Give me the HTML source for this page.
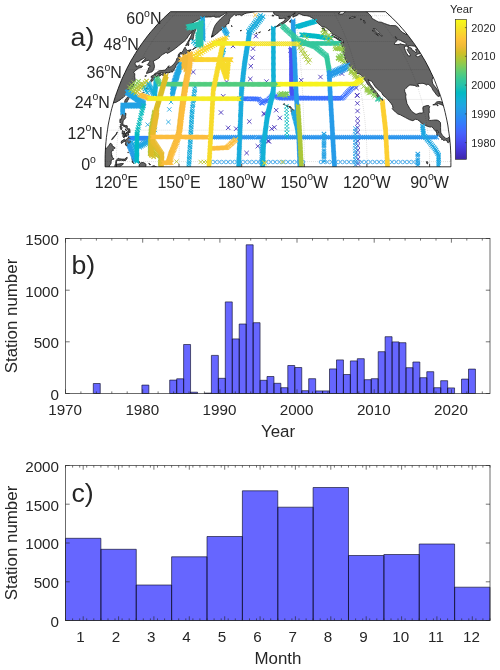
<!DOCTYPE html>
<html lang="en"><head><meta charset="utf-8"><title>Station distribution</title>
<style>html,body{margin:0;padding:0;background:#fff}body{width:500px;height:670px;overflow:hidden}svg{display:block}text{font-family:"Liberation Sans", Arial, Helvetica, sans-serif;fill:#262626}</style></head><body>
<svg width="500" height="670" viewBox="0 0 500 670">
<rect width="500" height="670" fill="#fff"/>
<defs><clipPath id="mapclip"><path d="M105.1 166.8 L105.1 162.6 L105.1 158.5 L105.2 154.3 L105.4 150.1 L105.6 145.9 L106 141.7 L106.4 137.5 L107 133.3 L107.6 129.2 L108.2 125 L109 120.9 L109.9 116.7 L110.8 112.6 L111.8 108.5 L113 104.4 L114.1 100.4 L115.4 96.3 L116.8 92.3 L118.3 88.3 L119.8 84.3 L121.4 80.3 L123.1 76.4 L125 72.5 L126.8 68.6 L128.8 64.8 L130.9 60.9 L133.1 57.2 L135.4 53.4 L137.7 49.7 L140.2 46 L142.7 42.4 L145.4 38.8 L148.1 35.2 L151 31.7 L154 28.3 L157 24.8 L160.2 21.5 L163.5 18.2 L167 14.9 L170.5 11.7 L385.5 11.7 L389 14.9 L392.5 18.2 L395.8 21.5 L399 24.8 L402 28.3 L405 31.7 L407.9 35.2 L410.6 38.8 L413.3 42.4 L415.8 46 L418.3 49.7 L420.6 53.4 L422.9 57.2 L425.1 60.9 L427.2 64.8 L429.2 68.6 L431 72.5 L432.9 76.4 L434.6 80.3 L436.2 84.3 L437.7 88.3 L439.2 92.3 L440.6 96.3 L441.9 100.4 L443 104.4 L444.2 108.5 L445.2 112.6 L446.1 116.7 L447 120.9 L447.8 125 L448.4 129.2 L449 133.3 L449.6 137.5 L450 141.7 L450.4 145.9 L450.6 150.1 L450.8 154.3 L450.9 158.5 L450.9 162.6 L450.9 166.8Z"/></clipPath>
<path id="mx" d="M-2 -2L2 2M-2 2L2 -2" fill="none"/>
<linearGradient id="cb" x1="0" y1="1" x2="0" y2="0">
<stop offset="0.0000" stop-color="#3e26a8"/>
<stop offset="0.0476" stop-color="#4332cb"/>
<stop offset="0.0952" stop-color="#4741e5"/>
<stop offset="0.1429" stop-color="#4852f4"/>
<stop offset="0.1905" stop-color="#4563fd"/>
<stop offset="0.2381" stop-color="#3875fe"/>
<stop offset="0.2857" stop-color="#2e87f7"/>
<stop offset="0.3333" stop-color="#2797eb"/>
<stop offset="0.3810" stop-color="#20a5e3"/>
<stop offset="0.4286" stop-color="#12b1d6"/>
<stop offset="0.4762" stop-color="#02bac3"/>
<stop offset="0.5238" stop-color="#24c1ae"/>
<stop offset="0.5714" stop-color="#37c897"/>
<stop offset="0.6190" stop-color="#57cc7a"/>
<stop offset="0.6667" stop-color="#81cc59"/>
<stop offset="0.7143" stop-color="#abc739"/>
<stop offset="0.7619" stop-color="#d1bf27"/>
<stop offset="0.8095" stop-color="#f0ba36"/>
<stop offset="0.8571" stop-color="#fec338"/>
<stop offset="0.9048" stop-color="#fad62d"/>
<stop offset="0.9524" stop-color="#f5e924"/>
<stop offset="1.0000" stop-color="#f9fb15"/>
</linearGradient></defs>
<g clip-path="url(#mapclip)">
<path d="M174.8 -3.3 L264.9 -3.3 L262.4 8.8 L254.1 11.9 L250 12.6 L246.8 13.1 L244.3 13.9 L241.4 15.7 L240 14.7 L237.3 14.8 L235.8 15.7 L235.2 14.9 L234.4 14.3 L232.6 15.9 L231.2 17.3 L229.9 18.8 L229 20 L229.8 20.6 L228.9 21.9 L228.9 23.4 L227.3 23.8 L225.8 25.7 L226 26.8 L223.4 27.6 L222 29.3 L219.6 30.8 L217.9 32.8 L216 34.1 L214.4 35.5 L213 36.6 L211.5 36.8 L212 34.8 L212.6 32.6 L213.5 29.3 L214.5 26.5 L215.7 24.4 L217.4 22.3 L219 20.6 L220.7 18.8 L223 16.7 L225.4 14.7 L227 13.3 L226.6 12.7 L224.7 13.7 L222.4 15.1 L220.2 16.3 L219.8 17.1 L217.9 17.1 L216.1 17.3 L214.7 17.1 L214.6 16.4 L212.9 16.3 L211.1 16.9 L208.4 16.9 L206.9 17.1 L203.8 17 L201.7 17.8 L198.2 19.8 L194.9 21.5 L192.8 22.9 L190.5 24.4 L187.3 26.3 L188.1 27 L187.1 28.5 L188.2 29.1 L189.6 28.5 L192 27.8 L192.4 28.9 L192.9 30 L191.8 31.7 L191.6 32.6 L190.1 33.7 L188.4 35.9 L187.1 38.1 L186.3 39.2 L183.9 41.5 L181.1 43.7 L178.3 46 L175.5 48.3 L172.9 50.2 L169.2 52.5 L167.1 53.4 L166.4 52.4 L165.5 52.7 L163.7 53.9 L162.5 54.6 L160.7 55.8 L159.2 57.9 L158.1 58.6 L155.7 60 L153.8 60.9 L153.2 61.9 L153.8 62.9 L154.2 64.5 L154.5 66.7 L153.7 69.6 L152.6 71.3 L151.8 71.9 L150.4 72.3 L149.1 72.7 L147.6 73.2 L146.5 73.6 L146.6 72.5 L147.6 70.8 L148.3 69.6 L148.5 67.9 L149.7 67.2 L150 65.7 L149 65.5 L147.7 65.2 L147.3 64.5 L148.7 63.1 L149.7 61.4 L149 60.7 L148.5 60.2 L146.5 60.7 L144.2 61.7 L141.9 62.9 L142.3 61.7 L144.2 60 L145.6 58.6 L144.8 57.9 L143.2 58.6 L140.5 60.2 L138.2 61.9 L136.4 62 L135 63.3 L135.1 64.5 L136.3 65.2 L136 66.7 L137.6 66.4 L139.6 65.2 L140.7 66 L142.6 66.2 L141.6 67.4 L138.8 68.1 L137.1 69.3 L135.1 70.8 L133.9 72 L133.6 73 L134.8 73.7 L134.7 76.9 L135.2 79.4 L135.3 80.1 L134.6 82.1 L132.5 83.1 L132.1 83.6 L133.1 84.1 L134 84.5 L133 86.3 L131.7 88.5 L130.2 89.5 L128.3 91.5 L126.6 93.3 L125.6 95.1 L124 96.6 L123 97.8 L121.7 98.3 L120.2 99.9 L118.1 101.1 L115.9 102.4 L113.2 102.9 L111 103.7 L103.4 105.7 L83.4 105.7Z M195.5 27.5 L196.1 28.7 L195.3 30.8 L194.5 32.6 L193.8 34.8 L193.6 36.6 L193.1 38.6 L193.4 39.2 L192 39.7 L191 38.6 L189.1 41 L188.7 42.6 L188.7 44 L188.8 44.9 L188.2 45.9 L187.8 44.5 L186.8 44.9 L185.7 46.1 L186.2 44.6 L187.5 42.4 L189 39.7 L190.5 37 L191.5 34.8 L192 32.8 L193.8 29.8Z M185.1 47.2 L185.7 48.5 L186.6 49.9 L187.8 50.7 L189.6 49.9 L188.8 51.1 L189.6 52.1 L187.9 52.9 L186.5 53.1 L185.3 53.9 L184 55.3 L182.9 54.6 L182 53.9 L180.5 54.1 L179.3 54.6 L179.7 55.8 L178 56.6 L178.3 54.8 L180 52.5 L181.6 52.5 L183 50.9 L184 48.8Z M179.4 56.5 L180.3 56.7 L179.4 58.6 L179.7 60.2 L179.4 61.4 L177.9 63.6 L176.6 64.3 L176 65.7 L175.5 67.4 L174.1 69.1 L174.2 70.2 L173 71.5 L171.8 72.3 L172 71 L171 71.3 L170.3 72.3 L169.6 73 L169.3 72 L168.4 72.9 L166.7 73 L166.3 72 L165.4 73 L165.8 73.7 L164.3 74.7 L163 75.8 L162.1 74.7 L162.6 73.6 L163.3 72.9 L161.9 72.6 L160.6 73 L159.1 73.6 L157.4 73.7 L156 74.4 L154.3 74.4 L154.8 73.5 L156.5 72.7 L158.8 70.9 L160.2 70.6 L162.1 70.6 L164 70.2 L165.3 70.3 L166 68.9 L167.6 67.4 L168.2 66.2 L169.4 66 L168.4 66.9 L168.3 67.7 L169.9 67.2 L171.5 66.2 L173.7 64.3 L175.5 61.9 L176.4 60.2 L176.8 58.6 L178.1 57.2Z M157.1 75.2 L158.4 74.4 L160.5 73.5 L161.5 74 L161.2 74.9 L160 76.2 L158.9 75.7 L157.2 77.5 L156.6 77.1 L156.6 75.9Z M154.3 74.6 L155.5 75.4 L155.6 76.4 L155.1 77.6 L153.6 79.8 L152.4 81.1 L151.4 81.8 L150.6 81.2 L151.4 79.1 L152.5 77.9 L152.1 76.9 L151 77.4 L151.3 76.2 L152.2 75.7 L153.1 75.3Z M129.2 96.1 L129.8 96.8 L129 98.3 L127.7 100.6 L126.6 102.7 L125.3 104.7 L125.1 103.7 L124.7 101.9 L125 100.4 L126.3 98.6 L127.8 96.8Z M122.8 113.3 L124 113.1 L126 113.4 L125.6 116.5 L125.8 117.5 L124.6 119.3 L123.2 120.6 L122.9 122.9 L122.9 124.8 L124 125.1 L125.4 125.5 L127.2 125.8 L127.3 127.6 L127.3 128.8 L126.6 128.1 L125.7 127.6 L124.9 126.2 L124.1 127.1 L123.5 125.7 L122.8 125.3 L121.6 125.9 L120.5 125.4 L120.7 124.2 L121.5 123.7 L120.9 123.1 L120.2 122.9 L119.9 122.4 L119.9 120.1 L120.2 118.9 L120.9 119.7 L121.4 117.8 L121.9 116 L122.1 114.7Z M119.9 126.3 L121 126.3 L122 127.4 L121.7 129.4 L120.9 129.7 L120.4 128.4Z M111.6 139.7 L112.6 138 L114.7 135.7 L115.9 134.4 L117.3 131.9 L116.6 133.9 L115.3 135.7 L113.7 137.8 L112.5 139.3Z M122.4 130.5 L123.7 131.4 L124.9 131.4 L124.4 132.8 L123.4 133.7 L122.1 134.2 L122.2 132.8Z M122.8 135.6 L124.1 133.1 L125.5 133.1 L124.7 135.4 L124.5 137.2 L123.8 137.9 L123 136.9Z M124.6 136.9 L125.4 134.9 L126.6 132.2 L126.3 134.1 L125.5 135.7Z M125.6 136.5 L126.4 135 L127.4 135.4 L127.1 136.3 L126 136.6Z M127.6 128.8 L129.6 128.8 L129.9 130 L130.1 132.6 L128.8 132.2 L128.6 130.9 L127.6 129.7Z M127.3 131.6 L128.4 131.8 L128.5 133.5 L128.7 135.2 L127.8 135 L127.9 133.9 L127.2 133.1Z M125.3 128.9 L126.3 129.7 L126.8 130.7 L125.7 130.3Z M129 135.9 L130.1 137.2 L130.6 139.6 L130.6 141.9 L130.9 142.6 L129.9 144.8 L129.7 143.5 L129 142.7 L128.2 144 L128.6 145.9 L128.1 146.9 L127.6 146.1 L125.7 145.3 L125.3 143.9 L125.9 142.5 L124.7 141.4 L123.6 141.9 L123 142.2 L121.5 143.5 L121.1 143 L121.6 140.9 L122.9 140.3 L124.3 139.1 L125.3 139.9 L125.2 140.6 L126.4 139.2 L127.5 138.3 L128.3 138Z M75 148.5 L106.3 148.6 L107.2 147.4 L108.6 145.9 L110.2 143.3 L111.2 143.5 L112.2 144.8 L112.1 146 L112.9 146.3 L114.7 147.4 L115.2 148.1 L113.8 148.6 L112.9 149.5 L113.7 150.1 L112.2 150.6 L111.3 152.2 L111.7 153.7 L111.4 155.8 L112.4 155.8 L112 156.9 L114.1 159 L112.6 159.5 L111.5 159.8 L111.1 161.6 L111.1 163.2 L110.5 164.5 L109.7 165 L109.1 167.4 L108.9 172.1 L74.9 172.1Z M115.9 161.6 L116.1 160.3 L117 159.4 L118.2 158.2 L119.5 158.8 L121.2 159 L122.6 159.1 L124.7 159.1 L126.2 157.8 L127.2 157.3 L127.2 158.2 L125.7 160.4 L123.6 160.7 L121.6 160.3 L119.1 160.4 L117.2 160.4 L116.4 161.6 L116.4 163.2 L117.6 164.2 L118.9 164 L119.9 163.8 L121.1 163.6 L123.4 163.6 L123.2 164.2 L121.4 165.5 L119.9 166.6 L119.7 172.1 L114.5 172.1 L114.9 165.5 L115.7 163.4Z M132 159 L132.1 156.9 L132.9 155.8 L133.1 157.7 L132.8 159 L134.5 157.5 L134.5 158.7 L133.4 159.6 L134.5 160.7 L133.5 160.7 L132.9 161.6 L133.9 163.7 L132.8 162.5 L132.3 162.4 L132.3 160.6Z M133.5 156.1 L134.4 154.8 L134.6 156.1Z M139.3 172.1 L139.1 165 L139.8 163.7 L141.4 162.6 L143.3 162.5 L145.4 163.6 L146 164.7 L145.8 166.8 L146.7 168.4 L148.2 170.3 L149.8 168.4 L152.3 166.3 L154 165.7 L156.1 166.8 L159.2 168.2 L161.3 168.7 L161.4 172.1Z M148.7 163.4 L150 164 L150.6 164.6 L149.6 164.7Z M137.8 161.9 L139.3 161.6 L139.9 162.4 L138.3 162.6Z M127.8 152.7 L128.2 151.9 L128.4 152.7Z M130.6 151.1 L131 149.8 L131 151.1Z M189.3 51.1 L191 49.5 L191.3 49.9 L189.6 51.3Z M192.5 49.5 L195.1 47.6 L196.6 47.2 L194.4 48.5 L192.8 49.7Z M197.9 46.9 L200.1 45.6 L199.5 46.2Z M211.1 37 L212.8 35.2 L213.2 35.7 L211.5 37.2Z M141.7 94.1 L142.7 92.8 L143.5 92.2 L142.6 93.4Z M146.3 88.8 L147.5 88 L146.7 88.9Z M144.8 76.2 L145.9 75.5 L146.5 75.8 L145.4 76.4Z M291.1 110.3 L291.3 108.7 L292.7 109 L294 110.8 L292.1 112.8 L291 111.3Z M289.4 107.2 L290.3 106.6 L291.4 107.6 L290.4 108.3Z M286.4 105.7 L287.3 104.9 L288.1 106.2 L287 106.6Z M283.4 104.3 L284.2 103.5 L284.9 104.4 L284.1 105.1Z M288.6 106.6 L289.7 106.5 L289.6 106.9Z M270.2 -3.3 L376.1 -3.3 L450.2 74.4 L435.1 74.4 L433.9 75.4 L433.8 76.9 L433.1 77.6 L432.2 79.2 L432.2 81.1 L432.7 83.3 L433.5 84.8 L435.1 86.8 L436.3 88.2 L437.5 90.3 L438.7 92.3 L439.5 94.8 L439.4 96.3 L438.2 96.4 L436.3 94.8 L435.2 93 L433.8 91.3 L432.7 89.8 L431.9 87.8 L430.7 86.5 L428.8 84.5 L427.6 84.2 L426.6 85.2 L425.3 84.2 L423 83.3 L421.7 83.4 L420.3 83.6 L418.9 83.4 L417.7 83.8 L418.9 86.5 L417.9 86 L416.5 86.5 L414.8 85.5 L412.2 85.2 L409.9 85 L408.1 86 L407.2 87.3 L405.9 88.3 L404.7 89.5 L404.7 91.3 L406 94.4 L405.7 96.8 L406.2 99.9 L407 103.7 L408.2 105.7 L409.6 108.3 L411.9 111.5 L413.9 112.9 L416 114.3 L417.7 113.7 L419.8 113 L422.3 113.1 L423.3 112.1 L423 109.9 L422.8 108 L423.3 106.7 L425.1 106.1 L427 105.6 L428.8 105.6 L429.7 106.5 L429.1 108.5 L429.2 110.6 L429.3 112.9 L428.6 113.7 L428.9 116 L429.3 118.6 L428.5 120.1 L429.4 120.5 L431.2 120.4 L433.2 120.2 L435.2 120 L437.2 120.1 L439.1 121.1 L440.4 122.4 L440.6 125 L440.6 127.6 L440.6 130.2 L440.9 132.9 L442.5 135.4 L443.9 136.7 L444.7 137.2 L445.7 138.4 L447.2 138.4 L448.3 137.6 L449.3 137 L450.3 136.5 L452.2 136.7 L455.5 138.8 L455.7 140.6 L452.7 139.9 L451.3 138.6 L450.3 138.2 L449.8 139.6 L449.5 141.9 L448.6 142.6 L447.6 142.5 L447.2 140.9 L445.3 140.1 L443.5 140.5 L442.5 139.3 L441.7 139.6 L441.6 138.3 L439.3 136.5 L438.9 135.6 L436.7 135.7 L436.8 133.1 L436.2 131.8 L434.3 129.7 L433 127.9 L431.8 126.8 L430.2 127.1 L427.4 126.3 L425.2 125.3 L422.1 123.7 L419.2 120.9 L417.4 119.6 L415.3 119.3 L412.9 120.7 L409.7 119.8 L405.5 117.6 L402.5 116 L400.3 114.8 L397.7 113.9 L395.6 112 L393.5 110.3 L392.2 108.5 L392.9 107.8 L392.5 105.7 L391.3 103.7 L389.4 101.4 L386.9 98.6 L384.9 96.8 L383 95.3 L381.7 92.8 L380.2 91.3 L378 89.5 L376.3 88 L374.7 86 L373.2 83.6 L371.7 81.3 L369.1 80.3 L368 79.6 L368.9 81.8 L370.3 84.3 L372.2 86.8 L374.1 89.3 L376.2 91.8 L378.1 94.3 L380 96.8 L381.1 98.6 L382.6 99.1 L383.2 100.9 L382.6 102.1 L381.3 100.6 L378.7 98.3 L377.4 97.3 L376.3 94.8 L374 92.5 L372.4 92.3 L370.2 89.8 L371.5 88.8 L369.8 86.3 L367.7 84.5 L366.3 81.8 L364.3 78.9 L363.2 77.6 L361.6 75.7 L360.2 74.4 L357.9 73.5 L356 73.2 L354.9 71 L352 68.1 L350.1 65.7 L348.8 64.8 L346.9 62.4 L345 59.1 L344.4 56 L343.1 53.4 L342.6 49.2 L341.8 45.6 L340.5 42.6 L339.3 40.6 L341.5 41.1 L343.7 43.1 L343.1 40.8 L341.6 39.2 L339.5 37.9 L337.5 36.8 L334.5 35 L332.4 34.3 L331.2 32.2 L329.4 30.4 L326.8 28.3 L324.3 27 L321.9 26.8 L320.4 25.3 L318.9 24 L317.4 22.9 L316.3 21.3 L315 19.8 L313.6 18.8 L311.9 17.8 L309.3 16.3 L306.5 15.7 L303.8 15.5 L302 14.9 L300 13.9 L298.1 13.9 L297.4 15.3 L295.7 15.9 L294.5 16.5 L292.9 17.2 L292.9 15.3 L294.2 13.7 L295.3 13.1 L293.4 13.7 L291.7 15.7 L290.4 16.9 L289.7 18.6 L288 20.2 L286 21.9 L283.9 23.4 L281.8 24.6 L279.6 25.5 L277.4 26.4 L276.8 26.1 L278.9 24.2 L281 22.9 L283.8 21.3 L285.1 19.4 L285.8 18.4 L283.7 18.2 L282.3 18.6 L279 18.5 L279.2 16.7 L278.1 15.7 L275.8 15.1 L274.1 14.1 L273.4 12.1 L274.3 10.7 L274.4 8.8 L268.7 8.8Z M331.6 35.2 L334.2 36.3 L337 37.7 L339.7 39.2 L341.4 40.6 L340.5 40.7 L338.3 39.9 L335.5 37.9 L332.7 36.6Z M322.1 28 L324.3 28.3 L324.8 30 L326.5 32.4 L324.8 31.3 L323 29.5Z M289.5 21.3 L291.2 19.8 L292.7 20.6 L291.4 21.9 L289.9 22.3Z M271.8 15.7 L272.8 15 L274.1 15.7 L273.1 16.1Z M266.4 9.2 L269.4 8.4 L270.5 9.3 L268.6 9.7Z M274.3 27 L276.8 26.3 L275.9 27.4Z M270.9 29.5 L272.5 28.4 L272.6 29.1Z M268.4 30.6 L270 29.3 L269.6 30.2Z M258.6 32.6 L260.5 31.9 L259.6 32.6Z M255.7 33.5 L256.7 32.7 L256.6 33.5Z M240.1 30.7 L241.5 30.4 L241.2 30.8Z M231.5 25.4 L232.1 26.1 L231.8 26.8Z M432.8 104.8 L434.5 104.4 L435.3 103.2 L436.6 102 L438.6 101.5 L440.9 101.8 L443.2 102.9 L445.4 103.7 L448.8 104.9 L449.7 108.3 L446 105.7 L442.9 105.3 L440.7 104.4 L438.5 103.7 L437.4 104.1 L435.4 104.8 L434 104.9Z M437 105.7 L437.3 104.7 L438.2 105.6Z M382 112.9 L382.4 112.5 L382.5 112.9Z M426.5 163.2 L426.9 161.3 L427.8 162.4 L427.5 164Z" fill="#666666" stroke="#161616" stroke-width="0.8" stroke-linejoin="round"/>
<path d="M350.1 -3.3 L366.4 11.7 L368.9 13.7 L371.6 16.7 L371.7 18.2 L376.5 20.9 L378.5 21.9 L381.3 22.3 L384.3 23.4 L387.5 24.6 L390.4 25.5 L395.8 25.7 L397.8 27.2 L400.3 30.4 L402.8 32.6 L405.6 34.1 L407.4 34.1 L407 32.6 L405.4 30.4 L402.1 27.2 L401.7 25.7 L402.2 24 L399.6 20.9 L395.7 18.2 L392.3 15.7 L390.8 13.7 L389.1 11.7 L368.7 -3.3Z M394.4 44.4 L394.6 43.1 L395.6 42 L396.6 41 L397 39.9 L398.2 39.8 L400.5 40.4 L402.7 41.7 L404.9 42.6 L406.8 44.2 L406.4 44.9 L404.7 44.8 L403 44.6 L401.3 44.1 L399.9 43.7 L399.5 44.3 L397.2 44.6Z M408.5 56 L406.4 52.9 L405.4 50.6 L404.6 48.3 L404.3 46.7 L406.1 46.1 L407.8 46.5 L408.3 48.3 L407.1 49.5 L408.3 51.8 L410.3 54.6 L410.2 56Z M407.8 46.2 L409 45.6 L411.7 45.8 L414.5 46.2 L417 48.3 L417.5 49.2 L415.6 49.2 L416.4 51.8 L415.9 52.9 L414.1 50.9 L412.6 50.6 L411.5 48.3 L409.2 47.2Z M415.8 56 L416.1 55 L418 53.9 L420.4 53.6 L422.1 53.2 L422.7 53.9 L420.6 55.3 L418.7 56.5 L417.4 56.7Z M419.9 52.2 L420.7 51.3 L423.3 50.2 L425.6 51.5 L423.1 52.4Z M373.4 28.5 L375.2 28.9 L377 30.4 L378.9 32.6 L380.8 34.3 L382.3 36 L381.4 36.1 L380 34.6 L377.5 32.8 L375.6 31.1 L374.6 29.8Z M372.3 30.2 L374.2 31.5 L375.9 33.2 L378.2 35.2 L378.2 35.9 L375.3 33.5 L373.4 31.9Z M349.1 18.4 L350.9 17.3 L353.2 16.7 L355.5 17.1 L353.2 17.8 L350.9 18.4Z M364.4 23.2 L363.8 21.5 L363.6 20 L364.9 21.9 L365.2 23.2Z M338.4 13.7 L339.8 12.7 L340.8 11.3 L343.2 10.1 L346.4 10.1 L346 11.3 L344.2 12.5 L343.2 13.9 L340.7 14.1Z M360.6 19.8 L360.6 18.8 L361.6 19.4Z M395.6 38.3 L395.2 36.6 L396.7 37.7 L396.7 38.6Z M287.7 16.7 L289.7 16.1 L290 16.5 L288.1 17.1Z M167.7 49 L169.1 47.6 L169.2 48.8 L168.2 49.5Z M436.3 130.5 L437 130 L438.8 132.3 L438 132.6Z" fill="#fff" stroke="#161616" stroke-width="0.8" stroke-linejoin="round"/>
<path d="M105.1 161.6L450.9 161.6 M107.4 130.2L448.6 130.2 M114.5 99.4L441.5 99.4 M126.4 69.6L429.6 69.6 M143.4 41.5L412.6 41.5 M166.1 15.7L389.9 15.7 M116.4 166.8 L116.3 159.9 L116.5 152.9 L116.9 145.9 L117.5 138.9 L118.3 131.9 L119.3 125 L120.6 118.1 L122 111.3 L123.7 104.4 L125.6 97.7 L127.8 91 L130.1 84.3 L132.7 77.7 L135.5 71.2 L138.6 64.8 L141.9 58.4 L145.4 52.2 L149.2 46 L153.2 40 L157.5 34.1 L162.1 28.3 L166.9 22.6 L172 17.1 L177.5 11.7 M179 166.8 L179 159.9 L179.1 152.9 L179.3 145.9 L179.7 138.9 L180.2 131.9 L180.8 125 L181.6 118.1 L182.5 111.3 L183.5 104.4 L184.7 97.7 L186 91 L187.4 84.3 L189 77.7 L190.7 71.2 L192.6 64.8 L194.6 58.4 L196.8 52.2 L199.1 46 L201.6 40 L204.2 34.1 L207 28.3 L210 22.6 L213.1 17.1 L216.5 11.7 M241.7 166.8 L241.7 159.9 L241.7 152.9 L241.8 145.9 L241.9 138.9 L242.1 131.9 L242.3 125 L242.6 118.1 L242.9 111.3 L243.3 104.4 L243.7 97.7 L244.2 91 L244.8 84.3 L245.3 77.7 L246 71.2 L246.7 64.8 L247.4 58.4 L248.2 52.2 L249 46 L249.9 40 L250.9 34.1 L251.9 28.3 L253 22.6 L254.2 17.1 L255.4 11.7 M304.3 166.8 L304.3 159.9 L304.3 152.9 L304.2 145.9 L304.1 138.9 L304 131.9 L303.8 125 L303.6 118.1 L303.4 111.3 L303.1 104.4 L302.8 97.7 L302.5 91 L302.1 84.3 L301.7 77.7 L301.2 71.2 L300.7 64.8 L300.2 58.4 L299.6 52.2 L299 46 L298.3 40 L297.6 34.1 L296.9 28.3 L296.1 22.6 L295.2 17.1 L294.4 11.7 M366.9 166.8 L367 159.9 L366.9 152.9 L366.7 145.9 L366.4 138.9 L365.9 131.9 L365.3 125 L364.7 118.1 L363.8 111.3 L362.9 104.4 L361.9 97.7 L360.7 91 L359.4 84.3 L358 77.7 L356.4 71.2 L354.7 64.8 L352.9 58.4 L351 52.2 L348.9 46 L346.7 40 L344.3 34.1 L341.8 28.3 L339.1 22.6 L336.3 17.1 L333.3 11.7 M429.6 166.8 L429.6 159.9 L429.5 152.9 L429.1 145.9 L428.6 138.9 L427.8 131.9 L426.8 125 L425.7 118.1 L424.3 111.3 L422.7 104.4 L420.9 97.7 L418.9 91 L416.7 84.3 L414.3 77.7 L411.6 71.2 L408.8 64.8 L405.7 58.4 L402.4 52.2 L398.9 46 L395.1 40 L391 34.1 L386.8 28.3 L382.2 22.6 L377.4 17.1 L372.3 11.7" fill="none" stroke="#000" stroke-opacity="0.22" stroke-width="0.6" stroke-dasharray="1 1"/>
<path d="M191.1 69.8l4.4 4.4m-4.4 0l4.4 -4.4M230.8 43.8l4.4 4.4m-4.4 0l4.4 -4.4M224.4 79.8l4.4 4.4m-4.4 0l4.4 -4.4" fill="none" stroke="#402bb8" stroke-width="0.85"/>
<path d="M221 94.1l4.4 4.4m-4.4 0l4.4 -4.4M218.8 110.3l4.4 4.4m-4.4 0l4.4 -4.4M226 125.6l4.4 4.4m-4.4 0l4.4 -4.4M234 126.5l4.4 4.4m-4.4 0l4.4 -4.4M247.1 119.3l4.4 4.4m-4.4 0l4.4 -4.4M262 112.1l4.4 4.4m-4.4 0l4.4 -4.4M255.6 144l4.4 4.4m-4.4 0l4.4 -4.4M244.4 150.8l4.4 4.4m-4.4 0l4.4 -4.4M266.8 139.1l4.4 4.4m-4.4 0l4.4 -4.4" fill="none" stroke="#402bb8" stroke-width="0.85"/>
<path d="M261.8 111.2l4.4 4.4m-4.4 0l4.4 -4.4M274 108l4.4 4.4m-4.4 0l4.4 -4.4M277.6 115.7l4.4 4.4m-4.4 0l4.4 -4.4M272.2 125.1l4.4 4.4m-4.4 0l4.4 -4.4M269.5 126.5l4.4 4.4m-4.4 0l4.4 -4.4M265.9 138.8l4.4 4.4m-4.4 0l4.4 -4.4" fill="none" stroke="#402bb8" stroke-width="0.85"/>
<path d="M253.6 33.9l4.4 4.4m-4.4 0l4.4 -4.4M250.8 46.5l4.4 4.4m-4.4 0l4.4 -4.4M250 55.5l4.4 4.4m-4.4 0l4.4 -4.4M248.6 64l4.4 4.4m-4.4 0l4.4 -4.4M248.1 76.8l4.4 4.4m-4.4 0l4.4 -4.4M264.3 79.4l4.4 4.4m-4.4 0l4.4 -4.4M299 78l4.4 4.4m-4.4 0l4.4 -4.4M318.3 74.8l4.4 4.4m-4.4 0l4.4 -4.4M288.2 48.3l4.4 4.4m-4.4 0l4.4 -4.4" fill="none" stroke="#402bb8" stroke-width="0.85"/>
<path d="M339.8 71.4l4.4 4.4m-4.4 0l4.4 -4.4M354.2 85.8l4.4 4.4m-4.4 0l4.4 -4.4M355 93l4.4 4.4m-4.4 0l4.4 -4.4" fill="none" stroke="#402bb8" stroke-width="0.85"/>
<path d="M355.1 93.4l4.4 4.4m-4.4 0l4.4 -4.4M355.2 101.1l4.4 4.4m-4.4 0l4.4 -4.4M355.3 108.8l4.4 4.4m-4.4 0l4.4 -4.4M355.4 116.5l4.4 4.4m-4.4 0l4.4 -4.4" fill="none" stroke="#402bb8" stroke-width="0.85"/>
<path d="M355.4 121l4.4 4.4m-4.4 0l4.4 -4.4M355.4 125.5l4.4 4.4m-4.4 0l4.4 -4.4M355.5 130l4.4 4.4m-4.4 0l4.4 -4.4M355.5 134.5l4.4 4.4m-4.4 0l4.4 -4.4M355.6 139l4.4 4.4m-4.4 0l4.4 -4.4M355.6 143.5l4.4 4.4m-4.4 0l4.4 -4.4M355.6 148l4.4 4.4m-4.4 0l4.4 -4.4M355.7 152.5l4.4 4.4m-4.4 0l4.4 -4.4M355.7 157l4.4 4.4m-4.4 0l4.4 -4.4M355.8 161.5l4.4 4.4m-4.4 0l4.4 -4.4" fill="none" stroke="#402bb8" stroke-width="0.85"/>
<path d="M289.1 46.5l4.4 4.4m-4.4 0l4.4 -4.4M289.1 47.7l4.4 4.4m-4.4 0l4.4 -4.4M289.1 48.9l4.4 4.4m-4.4 0l4.4 -4.4M289.1 50.1l4.4 4.4m-4.4 0l4.4 -4.4M289.1 51.3l4.4 4.4m-4.4 0l4.4 -4.4M289.1 52.5l4.4 4.4m-4.4 0l4.4 -4.4M289.1 53.7l4.4 4.4m-4.4 0l4.4 -4.4M289.1 54.9l4.4 4.4m-4.4 0l4.4 -4.4M289.1 56.1l4.4 4.4m-4.4 0l4.4 -4.4M289.2 57.3l4.4 4.4m-4.4 0l4.4 -4.4M289.2 58.5l4.4 4.4m-4.4 0l4.4 -4.4M289.2 59.7l4.4 4.4m-4.4 0l4.4 -4.4M289.2 60.9l4.4 4.4m-4.4 0l4.4 -4.4M289.2 62.1l4.4 4.4m-4.4 0l4.4 -4.4M289.2 63.3l4.4 4.4m-4.4 0l4.4 -4.4M289.2 64.5l4.4 4.4m-4.4 0l4.4 -4.4M289.2 65.7l4.4 4.4m-4.4 0l4.4 -4.4M289.2 66.9l4.4 4.4m-4.4 0l4.4 -4.4M289.2 68.1l4.4 4.4m-4.4 0l4.4 -4.4M289.2 69.3l4.4 4.4m-4.4 0l4.4 -4.4M289.2 70.5l4.4 4.4m-4.4 0l4.4 -4.4M289.2 71.7l4.4 4.4m-4.4 0l4.4 -4.4M289.2 72.9l4.4 4.4m-4.4 0l4.4 -4.4M289.2 74.1l4.4 4.4m-4.4 0l4.4 -4.4M289.2 75.3l4.4 4.4m-4.4 0l4.4 -4.4M289.2 76.5l4.4 4.4m-4.4 0l4.4 -4.4M289.3 77.7l4.4 4.4m-4.4 0l4.4 -4.4M289.3 78.9l4.4 4.4m-4.4 0l4.4 -4.4M289.3 80.1l4.4 4.4m-4.4 0l4.4 -4.4M289.3 81.3l4.4 4.4m-4.4 0l4.4 -4.4M289.3 82.5l4.4 4.4m-4.4 0l4.4 -4.4M289.3 83.7l4.4 4.4m-4.4 0l4.4 -4.4M289.3 84.9l4.4 4.4m-4.4 0l4.4 -4.4M289.3 86.1l4.4 4.4m-4.4 0l4.4 -4.4M289.3 87.3l4.4 4.4m-4.4 0l4.4 -4.4M289.4 88.5l4.4 4.4m-4.4 0l4.4 -4.4M289.7 89.7l4.4 4.4m-4.4 0l4.4 -4.4M289.9 90.8l4.4 4.4m-4.4 0l4.4 -4.4M290.2 92l4.4 4.4m-4.4 0l4.4 -4.4M290.5 93.2l4.4 4.4m-4.4 0l4.4 -4.4M290.7 94.4l4.4 4.4m-4.4 0l4.4 -4.4" fill="none" stroke="#4852f4" stroke-width="1.05"/>
<path d="M291.3 87.8l4.4 4.4m-4.4 0l4.4 -4.4M291.4 89l4.4 4.4m-4.4 0l4.4 -4.4M291.5 90.2l4.4 4.4m-4.4 0l4.4 -4.4M291.6 91.4l4.4 4.4m-4.4 0l4.4 -4.4M291.6 92.6l4.4 4.4m-4.4 0l4.4 -4.4M291.7 93.8l4.4 4.4m-4.4 0l4.4 -4.4" fill="none" stroke="#4852f4" stroke-width="1.05"/>
<path d="M237.2 96.4l4.4 4.4m-4.4 0l4.4 -4.4M238.8 96.4l4.4 4.4m-4.4 0l4.4 -4.4M240.4 96.5l4.4 4.4m-4.4 0l4.4 -4.4M242 96.5l4.4 4.4m-4.4 0l4.4 -4.4M243.6 96.5l4.4 4.4m-4.4 0l4.4 -4.4M245.2 96.6l4.4 4.4m-4.4 0l4.4 -4.4M246.8 96.6l4.4 4.4m-4.4 0l4.4 -4.4M248.4 96.6l4.4 4.4m-4.4 0l4.4 -4.4M250 96.7l4.4 4.4m-4.4 0l4.4 -4.4M251.6 96.7l4.4 4.4m-4.4 0l4.4 -4.4M253.2 96.7l4.4 4.4m-4.4 0l4.4 -4.4M254.8 96.8l4.4 4.4m-4.4 0l4.4 -4.4M256.4 96.8l4.4 4.4m-4.4 0l4.4 -4.4M257.5 97.8l4.4 4.4m-4.4 0l4.4 -4.4M258.4 99.1l4.4 4.4m-4.4 0l4.4 -4.4M259.2 100.5l4.4 4.4m-4.4 0l4.4 -4.4M260.2 100.9l4.4 4.4m-4.4 0l4.4 -4.4M261.4 99.8l4.4 4.4m-4.4 0l4.4 -4.4M262.6 98.8l4.4 4.4m-4.4 0l4.4 -4.4M264.2 98.7l4.4 4.4m-4.4 0l4.4 -4.4M265.5 98.1l4.4 4.4m-4.4 0l4.4 -4.4M266.7 96.9l4.4 4.4m-4.4 0l4.4 -4.4M267.8 95.8l4.4 4.4m-4.4 0l4.4 -4.4M268.9 94.7l4.4 4.4m-4.4 0l4.4 -4.4M270.1 93.5l4.4 4.4m-4.4 0l4.4 -4.4M271.5 93.6l4.4 4.4m-4.4 0l4.4 -4.4M273 94.2l4.4 4.4m-4.4 0l4.4 -4.4M274.5 94.7l4.4 4.4m-4.4 0l4.4 -4.4M276 95.3l4.4 4.4m-4.4 0l4.4 -4.4M277.5 95.8l4.4 4.4m-4.4 0l4.4 -4.4M279 95.9l4.4 4.4m-4.4 0l4.4 -4.4M280.6 95.9l4.4 4.4m-4.4 0l4.4 -4.4M282.2 95.9l4.4 4.4m-4.4 0l4.4 -4.4M283.8 95.9l4.4 4.4m-4.4 0l4.4 -4.4M285.4 95.9l4.4 4.4m-4.4 0l4.4 -4.4M287 95.9l4.4 4.4m-4.4 0l4.4 -4.4M288.6 95.9l4.4 4.4m-4.4 0l4.4 -4.4M290.2 95.9l4.4 4.4m-4.4 0l4.4 -4.4M291.8 95.9l4.4 4.4m-4.4 0l4.4 -4.4M293.4 95.9l4.4 4.4m-4.4 0l4.4 -4.4M295 95.9l4.4 4.4m-4.4 0l4.4 -4.4M296.6 95.9l4.4 4.4m-4.4 0l4.4 -4.4M298.2 95.9l4.4 4.4m-4.4 0l4.4 -4.4M299.8 95.9l4.4 4.4m-4.4 0l4.4 -4.4M301.4 95.9l4.4 4.4m-4.4 0l4.4 -4.4M303 95.9l4.4 4.4m-4.4 0l4.4 -4.4M304.6 95.9l4.4 4.4m-4.4 0l4.4 -4.4M306.2 96l4.4 4.4m-4.4 0l4.4 -4.4M307.8 96l4.4 4.4m-4.4 0l4.4 -4.4M309.4 96l4.4 4.4m-4.4 0l4.4 -4.4M311 96l4.4 4.4m-4.4 0l4.4 -4.4M312.6 96l4.4 4.4m-4.4 0l4.4 -4.4M314.2 96l4.4 4.4m-4.4 0l4.4 -4.4M315.8 96l4.4 4.4m-4.4 0l4.4 -4.4M317.4 96l4.4 4.4m-4.4 0l4.4 -4.4M319 96l4.4 4.4m-4.4 0l4.4 -4.4M320.6 96l4.4 4.4m-4.4 0l4.4 -4.4M322.2 96l4.4 4.4m-4.4 0l4.4 -4.4M323.8 96l4.4 4.4m-4.4 0l4.4 -4.4M325.4 96l4.4 4.4m-4.4 0l4.4 -4.4M327 96l4.4 4.4m-4.4 0l4.4 -4.4M328.6 96.1l4.4 4.4m-4.4 0l4.4 -4.4M330.2 96.1l4.4 4.4m-4.4 0l4.4 -4.4M331.8 96.1l4.4 4.4m-4.4 0l4.4 -4.4M333.4 96.1l4.4 4.4m-4.4 0l4.4 -4.4M335 96.1l4.4 4.4m-4.4 0l4.4 -4.4M336.6 96.1l4.4 4.4m-4.4 0l4.4 -4.4M338.2 96.1l4.4 4.4m-4.4 0l4.4 -4.4M339.8 96.1l4.4 4.4m-4.4 0l4.4 -4.4M341 95.2l4.4 4.4m-4.4 0l4.4 -4.4M342.1 94l4.4 4.4m-4.4 0l4.4 -4.4M343.1 92.7l4.4 4.4m-4.4 0l4.4 -4.4M344.2 91.5l4.4 4.4m-4.4 0l4.4 -4.4M345.2 90.3l4.4 4.4m-4.4 0l4.4 -4.4M346.4 89.2l4.4 4.4m-4.4 0l4.4 -4.4M347.5 88.1l4.4 4.4m-4.4 0l4.4 -4.4M348.6 86.9l4.4 4.4m-4.4 0l4.4 -4.4M349.7 85.8l4.4 4.4m-4.4 0l4.4 -4.4M350.8 84.6l4.4 4.4m-4.4 0l4.4 -4.4M352 83.5l4.4 4.4m-4.4 0l4.4 -4.4M353.1 82.4l4.4 4.4m-4.4 0l4.4 -4.4" fill="none" stroke="#3d70ff" stroke-width="1.05"/>
<path d="M128.6 136l4.4 4.4m-4.4 0l4.4 -4.4M129.7 136l4.4 4.4m-4.4 0l4.4 -4.4M130.8 136l4.4 4.4m-4.4 0l4.4 -4.4M131.9 136l4.4 4.4m-4.4 0l4.4 -4.4M133 136l4.4 4.4m-4.4 0l4.4 -4.4M134.1 136l4.4 4.4m-4.4 0l4.4 -4.4M135.2 136l4.4 4.4m-4.4 0l4.4 -4.4M136.3 136l4.4 4.4m-4.4 0l4.4 -4.4M137.4 136l4.4 4.4m-4.4 0l4.4 -4.4M138.5 136l4.4 4.4m-4.4 0l4.4 -4.4M139.6 136l4.4 4.4m-4.4 0l4.4 -4.4M140.7 136l4.4 4.4m-4.4 0l4.4 -4.4M141.8 136l4.4 4.4m-4.4 0l4.4 -4.4M142.9 136l4.4 4.4m-4.4 0l4.4 -4.4M144 136l4.4 4.4m-4.4 0l4.4 -4.4M145.1 136l4.4 4.4m-4.4 0l4.4 -4.4M146.2 136l4.4 4.4m-4.4 0l4.4 -4.4M147.3 136l4.4 4.4m-4.4 0l4.4 -4.4" fill="none" stroke="#2e87f7" stroke-width="1.05"/>
<path d="M208.4 135l4.4 4.4m-4.4 0l4.4 -4.4M210.3 135l4.4 4.4m-4.4 0l4.4 -4.4M212.2 135l4.4 4.4m-4.4 0l4.4 -4.4M214.1 135l4.4 4.4m-4.4 0l4.4 -4.4M216 135l4.4 4.4m-4.4 0l4.4 -4.4M217.9 135l4.4 4.4m-4.4 0l4.4 -4.4M219.8 135l4.4 4.4m-4.4 0l4.4 -4.4M221.7 135l4.4 4.4m-4.4 0l4.4 -4.4M223.6 135l4.4 4.4m-4.4 0l4.4 -4.4M225.5 135l4.4 4.4m-4.4 0l4.4 -4.4M227.4 135l4.4 4.4m-4.4 0l4.4 -4.4M229.3 135l4.4 4.4m-4.4 0l4.4 -4.4M231.2 135l4.4 4.4m-4.4 0l4.4 -4.4M233.1 135l4.4 4.4m-4.4 0l4.4 -4.4M235 135l4.4 4.4m-4.4 0l4.4 -4.4M236.9 135l4.4 4.4m-4.4 0l4.4 -4.4M238.8 135l4.4 4.4m-4.4 0l4.4 -4.4M240.7 135l4.4 4.4m-4.4 0l4.4 -4.4M242.6 135l4.4 4.4m-4.4 0l4.4 -4.4M244.5 135l4.4 4.4m-4.4 0l4.4 -4.4M246.4 135l4.4 4.4m-4.4 0l4.4 -4.4M248.3 135l4.4 4.4m-4.4 0l4.4 -4.4M250.2 135l4.4 4.4m-4.4 0l4.4 -4.4M252.1 135l4.4 4.4m-4.4 0l4.4 -4.4M254 135l4.4 4.4m-4.4 0l4.4 -4.4M255.9 135l4.4 4.4m-4.4 0l4.4 -4.4M257.8 135l4.4 4.4m-4.4 0l4.4 -4.4M259.7 135l4.4 4.4m-4.4 0l4.4 -4.4M261.6 135l4.4 4.4m-4.4 0l4.4 -4.4M263.5 135l4.4 4.4m-4.4 0l4.4 -4.4M265.4 135l4.4 4.4m-4.4 0l4.4 -4.4M267.3 135l4.4 4.4m-4.4 0l4.4 -4.4M269.2 135l4.4 4.4m-4.4 0l4.4 -4.4M271.1 135l4.4 4.4m-4.4 0l4.4 -4.4M273 135l4.4 4.4m-4.4 0l4.4 -4.4M274.9 135l4.4 4.4m-4.4 0l4.4 -4.4M276.8 135l4.4 4.4m-4.4 0l4.4 -4.4M278.7 135l4.4 4.4m-4.4 0l4.4 -4.4M280.6 135l4.4 4.4m-4.4 0l4.4 -4.4M282.5 135l4.4 4.4m-4.4 0l4.4 -4.4M284.4 135l4.4 4.4m-4.4 0l4.4 -4.4M286.3 135l4.4 4.4m-4.4 0l4.4 -4.4M288.2 135l4.4 4.4m-4.4 0l4.4 -4.4M290.1 135l4.4 4.4m-4.4 0l4.4 -4.4M292 135l4.4 4.4m-4.4 0l4.4 -4.4M293.9 135l4.4 4.4m-4.4 0l4.4 -4.4M295.8 135l4.4 4.4m-4.4 0l4.4 -4.4M297.7 135l4.4 4.4m-4.4 0l4.4 -4.4M299.6 135l4.4 4.4m-4.4 0l4.4 -4.4M301.5 135l4.4 4.4m-4.4 0l4.4 -4.4M303.4 135l4.4 4.4m-4.4 0l4.4 -4.4M305.3 135l4.4 4.4m-4.4 0l4.4 -4.4M307.2 135l4.4 4.4m-4.4 0l4.4 -4.4M309.1 135l4.4 4.4m-4.4 0l4.4 -4.4M311 135l4.4 4.4m-4.4 0l4.4 -4.4M312.9 135l4.4 4.4m-4.4 0l4.4 -4.4M314.8 135l4.4 4.4m-4.4 0l4.4 -4.4M316.7 135l4.4 4.4m-4.4 0l4.4 -4.4M318.6 135l4.4 4.4m-4.4 0l4.4 -4.4M320.5 135l4.4 4.4m-4.4 0l4.4 -4.4M322.4 135l4.4 4.4m-4.4 0l4.4 -4.4M324.3 135l4.4 4.4m-4.4 0l4.4 -4.4M326.2 135l4.4 4.4m-4.4 0l4.4 -4.4M328.1 135l4.4 4.4m-4.4 0l4.4 -4.4M330 135l4.4 4.4m-4.4 0l4.4 -4.4M331.9 135l4.4 4.4m-4.4 0l4.4 -4.4M333.8 135l4.4 4.4m-4.4 0l4.4 -4.4M335.7 135l4.4 4.4m-4.4 0l4.4 -4.4M337.6 135l4.4 4.4m-4.4 0l4.4 -4.4M339.5 135l4.4 4.4m-4.4 0l4.4 -4.4M341.4 135l4.4 4.4m-4.4 0l4.4 -4.4M343.3 135l4.4 4.4m-4.4 0l4.4 -4.4M345.2 135l4.4 4.4m-4.4 0l4.4 -4.4M347.1 135l4.4 4.4m-4.4 0l4.4 -4.4M349 135l4.4 4.4m-4.4 0l4.4 -4.4M350.9 135l4.4 4.4m-4.4 0l4.4 -4.4M352.8 135l4.4 4.4m-4.4 0l4.4 -4.4M354.7 135l4.4 4.4m-4.4 0l4.4 -4.4M356.6 135l4.4 4.4m-4.4 0l4.4 -4.4M358.5 135l4.4 4.4m-4.4 0l4.4 -4.4M360.4 135l4.4 4.4m-4.4 0l4.4 -4.4M362.3 135l4.4 4.4m-4.4 0l4.4 -4.4M364.2 135l4.4 4.4m-4.4 0l4.4 -4.4M366.1 135l4.4 4.4m-4.4 0l4.4 -4.4M368 135l4.4 4.4m-4.4 0l4.4 -4.4M369.9 135l4.4 4.4m-4.4 0l4.4 -4.4M371.8 135l4.4 4.4m-4.4 0l4.4 -4.4M373.7 135l4.4 4.4m-4.4 0l4.4 -4.4M375.6 135l4.4 4.4m-4.4 0l4.4 -4.4M377.5 135l4.4 4.4m-4.4 0l4.4 -4.4M379.4 135l4.4 4.4m-4.4 0l4.4 -4.4M381.3 135l4.4 4.4m-4.4 0l4.4 -4.4M383.2 135l4.4 4.4m-4.4 0l4.4 -4.4M385.1 135l4.4 4.4m-4.4 0l4.4 -4.4M387 135l4.4 4.4m-4.4 0l4.4 -4.4M388.9 135l4.4 4.4m-4.4 0l4.4 -4.4M390.8 135l4.4 4.4m-4.4 0l4.4 -4.4M392.7 135l4.4 4.4m-4.4 0l4.4 -4.4M394.6 135l4.4 4.4m-4.4 0l4.4 -4.4M396.5 135l4.4 4.4m-4.4 0l4.4 -4.4M398.4 135l4.4 4.4m-4.4 0l4.4 -4.4M400.3 135l4.4 4.4m-4.4 0l4.4 -4.4M402.2 135l4.4 4.4m-4.4 0l4.4 -4.4M404.1 135l4.4 4.4m-4.4 0l4.4 -4.4M406 135l4.4 4.4m-4.4 0l4.4 -4.4M407.9 135l4.4 4.4m-4.4 0l4.4 -4.4M409.8 135l4.4 4.4m-4.4 0l4.4 -4.4M411.7 135l4.4 4.4m-4.4 0l4.4 -4.4M413.6 135l4.4 4.4m-4.4 0l4.4 -4.4M415.5 135l4.4 4.4m-4.4 0l4.4 -4.4M417.4 135l4.4 4.4m-4.4 0l4.4 -4.4M419.3 135l4.4 4.4m-4.4 0l4.4 -4.4M421.2 135l4.4 4.4m-4.4 0l4.4 -4.4M423.1 135l4.4 4.4m-4.4 0l4.4 -4.4M425 135l4.4 4.4m-4.4 0l4.4 -4.4M426.9 135l4.4 4.4m-4.4 0l4.4 -4.4M428.8 135l4.4 4.4m-4.4 0l4.4 -4.4M430.7 135l4.4 4.4m-4.4 0l4.4 -4.4M432.6 135l4.4 4.4m-4.4 0l4.4 -4.4M434.5 135l4.4 4.4m-4.4 0l4.4 -4.4" fill="none" stroke="#2994ed" stroke-width="1.05"/>
<path d="M126.8 142.6l4.4 4.4m-4.4 0l4.4 -4.4M127.3 143.7l4.4 4.4m-4.4 0l4.4 -4.4M127.7 144.8l4.4 4.4m-4.4 0l4.4 -4.4M128.2 145.9l4.4 4.4m-4.4 0l4.4 -4.4M128.7 147l4.4 4.4m-4.4 0l4.4 -4.4M129.1 148.1l4.4 4.4m-4.4 0l4.4 -4.4M129.6 149.2l4.4 4.4m-4.4 0l4.4 -4.4M130.1 150.3l4.4 4.4m-4.4 0l4.4 -4.4M130.5 151.4l4.4 4.4m-4.4 0l4.4 -4.4M131 152.5l4.4 4.4m-4.4 0l4.4 -4.4M131.5 153.7l4.4 4.4m-4.4 0l4.4 -4.4M131.9 154.8l4.4 4.4m-4.4 0l4.4 -4.4M132.4 155.9l4.4 4.4m-4.4 0l4.4 -4.4M132.9 157l4.4 4.4m-4.4 0l4.4 -4.4M133.3 158.1l4.4 4.4m-4.4 0l4.4 -4.4" fill="none" stroke="#269be8" stroke-width="1.05"/>
<path d="M211.2 162a1.8 1.8 0 1 0 3.6 0a1.8 1.8 0 1 0 -3.6 0M215.5 162a1.8 1.8 0 1 0 3.6 0a1.8 1.8 0 1 0 -3.6 0M219.8 162a1.8 1.8 0 1 0 3.6 0a1.8 1.8 0 1 0 -3.6 0M224.1 162a1.8 1.8 0 1 0 3.6 0a1.8 1.8 0 1 0 -3.6 0M228.4 162a1.8 1.8 0 1 0 3.6 0a1.8 1.8 0 1 0 -3.6 0M232.7 162a1.8 1.8 0 1 0 3.6 0a1.8 1.8 0 1 0 -3.6 0M237 162a1.8 1.8 0 1 0 3.6 0a1.8 1.8 0 1 0 -3.6 0M241.3 162a1.8 1.8 0 1 0 3.6 0a1.8 1.8 0 1 0 -3.6 0M245.6 162a1.8 1.8 0 1 0 3.6 0a1.8 1.8 0 1 0 -3.6 0M249.9 162a1.8 1.8 0 1 0 3.6 0a1.8 1.8 0 1 0 -3.6 0M254.2 162a1.8 1.8 0 1 0 3.6 0a1.8 1.8 0 1 0 -3.6 0" fill="none" stroke="#269be8" stroke-width="0.75"/>
<path d="M258.2 162a1.8 1.8 0 1 0 3.6 0a1.8 1.8 0 1 0 -3.6 0M262.5 162a1.8 1.8 0 1 0 3.6 0a1.8 1.8 0 1 0 -3.6 0M266.8 162a1.8 1.8 0 1 0 3.6 0a1.8 1.8 0 1 0 -3.6 0M271.1 162a1.8 1.8 0 1 0 3.6 0a1.8 1.8 0 1 0 -3.6 0M275.4 162a1.8 1.8 0 1 0 3.6 0a1.8 1.8 0 1 0 -3.6 0M279.7 162a1.8 1.8 0 1 0 3.6 0a1.8 1.8 0 1 0 -3.6 0M284 162a1.8 1.8 0 1 0 3.6 0a1.8 1.8 0 1 0 -3.6 0M288.3 162a1.8 1.8 0 1 0 3.6 0a1.8 1.8 0 1 0 -3.6 0M292.6 162a1.8 1.8 0 1 0 3.6 0a1.8 1.8 0 1 0 -3.6 0M296.9 162a1.8 1.8 0 1 0 3.6 0a1.8 1.8 0 1 0 -3.6 0M301.2 162a1.8 1.8 0 1 0 3.6 0a1.8 1.8 0 1 0 -3.6 0" fill="none" stroke="#269be8" stroke-width="0.75"/>
<path d="M319.2 162a1.8 1.8 0 1 0 3.6 0a1.8 1.8 0 1 0 -3.6 0M323.5 162a1.8 1.8 0 1 0 3.6 0a1.8 1.8 0 1 0 -3.6 0M327.8 162a1.8 1.8 0 1 0 3.6 0a1.8 1.8 0 1 0 -3.6 0M332.1 162a1.8 1.8 0 1 0 3.6 0a1.8 1.8 0 1 0 -3.6 0M336.4 162a1.8 1.8 0 1 0 3.6 0a1.8 1.8 0 1 0 -3.6 0M340.7 162a1.8 1.8 0 1 0 3.6 0a1.8 1.8 0 1 0 -3.6 0M345 162a1.8 1.8 0 1 0 3.6 0a1.8 1.8 0 1 0 -3.6 0M349.3 162a1.8 1.8 0 1 0 3.6 0a1.8 1.8 0 1 0 -3.6 0M353.6 162a1.8 1.8 0 1 0 3.6 0a1.8 1.8 0 1 0 -3.6 0M357.9 162a1.8 1.8 0 1 0 3.6 0a1.8 1.8 0 1 0 -3.6 0M362.2 162a1.8 1.8 0 1 0 3.6 0a1.8 1.8 0 1 0 -3.6 0M366.5 162a1.8 1.8 0 1 0 3.6 0a1.8 1.8 0 1 0 -3.6 0M370.8 162a1.8 1.8 0 1 0 3.6 0a1.8 1.8 0 1 0 -3.6 0M375.1 162a1.8 1.8 0 1 0 3.6 0a1.8 1.8 0 1 0 -3.6 0M379.4 162a1.8 1.8 0 1 0 3.6 0a1.8 1.8 0 1 0 -3.6 0M383.7 162a1.8 1.8 0 1 0 3.6 0a1.8 1.8 0 1 0 -3.6 0M388 162a1.8 1.8 0 1 0 3.6 0a1.8 1.8 0 1 0 -3.6 0M392.3 162a1.8 1.8 0 1 0 3.6 0a1.8 1.8 0 1 0 -3.6 0M396.6 162a1.8 1.8 0 1 0 3.6 0a1.8 1.8 0 1 0 -3.6 0M400.9 162a1.8 1.8 0 1 0 3.6 0a1.8 1.8 0 1 0 -3.6 0M405.2 162a1.8 1.8 0 1 0 3.6 0a1.8 1.8 0 1 0 -3.6 0M409.5 162a1.8 1.8 0 1 0 3.6 0a1.8 1.8 0 1 0 -3.6 0M413.8 162a1.8 1.8 0 1 0 3.6 0a1.8 1.8 0 1 0 -3.6 0" fill="none" stroke="#269be8" stroke-width="0.75"/>
<path d="M290.8 18.6l4.4 4.4m-4.4 0l4.4 -4.4M290.9 19.8l4.4 4.4m-4.4 0l4.4 -4.4M290.9 21l4.4 4.4m-4.4 0l4.4 -4.4M291 22.2l4.4 4.4m-4.4 0l4.4 -4.4M291 23.4l4.4 4.4m-4.4 0l4.4 -4.4M291.1 24.6l4.4 4.4m-4.4 0l4.4 -4.4M291.1 25.8l4.4 4.4m-4.4 0l4.4 -4.4M291.2 27l4.4 4.4m-4.4 0l4.4 -4.4M291.2 28.2l4.4 4.4m-4.4 0l4.4 -4.4M291.3 29.4l4.4 4.4m-4.4 0l4.4 -4.4M291.3 30.6l4.4 4.4m-4.4 0l4.4 -4.4M291.4 31.8l4.4 4.4m-4.4 0l4.4 -4.4M291.4 33l4.4 4.4m-4.4 0l4.4 -4.4M291.5 34.2l4.4 4.4m-4.4 0l4.4 -4.4M291.5 35.4l4.4 4.4m-4.4 0l4.4 -4.4M291.6 36.6l4.4 4.4m-4.4 0l4.4 -4.4M291.6 37.8l4.4 4.4m-4.4 0l4.4 -4.4M291.7 39l4.4 4.4m-4.4 0l4.4 -4.4M291.7 40.2l4.4 4.4m-4.4 0l4.4 -4.4M291.8 41.4l4.4 4.4m-4.4 0l4.4 -4.4M291.8 42.6l4.4 4.4m-4.4 0l4.4 -4.4M291.9 43.8l4.4 4.4m-4.4 0l4.4 -4.4M291.9 45l4.4 4.4m-4.4 0l4.4 -4.4M292 46.2l4.4 4.4m-4.4 0l4.4 -4.4M292 47.4l4.4 4.4m-4.4 0l4.4 -4.4M292.1 48.6l4.4 4.4m-4.4 0l4.4 -4.4M292.2 49.8l4.4 4.4m-4.4 0l4.4 -4.4M292.2 51l4.4 4.4m-4.4 0l4.4 -4.4M292.3 52.2l4.4 4.4m-4.4 0l4.4 -4.4M292.3 53.4l4.4 4.4m-4.4 0l4.4 -4.4M292.4 54.6l4.4 4.4m-4.4 0l4.4 -4.4M292.4 55.8l4.4 4.4m-4.4 0l4.4 -4.4M292.5 57l4.4 4.4m-4.4 0l4.4 -4.4M292.5 58.2l4.4 4.4m-4.4 0l4.4 -4.4M292.6 59.4l4.4 4.4m-4.4 0l4.4 -4.4M292.6 60.6l4.4 4.4m-4.4 0l4.4 -4.4M292.7 61.8l4.4 4.4m-4.4 0l4.4 -4.4M292.7 63l4.4 4.4m-4.4 0l4.4 -4.4M292.8 64.2l4.4 4.4m-4.4 0l4.4 -4.4M292.8 65.4l4.4 4.4m-4.4 0l4.4 -4.4M292.9 66.6l4.4 4.4m-4.4 0l4.4 -4.4M292.9 67.8l4.4 4.4m-4.4 0l4.4 -4.4M293 69l4.4 4.4m-4.4 0l4.4 -4.4M293 70.2l4.4 4.4m-4.4 0l4.4 -4.4M293.1 71.4l4.4 4.4m-4.4 0l4.4 -4.4M293.1 72.5l4.4 4.4m-4.4 0l4.4 -4.4M293.2 73.7l4.4 4.4m-4.4 0l4.4 -4.4M293.2 74.9l4.4 4.4m-4.4 0l4.4 -4.4M293.3 76.1l4.4 4.4m-4.4 0l4.4 -4.4M293.3 77.3l4.4 4.4m-4.4 0l4.4 -4.4M293.4 78.5l4.4 4.4m-4.4 0l4.4 -4.4M293.5 79.7l4.4 4.4m-4.4 0l4.4 -4.4M293.5 80.9l4.4 4.4m-4.4 0l4.4 -4.4M293.6 82.1l4.4 4.4m-4.4 0l4.4 -4.4M293.6 83.3l4.4 4.4m-4.4 0l4.4 -4.4M293.7 84.5l4.4 4.4m-4.4 0l4.4 -4.4M293.7 85.7l4.4 4.4m-4.4 0l4.4 -4.4M293.8 86.9l4.4 4.4m-4.4 0l4.4 -4.4M293.8 88.1l4.4 4.4m-4.4 0l4.4 -4.4M293.9 89.3l4.4 4.4m-4.4 0l4.4 -4.4M294 90.5l4.4 4.4m-4.4 0l4.4 -4.4M294 91.7l4.4 4.4m-4.4 0l4.4 -4.4M294.1 92.9l4.4 4.4m-4.4 0l4.4 -4.4M294.2 94.1l4.4 4.4m-4.4 0l4.4 -4.4M294.3 95.3l4.4 4.4m-4.4 0l4.4 -4.4M294.3 96.5l4.4 4.4m-4.4 0l4.4 -4.4M294.4 97.7l4.4 4.4m-4.4 0l4.4 -4.4M294.5 98.9l4.4 4.4m-4.4 0l4.4 -4.4M294.5 100.1l4.4 4.4m-4.4 0l4.4 -4.4M294.6 101.3l4.4 4.4m-4.4 0l4.4 -4.4M294.7 102.5l4.4 4.4m-4.4 0l4.4 -4.4M294.8 103.7l4.4 4.4m-4.4 0l4.4 -4.4M294.8 104.9l4.4 4.4m-4.4 0l4.4 -4.4M294.9 106.1l4.4 4.4m-4.4 0l4.4 -4.4M295 107.3l4.4 4.4m-4.4 0l4.4 -4.4M295 108.5l4.4 4.4m-4.4 0l4.4 -4.4M295.1 109.7l4.4 4.4m-4.4 0l4.4 -4.4M295.2 110.9l4.4 4.4m-4.4 0l4.4 -4.4M295.3 112.1l4.4 4.4m-4.4 0l4.4 -4.4M295.3 113.3l4.4 4.4m-4.4 0l4.4 -4.4M295.4 114.5l4.4 4.4m-4.4 0l4.4 -4.4M295.5 115.7l4.4 4.4m-4.4 0l4.4 -4.4M295.5 116.9l4.4 4.4m-4.4 0l4.4 -4.4M295.6 118.1l4.4 4.4m-4.4 0l4.4 -4.4M295.7 119.3l4.4 4.4m-4.4 0l4.4 -4.4M295.8 120.5l4.4 4.4m-4.4 0l4.4 -4.4M295.8 121.7l4.4 4.4m-4.4 0l4.4 -4.4M295.9 122.9l4.4 4.4m-4.4 0l4.4 -4.4M296 124.1l4.4 4.4m-4.4 0l4.4 -4.4M296 125.3l4.4 4.4m-4.4 0l4.4 -4.4M296.1 126.5l4.4 4.4m-4.4 0l4.4 -4.4M296.2 127.7l4.4 4.4m-4.4 0l4.4 -4.4M296.3 128.9l4.4 4.4m-4.4 0l4.4 -4.4M296.3 130.1l4.4 4.4m-4.4 0l4.4 -4.4M296.4 131.3l4.4 4.4m-4.4 0l4.4 -4.4M296.5 132.5l4.4 4.4m-4.4 0l4.4 -4.4M296.5 133.7l4.4 4.4m-4.4 0l4.4 -4.4M296.6 134.9l4.4 4.4m-4.4 0l4.4 -4.4M296.6 136.1l4.4 4.4m-4.4 0l4.4 -4.4M296.7 137.3l4.4 4.4m-4.4 0l4.4 -4.4M296.7 138.5l4.4 4.4m-4.4 0l4.4 -4.4M296.8 139.6l4.4 4.4m-4.4 0l4.4 -4.4M296.8 140.8l4.4 4.4m-4.4 0l4.4 -4.4M296.8 142l4.4 4.4m-4.4 0l4.4 -4.4M296.9 143.2l4.4 4.4m-4.4 0l4.4 -4.4M296.9 144.4l4.4 4.4m-4.4 0l4.4 -4.4M297 145.6l4.4 4.4m-4.4 0l4.4 -4.4M297 146.8l4.4 4.4m-4.4 0l4.4 -4.4M297.1 148l4.4 4.4m-4.4 0l4.4 -4.4M297.1 149.2l4.4 4.4m-4.4 0l4.4 -4.4M297.2 150.4l4.4 4.4m-4.4 0l4.4 -4.4M297.2 151.6l4.4 4.4m-4.4 0l4.4 -4.4M297.2 152.8l4.4 4.4m-4.4 0l4.4 -4.4M297.3 154l4.4 4.4m-4.4 0l4.4 -4.4M297.3 155.2l4.4 4.4m-4.4 0l4.4 -4.4M297.4 156.4l4.4 4.4m-4.4 0l4.4 -4.4M297.4 157.6l4.4 4.4m-4.4 0l4.4 -4.4M297.5 158.8l4.4 4.4m-4.4 0l4.4 -4.4M297.5 160l4.4 4.4m-4.4 0l4.4 -4.4M297.6 161.2l4.4 4.4m-4.4 0l4.4 -4.4M297.6 162.4l4.4 4.4m-4.4 0l4.4 -4.4M297.6 163.6l4.4 4.4m-4.4 0l4.4 -4.4M297.7 164.8l4.4 4.4m-4.4 0l4.4 -4.4M297.7 166l4.4 4.4m-4.4 0l4.4 -4.4M297.8 167.2l4.4 4.4m-4.4 0l4.4 -4.4" fill="none" stroke="#269be8" stroke-width="1.05"/>
<path d="M326.8 67.2l4.4 4.4m-4.4 0l4.4 -4.4M326.9 68.4l4.4 4.4m-4.4 0l4.4 -4.4M326.9 69.6l4.4 4.4m-4.4 0l4.4 -4.4M327 70.8l4.4 4.4m-4.4 0l4.4 -4.4M327 72l4.4 4.4m-4.4 0l4.4 -4.4M327.1 73.2l4.4 4.4m-4.4 0l4.4 -4.4M327.1 74.4l4.4 4.4m-4.4 0l4.4 -4.4M327.2 75.6l4.4 4.4m-4.4 0l4.4 -4.4M327.3 76.8l4.4 4.4m-4.4 0l4.4 -4.4M327.3 78l4.4 4.4m-4.4 0l4.4 -4.4M327.4 79.2l4.4 4.4m-4.4 0l4.4 -4.4M327.4 80.4l4.4 4.4m-4.4 0l4.4 -4.4M327.5 81.6l4.4 4.4m-4.4 0l4.4 -4.4M327.6 82.8l4.4 4.4m-4.4 0l4.4 -4.4M327.6 84l4.4 4.4m-4.4 0l4.4 -4.4M327.7 85.2l4.4 4.4m-4.4 0l4.4 -4.4M327.7 86.4l4.4 4.4m-4.4 0l4.4 -4.4M327.8 87.6l4.4 4.4m-4.4 0l4.4 -4.4M327.9 88.8l4.4 4.4m-4.4 0l4.4 -4.4M327.9 90l4.4 4.4m-4.4 0l4.4 -4.4M328 91.2l4.4 4.4m-4.4 0l4.4 -4.4M328.1 92.4l4.4 4.4m-4.4 0l4.4 -4.4M328.1 93.6l4.4 4.4m-4.4 0l4.4 -4.4M328.2 94.8l4.4 4.4m-4.4 0l4.4 -4.4M328.3 96l4.4 4.4m-4.4 0l4.4 -4.4M328.3 97.2l4.4 4.4m-4.4 0l4.4 -4.4M328.4 98.4l4.4 4.4m-4.4 0l4.4 -4.4M328.5 99.6l4.4 4.4m-4.4 0l4.4 -4.4M328.6 100.8l4.4 4.4m-4.4 0l4.4 -4.4M328.6 102l4.4 4.4m-4.4 0l4.4 -4.4M328.7 103.1l4.4 4.4m-4.4 0l4.4 -4.4M328.8 104.3l4.4 4.4m-4.4 0l4.4 -4.4M328.8 105.5l4.4 4.4m-4.4 0l4.4 -4.4M328.9 106.7l4.4 4.4m-4.4 0l4.4 -4.4M329 107.9l4.4 4.4m-4.4 0l4.4 -4.4M329.1 109.1l4.4 4.4m-4.4 0l4.4 -4.4M329.1 110.3l4.4 4.4m-4.4 0l4.4 -4.4M329.2 111.5l4.4 4.4m-4.4 0l4.4 -4.4M329.3 112.7l4.4 4.4m-4.4 0l4.4 -4.4M329.3 113.9l4.4 4.4m-4.4 0l4.4 -4.4M329.4 115.1l4.4 4.4m-4.4 0l4.4 -4.4M329.5 116.3l4.4 4.4m-4.4 0l4.4 -4.4M329.5 117.5l4.4 4.4m-4.4 0l4.4 -4.4M329.6 118.7l4.4 4.4m-4.4 0l4.4 -4.4M329.7 119.9l4.4 4.4m-4.4 0l4.4 -4.4M329.8 121.1l4.4 4.4m-4.4 0l4.4 -4.4M329.8 122.3l4.4 4.4m-4.4 0l4.4 -4.4M329.9 123.5l4.4 4.4m-4.4 0l4.4 -4.4M330 124.7l4.4 4.4m-4.4 0l4.4 -4.4M330 125.9l4.4 4.4m-4.4 0l4.4 -4.4M330.1 127.1l4.4 4.4m-4.4 0l4.4 -4.4M330.2 128.3l4.4 4.4m-4.4 0l4.4 -4.4M330.3 129.5l4.4 4.4m-4.4 0l4.4 -4.4M330.3 130.7l4.4 4.4m-4.4 0l4.4 -4.4M330.4 131.9l4.4 4.4m-4.4 0l4.4 -4.4M330.5 133.1l4.4 4.4m-4.4 0l4.4 -4.4M330.5 134.3l4.4 4.4m-4.4 0l4.4 -4.4M330.6 135.5l4.4 4.4m-4.4 0l4.4 -4.4M330.7 136.7l4.4 4.4m-4.4 0l4.4 -4.4M330.7 137.9l4.4 4.4m-4.4 0l4.4 -4.4M330.8 139.1l4.4 4.4m-4.4 0l4.4 -4.4M330.9 140.3l4.4 4.4m-4.4 0l4.4 -4.4M331 141.5l4.4 4.4m-4.4 0l4.4 -4.4M331 142.7l4.4 4.4m-4.4 0l4.4 -4.4M331.1 143.9l4.4 4.4m-4.4 0l4.4 -4.4M331.2 145.1l4.4 4.4m-4.4 0l4.4 -4.4M331.2 146.3l4.4 4.4m-4.4 0l4.4 -4.4M331.3 147.5l4.4 4.4m-4.4 0l4.4 -4.4M331.4 148.7l4.4 4.4m-4.4 0l4.4 -4.4M331.4 149.9l4.4 4.4m-4.4 0l4.4 -4.4M331.5 151.1l4.4 4.4m-4.4 0l4.4 -4.4M331.6 152.3l4.4 4.4m-4.4 0l4.4 -4.4M331.7 153.5l4.4 4.4m-4.4 0l4.4 -4.4M331.7 154.7l4.4 4.4m-4.4 0l4.4 -4.4M331.8 155.9l4.4 4.4m-4.4 0l4.4 -4.4M331.9 157.1l4.4 4.4m-4.4 0l4.4 -4.4M331.9 158.3l4.4 4.4m-4.4 0l4.4 -4.4M332 159.5l4.4 4.4m-4.4 0l4.4 -4.4M332.1 160.7l4.4 4.4m-4.4 0l4.4 -4.4M332.2 161.8l4.4 4.4m-4.4 0l4.4 -4.4M332.2 163l4.4 4.4m-4.4 0l4.4 -4.4M332.3 164.2l4.4 4.4m-4.4 0l4.4 -4.4M332.4 165.4l4.4 4.4m-4.4 0l4.4 -4.4M332.4 166.6l4.4 4.4m-4.4 0l4.4 -4.4" fill="none" stroke="#269be8" stroke-width="1.05"/>
<path d="M326.8 71.4l4.4 4.4m-4.4 0l4.4 -4.4M328.2 70.7l4.4 4.4m-4.4 0l4.4 -4.4M329.7 70l4.4 4.4m-4.4 0l4.4 -4.4M331.1 69.4l4.4 4.4m-4.4 0l4.4 -4.4M332.6 68.7l4.4 4.4m-4.4 0l4.4 -4.4M334 68l4.4 4.4m-4.4 0l4.4 -4.4M335.5 67.3l4.4 4.4m-4.4 0l4.4 -4.4M336.9 66.6l4.4 4.4m-4.4 0l4.4 -4.4M338.4 66l4.4 4.4m-4.4 0l4.4 -4.4M339.8 65.3l4.4 4.4m-4.4 0l4.4 -4.4M341.3 64.6l4.4 4.4m-4.4 0l4.4 -4.4M342.7 63.9l4.4 4.4m-4.4 0l4.4 -4.4M344.2 63.2l4.4 4.4m-4.4 0l4.4 -4.4M345.6 62.6l4.4 4.4m-4.4 0l4.4 -4.4" fill="none" stroke="#269be8" stroke-width="1.05"/>
<path d="M327.3 74.3l4.4 4.4m-4.4 0l4.4 -4.4M328.9 73.5l4.4 4.4m-4.4 0l4.4 -4.4M330.6 72.8l4.4 4.4m-4.4 0l4.4 -4.4M332.2 72l4.4 4.4m-4.4 0l4.4 -4.4M333.8 71.3l4.4 4.4m-4.4 0l4.4 -4.4M335.5 70.5l4.4 4.4m-4.4 0l4.4 -4.4M337.1 69.8l4.4 4.4m-4.4 0l4.4 -4.4M338.7 69l4.4 4.4m-4.4 0l4.4 -4.4M340.4 68.3l4.4 4.4m-4.4 0l4.4 -4.4M342 67.5l4.4 4.4m-4.4 0l4.4 -4.4M343.7 66.8l4.4 4.4m-4.4 0l4.4 -4.4M345.3 66l4.4 4.4m-4.4 0l4.4 -4.4" fill="none" stroke="#269be8" stroke-width="1.05"/>
<path d="M121.4 102.8l4.4 4.4m-4.4 0l4.4 -4.4M122.4 102.8l4.4 4.4m-4.4 0l4.4 -4.4M123.4 102.8l4.4 4.4m-4.4 0l4.4 -4.4M124.4 102.8l4.4 4.4m-4.4 0l4.4 -4.4M125.4 102.8l4.4 4.4m-4.4 0l4.4 -4.4M126.4 102.8l4.4 4.4m-4.4 0l4.4 -4.4M127.4 102.8l4.4 4.4m-4.4 0l4.4 -4.4M128.4 102.8l4.4 4.4m-4.4 0l4.4 -4.4M129.4 102.8l4.4 4.4m-4.4 0l4.4 -4.4M130.4 102.8l4.4 4.4m-4.4 0l4.4 -4.4M131.4 102.8l4.4 4.4m-4.4 0l4.4 -4.4M132.4 102.8l4.4 4.4m-4.4 0l4.4 -4.4M133.4 102.8l4.4 4.4m-4.4 0l4.4 -4.4M134.4 102.8l4.4 4.4m-4.4 0l4.4 -4.4M135.4 102.8l4.4 4.4m-4.4 0l4.4 -4.4M136.4 102.8l4.4 4.4m-4.4 0l4.4 -4.4M137.4 102.8l4.4 4.4m-4.4 0l4.4 -4.4M138.4 102.8l4.4 4.4m-4.4 0l4.4 -4.4M139.4 102.8l4.4 4.4m-4.4 0l4.4 -4.4M140.4 102.8l4.4 4.4m-4.4 0l4.4 -4.4" fill="none" stroke="#23a1e4" stroke-width="1.05"/>
<path d="M121.4 104l4.4 4.4m-4.4 0l4.4 -4.4M123 104l4.4 4.4m-4.4 0l4.4 -4.4M124.6 104l4.4 4.4m-4.4 0l4.4 -4.4M126.2 104l4.4 4.4m-4.4 0l4.4 -4.4M127.8 104l4.4 4.4m-4.4 0l4.4 -4.4M129.4 104l4.4 4.4m-4.4 0l4.4 -4.4M131 104l4.4 4.4m-4.4 0l4.4 -4.4M132.6 104l4.4 4.4m-4.4 0l4.4 -4.4M134.2 104l4.4 4.4m-4.4 0l4.4 -4.4M135.8 104l4.4 4.4m-4.4 0l4.4 -4.4M137.4 104l4.4 4.4m-4.4 0l4.4 -4.4M139 104l4.4 4.4m-4.4 0l4.4 -4.4M140.6 104l4.4 4.4m-4.4 0l4.4 -4.4" fill="none" stroke="#23a1e4" stroke-width="1.05"/>
<path d="M120.6 102.8l4.4 4.4m-4.4 0l4.4 -4.4M120.6 103.8l4.4 4.4m-4.4 0l4.4 -4.4M120.6 104.8l4.4 4.4m-4.4 0l4.4 -4.4M120.5 105.8l4.4 4.4m-4.4 0l4.4 -4.4M120.5 106.8l4.4 4.4m-4.4 0l4.4 -4.4M120.5 107.8l4.4 4.4m-4.4 0l4.4 -4.4M120.5 108.8l4.4 4.4m-4.4 0l4.4 -4.4M120.4 109.8l4.4 4.4m-4.4 0l4.4 -4.4M120.4 110.8l4.4 4.4m-4.4 0l4.4 -4.4" fill="none" stroke="#23a1e4" stroke-width="1.05"/>
<path d="M125 90.2l4.4 4.4m-4.4 0l4.4 -4.4M125.8 90.8l4.4 4.4m-4.4 0l4.4 -4.4M126.6 91.4l4.4 4.4m-4.4 0l4.4 -4.4M127.4 91.9l4.4 4.4m-4.4 0l4.4 -4.4M128.3 92.5l4.4 4.4m-4.4 0l4.4 -4.4M129.1 93.1l4.4 4.4m-4.4 0l4.4 -4.4M129.9 93.7l4.4 4.4m-4.4 0l4.4 -4.4M130.7 94.3l4.4 4.4m-4.4 0l4.4 -4.4M131.5 94.8l4.4 4.4m-4.4 0l4.4 -4.4M132.3 95.4l4.4 4.4m-4.4 0l4.4 -4.4M133.1 96l4.4 4.4m-4.4 0l4.4 -4.4M134 96.6l4.4 4.4m-4.4 0l4.4 -4.4M134.8 97.2l4.4 4.4m-4.4 0l4.4 -4.4M135.6 97.8l4.4 4.4m-4.4 0l4.4 -4.4M136.4 98.3l4.4 4.4m-4.4 0l4.4 -4.4M137.2 98.9l4.4 4.4m-4.4 0l4.4 -4.4M138 99.5l4.4 4.4m-4.4 0l4.4 -4.4M138.8 100.1l4.4 4.4m-4.4 0l4.4 -4.4M139.6 100.7l4.4 4.4m-4.4 0l4.4 -4.4M140.5 101.2l4.4 4.4m-4.4 0l4.4 -4.4M141.3 101.8l4.4 4.4m-4.4 0l4.4 -4.4" fill="none" stroke="#23a1e4" stroke-width="1.05"/>
<path d="M177.8 62.8l4.4 4.4m-4.4 0l4.4 -4.4M177.2 64.3l4.4 4.4m-4.4 0l4.4 -4.4M176.7 65.8l4.4 4.4m-4.4 0l4.4 -4.4M176.1 67.3l4.4 4.4m-4.4 0l4.4 -4.4M175.6 68.8l4.4 4.4m-4.4 0l4.4 -4.4M175 70.3l4.4 4.4m-4.4 0l4.4 -4.4M174.4 71.8l4.4 4.4m-4.4 0l4.4 -4.4M173.9 73.3l4.4 4.4m-4.4 0l4.4 -4.4M173.3 74.8l4.4 4.4m-4.4 0l4.4 -4.4M172.9 76.3l4.4 4.4m-4.4 0l4.4 -4.4M172.4 77.9l4.4 4.4m-4.4 0l4.4 -4.4M172 79.4l4.4 4.4m-4.4 0l4.4 -4.4M171.6 80.9l4.4 4.4m-4.4 0l4.4 -4.4M171.1 82.5l4.4 4.4m-4.4 0l4.4 -4.4M170.7 84l4.4 4.4m-4.4 0l4.4 -4.4M170.3 85.6l4.4 4.4m-4.4 0l4.4 -4.4" fill="none" stroke="#23a1e4" stroke-width="1.05"/>
<path d="M146.3 138.3l4.4 4.4m-4.4 0l4.4 -4.4M145 139l4.4 4.4m-4.4 0l4.4 -4.4M143.6 139.7l4.4 4.4m-4.4 0l4.4 -4.4M142.3 140.4l4.4 4.4m-4.4 0l4.4 -4.4M141 141.1l4.4 4.4m-4.4 0l4.4 -4.4M139.7 141.8l4.4 4.4m-4.4 0l4.4 -4.4M138.3 142.5l4.4 4.4m-4.4 0l4.4 -4.4M137 143.2l4.4 4.4m-4.4 0l4.4 -4.4" fill="none" stroke="#23a1e4" stroke-width="1.05"/>
<path d="M321.8 131.8l4.4 4.4m-4.4 0l4.4 -4.4M321.8 134l4.4 4.4m-4.4 0l4.4 -4.4M321.8 136.2l4.4 4.4m-4.4 0l4.4 -4.4M321.8 138.4l4.4 4.4m-4.4 0l4.4 -4.4M321.8 140.6l4.4 4.4m-4.4 0l4.4 -4.4M321.8 142.8l4.4 4.4m-4.4 0l4.4 -4.4M321.8 145l4.4 4.4m-4.4 0l4.4 -4.4M321.8 147.2l4.4 4.4m-4.4 0l4.4 -4.4M321.8 149.4l4.4 4.4m-4.4 0l4.4 -4.4M321.8 151.6l4.4 4.4m-4.4 0l4.4 -4.4M321.8 153.8l4.4 4.4m-4.4 0l4.4 -4.4M321.8 156l4.4 4.4m-4.4 0l4.4 -4.4M321.8 158.2l4.4 4.4m-4.4 0l4.4 -4.4" fill="none" stroke="#23a1e4" stroke-width="1.05"/>
<path d="M259.6 137.8l4.4 4.4m-4.4 0l4.4 -4.4M259.6 140l4.4 4.4m-4.4 0l4.4 -4.4M259.6 142.2l4.4 4.4m-4.4 0l4.4 -4.4M259.6 144.4l4.4 4.4m-4.4 0l4.4 -4.4M259.6 146.6l4.4 4.4m-4.4 0l4.4 -4.4M259.6 148.8l4.4 4.4m-4.4 0l4.4 -4.4M259.6 151l4.4 4.4m-4.4 0l4.4 -4.4M259.6 153.2l4.4 4.4m-4.4 0l4.4 -4.4M259.6 155.4l4.4 4.4m-4.4 0l4.4 -4.4M259.6 157.6l4.4 4.4m-4.4 0l4.4 -4.4M259.6 159.8l4.4 4.4m-4.4 0l4.4 -4.4M259.6 162l4.4 4.4m-4.4 0l4.4 -4.4M259.6 164.2l4.4 4.4m-4.4 0l4.4 -4.4M259.6 166.4l4.4 4.4m-4.4 0l4.4 -4.4" fill="none" stroke="#23a1e4" stroke-width="1.05"/>
<path d="M353.1 126.3l4.4 4.4m-4.4 0l4.4 -4.4M353.1 129.1l4.4 4.4m-4.4 0l4.4 -4.4M353.1 131.9l4.4 4.4m-4.4 0l4.4 -4.4M353.1 134.7l4.4 4.4m-4.4 0l4.4 -4.4M353.1 137.5l4.4 4.4m-4.4 0l4.4 -4.4M353.1 140.3l4.4 4.4m-4.4 0l4.4 -4.4M353.1 143.1l4.4 4.4m-4.4 0l4.4 -4.4M353.1 145.9l4.4 4.4m-4.4 0l4.4 -4.4M353.1 148.7l4.4 4.4m-4.4 0l4.4 -4.4M353.1 151.5l4.4 4.4m-4.4 0l4.4 -4.4M353.1 154.3l4.4 4.4m-4.4 0l4.4 -4.4M353.1 157.1l4.4 4.4m-4.4 0l4.4 -4.4M353.1 159.9l4.4 4.4m-4.4 0l4.4 -4.4M353.1 162.7l4.4 4.4m-4.4 0l4.4 -4.4" fill="none" stroke="#23a1e4" stroke-width="0.85"/>
<path d="M415.6 151.8l4.4 4.4m-4.4 0l4.4 -4.4M415.6 154l4.4 4.4m-4.4 0l4.4 -4.4M415.6 156.2l4.4 4.4m-4.4 0l4.4 -4.4M415.6 158.4l4.4 4.4m-4.4 0l4.4 -4.4M415.6 160.6l4.4 4.4m-4.4 0l4.4 -4.4M415.6 162.8l4.4 4.4m-4.4 0l4.4 -4.4" fill="none" stroke="#23a1e4" stroke-width="1.05"/>
<path d="M125.8 89.3l4.4 4.4m-4.4 0l4.4 -4.4M127 90.2l4.4 4.4m-4.4 0l4.4 -4.4M128.3 91l4.4 4.4m-4.4 0l4.4 -4.4M129.5 91.9l4.4 4.4m-4.4 0l4.4 -4.4M130.7 92.8l4.4 4.4m-4.4 0l4.4 -4.4M131.9 93.6l4.4 4.4m-4.4 0l4.4 -4.4M133.2 94.5l4.4 4.4m-4.4 0l4.4 -4.4M134.4 95.4l4.4 4.4m-4.4 0l4.4 -4.4M135.6 96.2l4.4 4.4m-4.4 0l4.4 -4.4M136.8 97.1l4.4 4.4m-4.4 0l4.4 -4.4M138.1 98l4.4 4.4m-4.4 0l4.4 -4.4M139.3 98.8l4.4 4.4m-4.4 0l4.4 -4.4M140.5 99.7l4.4 4.4m-4.4 0l4.4 -4.4M141.7 100.5l4.4 4.4m-4.4 0l4.4 -4.4" fill="none" stroke="#1ea7e1" stroke-width="1.05"/>
<path d="M179.6 61l4.4 4.4m-4.4 0l4.4 -4.4M179.1 62.2l4.4 4.4m-4.4 0l4.4 -4.4M178.7 63.4l4.4 4.4m-4.4 0l4.4 -4.4M178.2 64.6l4.4 4.4m-4.4 0l4.4 -4.4M177.7 65.8l4.4 4.4m-4.4 0l4.4 -4.4M177.2 67.1l4.4 4.4m-4.4 0l4.4 -4.4M176.8 68.3l4.4 4.4m-4.4 0l4.4 -4.4M176.3 69.5l4.4 4.4m-4.4 0l4.4 -4.4M175.8 70.7l4.4 4.4m-4.4 0l4.4 -4.4M175.4 71.9l4.4 4.4m-4.4 0l4.4 -4.4M175 73.2l4.4 4.4m-4.4 0l4.4 -4.4M174.7 74.4l4.4 4.4m-4.4 0l4.4 -4.4M174.4 75.7l4.4 4.4m-4.4 0l4.4 -4.4M174 76.9l4.4 4.4m-4.4 0l4.4 -4.4M173.7 78.2l4.4 4.4m-4.4 0l4.4 -4.4M173.3 79.4l4.4 4.4m-4.4 0l4.4 -4.4M173 80.7l4.4 4.4m-4.4 0l4.4 -4.4M172.7 82l4.4 4.4m-4.4 0l4.4 -4.4M172.3 83.2l4.4 4.4m-4.4 0l4.4 -4.4M172 84.5l4.4 4.4m-4.4 0l4.4 -4.4M171.7 85.7l4.4 4.4m-4.4 0l4.4 -4.4M171.3 87l4.4 4.4m-4.4 0l4.4 -4.4M171 88.2l4.4 4.4m-4.4 0l4.4 -4.4M170.8 89.5l4.4 4.4m-4.4 0l4.4 -4.4M170.5 90.8l4.4 4.4m-4.4 0l4.4 -4.4M170.3 92.1l4.4 4.4m-4.4 0l4.4 -4.4M170 93.3l4.4 4.4m-4.4 0l4.4 -4.4" fill="none" stroke="#1ea7e1" stroke-width="1.05"/>
<path d="M129.8 139.8l4.4 4.4m-4.4 0l4.4 -4.4M130.7 141.8l4.4 4.4m-4.4 0l4.4 -4.4M131.6 143.8l4.4 4.4m-4.4 0l4.4 -4.4M132.5 145.8l4.4 4.4m-4.4 0l4.4 -4.4M133.4 147.8l4.4 4.4m-4.4 0l4.4 -4.4" fill="none" stroke="#1ea7e1" stroke-width="1.05"/>
<path d="M143.8 141.3l4.4 4.4m-4.4 0l4.4 -4.4M142.2 142.2l4.4 4.4m-4.4 0l4.4 -4.4M140.7 143.1l4.4 4.4m-4.4 0l4.4 -4.4M139.1 144l4.4 4.4m-4.4 0l4.4 -4.4M137.5 144.9l4.4 4.4m-4.4 0l4.4 -4.4" fill="none" stroke="#1ea7e1" stroke-width="1.05"/>
<path d="M168.8 99.8l4.4 4.4m-4.4 0l4.4 -4.4M167.1 107.2l4.4 4.4m-4.4 0l4.4 -4.4M166.2 119.8l4.4 4.4m-4.4 0l4.4 -4.4M145.5 122.5l4.4 4.4m-4.4 0l4.4 -4.4M152.8 127.8l4.4 4.4m-4.4 0l4.4 -4.4" fill="none" stroke="#1ea7e1" stroke-width="0.85"/>
<path d="M200.4 16.3l4.4 4.4m-4.4 0l4.4 -4.4M200.4 17.6l4.4 4.4m-4.4 0l4.4 -4.4M200.5 18.9l4.4 4.4m-4.4 0l4.4 -4.4M200.5 20.2l4.4 4.4m-4.4 0l4.4 -4.4M200.5 21.5l4.4 4.4m-4.4 0l4.4 -4.4M200.6 22.8l4.4 4.4m-4.4 0l4.4 -4.4M200.6 24.1l4.4 4.4m-4.4 0l4.4 -4.4M200.7 25.4l4.4 4.4m-4.4 0l4.4 -4.4M200.7 26.7l4.4 4.4m-4.4 0l4.4 -4.4M200.7 28l4.4 4.4m-4.4 0l4.4 -4.4M200.8 29.3l4.4 4.4m-4.4 0l4.4 -4.4M200.8 30.6l4.4 4.4m-4.4 0l4.4 -4.4M200.8 31.9l4.4 4.4m-4.4 0l4.4 -4.4M200.9 33.2l4.4 4.4m-4.4 0l4.4 -4.4M200.9 34.5l4.4 4.4m-4.4 0l4.4 -4.4M200.9 35.8l4.4 4.4m-4.4 0l4.4 -4.4M201 37.1l4.4 4.4m-4.4 0l4.4 -4.4" fill="none" stroke="#1ea7e1" stroke-width="1.05"/>
<path d="M221.8 26.8l4.4 4.4m-4.4 0l4.4 -4.4M222.5 27.9l4.4 4.4m-4.4 0l4.4 -4.4M223.1 29l4.4 4.4m-4.4 0l4.4 -4.4M223.8 30.2l4.4 4.4m-4.4 0l4.4 -4.4M224.4 31.3l4.4 4.4m-4.4 0l4.4 -4.4M225.1 32.4l4.4 4.4m-4.4 0l4.4 -4.4" fill="none" stroke="#1ea7e1" stroke-width="1.05"/>
<path d="M291.1 109.4l4.4 4.4m-4.4 0l4.4 -4.4M291.4 110.7l4.4 4.4m-4.4 0l4.4 -4.4M291.7 111.9l4.4 4.4m-4.4 0l4.4 -4.4M292.1 113.2l4.4 4.4m-4.4 0l4.4 -4.4M292.4 114.4l4.4 4.4m-4.4 0l4.4 -4.4M292.7 115.7l4.4 4.4m-4.4 0l4.4 -4.4M293 117l4.4 4.4m-4.4 0l4.4 -4.4M293.4 118.2l4.4 4.4m-4.4 0l4.4 -4.4M293.7 119.5l4.4 4.4m-4.4 0l4.4 -4.4M294 120.7l4.4 4.4m-4.4 0l4.4 -4.4M294.3 122l4.4 4.4m-4.4 0l4.4 -4.4M294.7 123.3l4.4 4.4m-4.4 0l4.4 -4.4M294.9 124.5l4.4 4.4m-4.4 0l4.4 -4.4M295.1 125.8l4.4 4.4m-4.4 0l4.4 -4.4M295.3 127.1l4.4 4.4m-4.4 0l4.4 -4.4M295.5 128.4l4.4 4.4m-4.4 0l4.4 -4.4M295.7 129.7l4.4 4.4m-4.4 0l4.4 -4.4M295.9 130.9l4.4 4.4m-4.4 0l4.4 -4.4M296.1 132.2l4.4 4.4m-4.4 0l4.4 -4.4M296.3 133.5l4.4 4.4m-4.4 0l4.4 -4.4" fill="none" stroke="#1ea7e1" stroke-width="1.05"/>
<path d="M420.3 123.8l4.4 4.4m-4.4 0l4.4 -4.4M420.5 125.6l4.4 4.4m-4.4 0l4.4 -4.4M420.7 127.4l4.4 4.4m-4.4 0l4.4 -4.4M421 129.2l4.4 4.4m-4.4 0l4.4 -4.4M421.2 130.9l4.4 4.4m-4.4 0l4.4 -4.4M421.4 132.7l4.4 4.4m-4.4 0l4.4 -4.4M422.5 134.1l4.4 4.4m-4.4 0l4.4 -4.4M423.6 135.5l4.4 4.4m-4.4 0l4.4 -4.4M424.8 136.9l4.4 4.4m-4.4 0l4.4 -4.4M425.9 138.3l4.4 4.4m-4.4 0l4.4 -4.4M427.1 139.7l4.4 4.4m-4.4 0l4.4 -4.4M428.2 141.1l4.4 4.4m-4.4 0l4.4 -4.4M429.4 142.5l4.4 4.4m-4.4 0l4.4 -4.4M430.5 143.9l4.4 4.4m-4.4 0l4.4 -4.4M431.7 145.3l4.4 4.4m-4.4 0l4.4 -4.4M432.8 146.7l4.4 4.4m-4.4 0l4.4 -4.4M433.7 148.2l4.4 4.4m-4.4 0l4.4 -4.4M434.6 149.8l4.4 4.4m-4.4 0l4.4 -4.4M435.5 151.3l4.4 4.4m-4.4 0l4.4 -4.4M436.4 152.9l4.4 4.4m-4.4 0l4.4 -4.4M436.4 154.7l4.4 4.4m-4.4 0l4.4 -4.4M436.4 156.5l4.4 4.4m-4.4 0l4.4 -4.4M436.4 158.3l4.4 4.4m-4.4 0l4.4 -4.4M436.4 160.1l4.4 4.4m-4.4 0l4.4 -4.4M436.4 161.9l4.4 4.4m-4.4 0l4.4 -4.4M436.4 163.7l4.4 4.4m-4.4 0l4.4 -4.4" fill="none" stroke="#1ea7e1" stroke-width="1.05"/>
<path d="M146 81.2l4.4 4.4m-4.4 0l4.4 -4.4M146.6 82.4l4.4 4.4m-4.4 0l4.4 -4.4M147.2 83.5l4.4 4.4m-4.4 0l4.4 -4.4M147.8 84.7l4.4 4.4m-4.4 0l4.4 -4.4M148.4 85.8l4.4 4.4m-4.4 0l4.4 -4.4M149 87l4.4 4.4m-4.4 0l4.4 -4.4M149.6 88.1l4.4 4.4m-4.4 0l4.4 -4.4M150.2 89.3l4.4 4.4m-4.4 0l4.4 -4.4M150.8 90.4l4.4 4.4m-4.4 0l4.4 -4.4M151.4 91.6l4.4 4.4m-4.4 0l4.4 -4.4" fill="none" stroke="#19acdc" stroke-width="1.05"/>
<path d="M221.4 47.8l4.4 4.4m-4.4 0l4.4 -4.4M220.8 49.3l4.4 4.4m-4.4 0l4.4 -4.4M220.3 50.8l4.4 4.4m-4.4 0l4.4 -4.4M219.7 52.3l4.4 4.4m-4.4 0l4.4 -4.4M219.1 53.8l4.4 4.4m-4.4 0l4.4 -4.4M218.5 55.3l4.4 4.4m-4.4 0l4.4 -4.4M218 56.8l4.4 4.4m-4.4 0l4.4 -4.4M217.4 58.3l4.4 4.4m-4.4 0l4.4 -4.4M216.8 59.8l4.4 4.4m-4.4 0l4.4 -4.4" fill="none" stroke="#19acdc" stroke-width="1.05"/>
<path d="M260.8 14.5l4.4 4.4m-4.4 0l4.4 -4.4M259.6 16.1l4.4 4.4m-4.4 0l4.4 -4.4M258.4 17.7l4.4 4.4m-4.4 0l4.4 -4.4M257.1 19.3l4.4 4.4m-4.4 0l4.4 -4.4M255.9 20.8l4.4 4.4m-4.4 0l4.4 -4.4M254.7 22.4l4.4 4.4m-4.4 0l4.4 -4.4M253.5 24l4.4 4.4m-4.4 0l4.4 -4.4M252.3 25.6l4.4 4.4m-4.4 0l4.4 -4.4M250.9 27.1l4.4 4.4m-4.4 0l4.4 -4.4M249.5 28.5l4.4 4.4m-4.4 0l4.4 -4.4M248.1 29.9l4.4 4.4m-4.4 0l4.4 -4.4" fill="none" stroke="#19acdc" stroke-width="1.05"/>
<path d="M247.3 30.8l4.4 4.4m-4.4 0l4.4 -4.4M247.1 31.9l4.4 4.4m-4.4 0l4.4 -4.4M246.9 33l4.4 4.4m-4.4 0l4.4 -4.4M246.8 34.1l4.4 4.4m-4.4 0l4.4 -4.4M246.6 35.1l4.4 4.4m-4.4 0l4.4 -4.4M246.4 36.2l4.4 4.4m-4.4 0l4.4 -4.4M246.2 37.3l4.4 4.4m-4.4 0l4.4 -4.4M246.1 38.4l4.4 4.4m-4.4 0l4.4 -4.4M245.9 39.5l4.4 4.4m-4.4 0l4.4 -4.4M245.7 40.6l4.4 4.4m-4.4 0l4.4 -4.4M245.5 41.7l4.4 4.4m-4.4 0l4.4 -4.4M245.3 42.7l4.4 4.4m-4.4 0l4.4 -4.4M245.2 43.8l4.4 4.4m-4.4 0l4.4 -4.4M245 44.9l4.4 4.4m-4.4 0l4.4 -4.4M244.8 46l4.4 4.4m-4.4 0l4.4 -4.4M244.6 47.1l4.4 4.4m-4.4 0l4.4 -4.4M244.5 48.2l4.4 4.4m-4.4 0l4.4 -4.4M244.3 49.3l4.4 4.4m-4.4 0l4.4 -4.4M244.1 50.3l4.4 4.4m-4.4 0l4.4 -4.4M243.9 51.4l4.4 4.4m-4.4 0l4.4 -4.4M243.7 52.5l4.4 4.4m-4.4 0l4.4 -4.4M243.6 53.6l4.4 4.4m-4.4 0l4.4 -4.4M243.4 54.7l4.4 4.4m-4.4 0l4.4 -4.4M243.2 55.8l4.4 4.4m-4.4 0l4.4 -4.4M243.1 56.9l4.4 4.4m-4.4 0l4.4 -4.4M242.9 57.9l4.4 4.4m-4.4 0l4.4 -4.4M242.7 59l4.4 4.4m-4.4 0l4.4 -4.4M242.6 60.1l4.4 4.4m-4.4 0l4.4 -4.4M242.4 61.2l4.4 4.4m-4.4 0l4.4 -4.4M242.2 62.3l4.4 4.4m-4.4 0l4.4 -4.4M242.1 63.4l4.4 4.4m-4.4 0l4.4 -4.4M242 64.5l4.4 4.4m-4.4 0l4.4 -4.4M241.9 65.6l4.4 4.4m-4.4 0l4.4 -4.4M241.7 66.7l4.4 4.4m-4.4 0l4.4 -4.4M241.6 67.8l4.4 4.4m-4.4 0l4.4 -4.4M241.5 68.9l4.4 4.4m-4.4 0l4.4 -4.4M241.4 69.9l4.4 4.4m-4.4 0l4.4 -4.4M241.2 71l4.4 4.4m-4.4 0l4.4 -4.4M241.1 72.1l4.4 4.4m-4.4 0l4.4 -4.4M241 73.2l4.4 4.4m-4.4 0l4.4 -4.4M240.9 74.3l4.4 4.4m-4.4 0l4.4 -4.4M240.7 75.4l4.4 4.4m-4.4 0l4.4 -4.4M240.6 76.5l4.4 4.4m-4.4 0l4.4 -4.4M240.5 77.6l4.4 4.4m-4.4 0l4.4 -4.4M240.4 78.7l4.4 4.4m-4.4 0l4.4 -4.4M240.2 79.8l4.4 4.4m-4.4 0l4.4 -4.4M240.1 80.9l4.4 4.4m-4.4 0l4.4 -4.4M240 82l4.4 4.4m-4.4 0l4.4 -4.4M239.8 83.1l4.4 4.4m-4.4 0l4.4 -4.4M239.7 84.2l4.4 4.4m-4.4 0l4.4 -4.4M239.6 85.2l4.4 4.4m-4.4 0l4.4 -4.4M239.5 86.3l4.4 4.4m-4.4 0l4.4 -4.4M239.3 87.4l4.4 4.4m-4.4 0l4.4 -4.4M239.3 88.5l4.4 4.4m-4.4 0l4.4 -4.4M239.2 89.6l4.4 4.4m-4.4 0l4.4 -4.4M239.2 90.7l4.4 4.4m-4.4 0l4.4 -4.4M239.1 91.8l4.4 4.4m-4.4 0l4.4 -4.4M239.1 92.9l4.4 4.4m-4.4 0l4.4 -4.4M239.1 94l4.4 4.4m-4.4 0l4.4 -4.4M239 95.1l4.4 4.4m-4.4 0l4.4 -4.4M239 96.2l4.4 4.4m-4.4 0l4.4 -4.4M238.9 97.3l4.4 4.4m-4.4 0l4.4 -4.4M238.9 98.4l4.4 4.4m-4.4 0l4.4 -4.4M238.9 99.5l4.4 4.4m-4.4 0l4.4 -4.4M238.8 100.6l4.4 4.4m-4.4 0l4.4 -4.4M238.8 101.7l4.4 4.4m-4.4 0l4.4 -4.4M238.7 102.8l4.4 4.4m-4.4 0l4.4 -4.4M238.7 103.9l4.4 4.4m-4.4 0l4.4 -4.4M238.7 105l4.4 4.4m-4.4 0l4.4 -4.4M238.6 106.1l4.4 4.4m-4.4 0l4.4 -4.4M238.6 107.2l4.4 4.4m-4.4 0l4.4 -4.4M238.5 108.3l4.4 4.4m-4.4 0l4.4 -4.4M238.5 109.4l4.4 4.4m-4.4 0l4.4 -4.4M238.4 110.5l4.4 4.4m-4.4 0l4.4 -4.4M238.4 111.6l4.4 4.4m-4.4 0l4.4 -4.4M238.4 112.7l4.4 4.4m-4.4 0l4.4 -4.4M238.3 113.8l4.4 4.4m-4.4 0l4.4 -4.4M238.3 114.9l4.4 4.4m-4.4 0l4.4 -4.4M238.2 116l4.4 4.4m-4.4 0l4.4 -4.4M238.2 117.1l4.4 4.4m-4.4 0l4.4 -4.4M238.2 118.2l4.4 4.4m-4.4 0l4.4 -4.4M238.1 119.3l4.4 4.4m-4.4 0l4.4 -4.4M238.1 120.4l4.4 4.4m-4.4 0l4.4 -4.4M238 121.5l4.4 4.4m-4.4 0l4.4 -4.4M238 122.6l4.4 4.4m-4.4 0l4.4 -4.4M238 123.7l4.4 4.4m-4.4 0l4.4 -4.4M237.9 124.8l4.4 4.4m-4.4 0l4.4 -4.4M237.9 125.9l4.4 4.4m-4.4 0l4.4 -4.4M237.8 127l4.4 4.4m-4.4 0l4.4 -4.4M237.8 128.1l4.4 4.4m-4.4 0l4.4 -4.4M237.7 129.2l4.4 4.4m-4.4 0l4.4 -4.4M237.7 130.3l4.4 4.4m-4.4 0l4.4 -4.4M237.7 131.4l4.4 4.4m-4.4 0l4.4 -4.4M237.6 132.5l4.4 4.4m-4.4 0l4.4 -4.4M237.6 133.6l4.4 4.4m-4.4 0l4.4 -4.4M237.5 134.7l4.4 4.4m-4.4 0l4.4 -4.4M237.5 135.8l4.4 4.4m-4.4 0l4.4 -4.4M237.5 136.9l4.4 4.4m-4.4 0l4.4 -4.4M237.4 138l4.4 4.4m-4.4 0l4.4 -4.4M237.4 139.1l4.4 4.4m-4.4 0l4.4 -4.4M237.3 140.2l4.4 4.4m-4.4 0l4.4 -4.4M237.3 141.3l4.4 4.4m-4.4 0l4.4 -4.4M237.3 142.4l4.4 4.4m-4.4 0l4.4 -4.4M237.2 143.5l4.4 4.4m-4.4 0l4.4 -4.4M237.2 144.6l4.4 4.4m-4.4 0l4.4 -4.4M237.1 145.7l4.4 4.4m-4.4 0l4.4 -4.4M237.1 146.8l4.4 4.4m-4.4 0l4.4 -4.4M237 147.9l4.4 4.4m-4.4 0l4.4 -4.4M237 149l4.4 4.4m-4.4 0l4.4 -4.4M237 150.1l4.4 4.4m-4.4 0l4.4 -4.4M236.9 151.2l4.4 4.4m-4.4 0l4.4 -4.4M236.9 152.3l4.4 4.4m-4.4 0l4.4 -4.4M236.8 153.4l4.4 4.4m-4.4 0l4.4 -4.4M236.8 154.5l4.4 4.4m-4.4 0l4.4 -4.4M236.8 155.6l4.4 4.4m-4.4 0l4.4 -4.4M236.7 156.7l4.4 4.4m-4.4 0l4.4 -4.4M236.7 157.8l4.4 4.4m-4.4 0l4.4 -4.4M236.6 158.9l4.4 4.4m-4.4 0l4.4 -4.4M236.6 160l4.4 4.4m-4.4 0l4.4 -4.4M236.6 161.1l4.4 4.4m-4.4 0l4.4 -4.4M236.5 162.2l4.4 4.4m-4.4 0l4.4 -4.4M236.5 163.3l4.4 4.4m-4.4 0l4.4 -4.4M236.4 164.4l4.4 4.4m-4.4 0l4.4 -4.4M236.4 165.5l4.4 4.4m-4.4 0l4.4 -4.4M236.3 166.6l4.4 4.4m-4.4 0l4.4 -4.4M236.3 167.7l4.4 4.4m-4.4 0l4.4 -4.4" fill="none" stroke="#19acdc" stroke-width="1.05"/>
<path d="M258.3 13.3l4.4 4.4m-4.4 0l4.4 -4.4M257.1 14.9l4.4 4.4m-4.4 0l4.4 -4.4M255.8 16.5l4.4 4.4m-4.4 0l4.4 -4.4M254.6 18l4.4 4.4m-4.4 0l4.4 -4.4M253.4 19.6l4.4 4.4m-4.4 0l4.4 -4.4M252.1 21.2l4.4 4.4m-4.4 0l4.4 -4.4M250.9 22.8l4.4 4.4m-4.4 0l4.4 -4.4M249.7 24.3l4.4 4.4m-4.4 0l4.4 -4.4M248.5 25.9l4.4 4.4m-4.4 0l4.4 -4.4M247.4 27.6l4.4 4.4m-4.4 0l4.4 -4.4M246.2 29.2l4.4 4.4m-4.4 0l4.4 -4.4" fill="none" stroke="#19acdc" stroke-width="1.05"/>
<path d="M192.8 85l4.4 4.4m-4.4 0l4.4 -4.4M192.5 87.5l4.4 4.4m-4.4 0l4.4 -4.4M192.2 90l4.4 4.4m-4.4 0l4.4 -4.4M191.9 92.4l4.4 4.4m-4.4 0l4.4 -4.4M191.6 94.9l4.4 4.4m-4.4 0l4.4 -4.4M191.3 97.4l4.4 4.4m-4.4 0l4.4 -4.4M191 99.9l4.4 4.4m-4.4 0l4.4 -4.4M190.7 102.4l4.4 4.4m-4.4 0l4.4 -4.4M190.4 104.9l4.4 4.4m-4.4 0l4.4 -4.4M190.1 107.3l4.4 4.4m-4.4 0l4.4 -4.4M189.9 109.8l4.4 4.4m-4.4 0l4.4 -4.4M189.7 112.3l4.4 4.4m-4.4 0l4.4 -4.4M189.6 114.8l4.4 4.4m-4.4 0l4.4 -4.4M189.4 117.3l4.4 4.4m-4.4 0l4.4 -4.4M189.3 119.8l4.4 4.4m-4.4 0l4.4 -4.4M189.1 122.3l4.4 4.4m-4.4 0l4.4 -4.4M189 124.8l4.4 4.4m-4.4 0l4.4 -4.4M188.8 127.3l4.4 4.4m-4.4 0l4.4 -4.4M188.7 129.8l4.4 4.4m-4.4 0l4.4 -4.4M188.5 132.3l4.4 4.4m-4.4 0l4.4 -4.4M188.4 134.8l4.4 4.4m-4.4 0l4.4 -4.4M188.2 137.3l4.4 4.4m-4.4 0l4.4 -4.4M188.1 139.8l4.4 4.4m-4.4 0l4.4 -4.4M187.9 142.3l4.4 4.4m-4.4 0l4.4 -4.4M187.8 144.8l4.4 4.4m-4.4 0l4.4 -4.4M187.6 147.3l4.4 4.4m-4.4 0l4.4 -4.4M187.5 149.8l4.4 4.4m-4.4 0l4.4 -4.4M187.3 152.2l4.4 4.4m-4.4 0l4.4 -4.4M187.2 154.7l4.4 4.4m-4.4 0l4.4 -4.4M187 157.2l4.4 4.4m-4.4 0l4.4 -4.4M186.9 159.7l4.4 4.4m-4.4 0l4.4 -4.4M186.7 162.2l4.4 4.4m-4.4 0l4.4 -4.4M186.6 164.7l4.4 4.4m-4.4 0l4.4 -4.4M186.4 167.2l4.4 4.4m-4.4 0l4.4 -4.4" fill="none" stroke="#19acdc" stroke-width="1.05"/>
<path d="M153.8 78.2l4.4 4.4m-4.4 0l4.4 -4.4M153.7 79.5l4.4 4.4m-4.4 0l4.4 -4.4M153.6 80.8l4.4 4.4m-4.4 0l4.4 -4.4M153.5 82.1l4.4 4.4m-4.4 0l4.4 -4.4M153.4 83.4l4.4 4.4m-4.4 0l4.4 -4.4M153.3 84.7l4.4 4.4m-4.4 0l4.4 -4.4M153.2 86l4.4 4.4m-4.4 0l4.4 -4.4M153 87.3l4.4 4.4m-4.4 0l4.4 -4.4M152.9 88.6l4.4 4.4m-4.4 0l4.4 -4.4M152.8 89.9l4.4 4.4m-4.4 0l4.4 -4.4M152.7 91.2l4.4 4.4m-4.4 0l4.4 -4.4M152.6 92.5l4.4 4.4m-4.4 0l4.4 -4.4" fill="none" stroke="#12b1d6" stroke-width="1.05"/>
<path d="M141.8 84.8l4.4 4.4m-4.4 0l4.4 -4.4M142.9 86.7l4.4 4.4m-4.4 0l4.4 -4.4M144 88.6l4.4 4.4m-4.4 0l4.4 -4.4M145.1 90.5l4.4 4.4m-4.4 0l4.4 -4.4" fill="none" stroke="#12b1d6" stroke-width="1.05"/>
<path d="M191.3 39.3l4.4 4.4m-4.4 0l4.4 -4.4M192.9 40.9l4.4 4.4m-4.4 0l4.4 -4.4M194.4 42.4l4.4 4.4m-4.4 0l4.4 -4.4" fill="none" stroke="#12b1d6" stroke-width="1.05"/>
<path d="M271.1 25.8l4.4 4.4m-4.4 0l4.4 -4.4M271.1 27l4.4 4.4m-4.4 0l4.4 -4.4M271.1 28.2l4.4 4.4m-4.4 0l4.4 -4.4M271.1 29.4l4.4 4.4m-4.4 0l4.4 -4.4M271.1 30.6l4.4 4.4m-4.4 0l4.4 -4.4M271.1 31.8l4.4 4.4m-4.4 0l4.4 -4.4M271.1 33l4.4 4.4m-4.4 0l4.4 -4.4M271.1 34.2l4.4 4.4m-4.4 0l4.4 -4.4M271.1 35.4l4.4 4.4m-4.4 0l4.4 -4.4M271.1 36.6l4.4 4.4m-4.4 0l4.4 -4.4M271.1 37.8l4.4 4.4m-4.4 0l4.4 -4.4M271.1 39l4.4 4.4m-4.4 0l4.4 -4.4M271.1 40.2l4.4 4.4m-4.4 0l4.4 -4.4M271.2 41.4l4.4 4.4m-4.4 0l4.4 -4.4M271.2 42.6l4.4 4.4m-4.4 0l4.4 -4.4M271.2 43.8l4.4 4.4m-4.4 0l4.4 -4.4M271.2 45l4.4 4.4m-4.4 0l4.4 -4.4M271.2 46.2l4.4 4.4m-4.4 0l4.4 -4.4M271.2 47.4l4.4 4.4m-4.4 0l4.4 -4.4M271.2 48.6l4.4 4.4m-4.4 0l4.4 -4.4M271.2 49.8l4.4 4.4m-4.4 0l4.4 -4.4M271.2 51l4.4 4.4m-4.4 0l4.4 -4.4M271.2 52.2l4.4 4.4m-4.4 0l4.4 -4.4M271.2 53.4l4.4 4.4m-4.4 0l4.4 -4.4M271.2 54.6l4.4 4.4m-4.4 0l4.4 -4.4M271.2 55.8l4.4 4.4m-4.4 0l4.4 -4.4M271.2 57l4.4 4.4m-4.4 0l4.4 -4.4M271.2 58.2l4.4 4.4m-4.4 0l4.4 -4.4M271.2 59.4l4.4 4.4m-4.4 0l4.4 -4.4M271.2 60.6l4.4 4.4m-4.4 0l4.4 -4.4M271.2 61.8l4.4 4.4m-4.4 0l4.4 -4.4M271.2 63l4.4 4.4m-4.4 0l4.4 -4.4M271.2 64.2l4.4 4.4m-4.4 0l4.4 -4.4M271.2 65.4l4.4 4.4m-4.4 0l4.4 -4.4M271.2 66.6l4.4 4.4m-4.4 0l4.4 -4.4M271.2 67.8l4.4 4.4m-4.4 0l4.4 -4.4M271.2 69l4.4 4.4m-4.4 0l4.4 -4.4M271.2 70.2l4.4 4.4m-4.4 0l4.4 -4.4M271.2 71.4l4.4 4.4m-4.4 0l4.4 -4.4M271.3 72.6l4.4 4.4m-4.4 0l4.4 -4.4M271.3 73.8l4.4 4.4m-4.4 0l4.4 -4.4M271.3 75l4.4 4.4m-4.4 0l4.4 -4.4M271.3 76.2l4.4 4.4m-4.4 0l4.4 -4.4M271.3 77.4l4.4 4.4m-4.4 0l4.4 -4.4M271.3 78.6l4.4 4.4m-4.4 0l4.4 -4.4M271.3 79.8l4.4 4.4m-4.4 0l4.4 -4.4M271.3 81l4.4 4.4m-4.4 0l4.4 -4.4M271.3 82.2l4.4 4.4m-4.4 0l4.4 -4.4M271.3 83.4l4.4 4.4m-4.4 0l4.4 -4.4M271.3 84.6l4.4 4.4m-4.4 0l4.4 -4.4M271.3 85.8l4.4 4.4m-4.4 0l4.4 -4.4M271.3 87l4.4 4.4m-4.4 0l4.4 -4.4M271.2 88.2l4.4 4.4m-4.4 0l4.4 -4.4M270.9 89.4l4.4 4.4m-4.4 0l4.4 -4.4M270.7 90.5l4.4 4.4m-4.4 0l4.4 -4.4M270.4 91.7l4.4 4.4m-4.4 0l4.4 -4.4M270.1 92.9l4.4 4.4m-4.4 0l4.4 -4.4M269.8 94l4.4 4.4m-4.4 0l4.4 -4.4M269.6 95.2l4.4 4.4m-4.4 0l4.4 -4.4M269.3 96.4l4.4 4.4m-4.4 0l4.4 -4.4M269 97.5l4.4 4.4m-4.4 0l4.4 -4.4M268.8 98.7l4.4 4.4m-4.4 0l4.4 -4.4M268.5 99.9l4.4 4.4m-4.4 0l4.4 -4.4M268.2 101l4.4 4.4m-4.4 0l4.4 -4.4M267.9 102.2l4.4 4.4m-4.4 0l4.4 -4.4M267.7 103.4l4.4 4.4m-4.4 0l4.4 -4.4M267.4 104.5l4.4 4.4m-4.4 0l4.4 -4.4M267.1 105.7l4.4 4.4m-4.4 0l4.4 -4.4M266.8 106.9l4.4 4.4m-4.4 0l4.4 -4.4M266.6 108.1l4.4 4.4m-4.4 0l4.4 -4.4M266.3 109.2l4.4 4.4m-4.4 0l4.4 -4.4M266 110.4l4.4 4.4m-4.4 0l4.4 -4.4M265.8 111.6l4.4 4.4m-4.4 0l4.4 -4.4M265.5 112.7l4.4 4.4m-4.4 0l4.4 -4.4M265.2 113.9l4.4 4.4m-4.4 0l4.4 -4.4M265 115.1l4.4 4.4m-4.4 0l4.4 -4.4M264.8 116.3l4.4 4.4m-4.4 0l4.4 -4.4M264.6 117.5l4.4 4.4m-4.4 0l4.4 -4.4M264.5 118.6l4.4 4.4m-4.4 0l4.4 -4.4M264.3 119.8l4.4 4.4m-4.4 0l4.4 -4.4M264.2 121l4.4 4.4m-4.4 0l4.4 -4.4M264 122.2l4.4 4.4m-4.4 0l4.4 -4.4M263.9 123.4l4.4 4.4m-4.4 0l4.4 -4.4M263.7 124.6l4.4 4.4m-4.4 0l4.4 -4.4M263.5 125.8l4.4 4.4m-4.4 0l4.4 -4.4M263.4 127l4.4 4.4m-4.4 0l4.4 -4.4M263.2 128.2l4.4 4.4m-4.4 0l4.4 -4.4M263.1 129.3l4.4 4.4m-4.4 0l4.4 -4.4M262.9 130.5l4.4 4.4m-4.4 0l4.4 -4.4M262.7 131.7l4.4 4.4m-4.4 0l4.4 -4.4M262.6 132.9l4.4 4.4m-4.4 0l4.4 -4.4M262.4 134.1l4.4 4.4m-4.4 0l4.4 -4.4M262.3 135.3l4.4 4.4m-4.4 0l4.4 -4.4M262.1 136.5l4.4 4.4m-4.4 0l4.4 -4.4M262 137.7l4.4 4.4m-4.4 0l4.4 -4.4M261.8 138.9l4.4 4.4m-4.4 0l4.4 -4.4M261.6 140.1l4.4 4.4m-4.4 0l4.4 -4.4M261.5 141.2l4.4 4.4m-4.4 0l4.4 -4.4M261.4 142.4l4.4 4.4m-4.4 0l4.4 -4.4M261.3 143.6l4.4 4.4m-4.4 0l4.4 -4.4M261.3 144.8l4.4 4.4m-4.4 0l4.4 -4.4M261.3 146l4.4 4.4m-4.4 0l4.4 -4.4M261.2 147.2l4.4 4.4m-4.4 0l4.4 -4.4M261.2 148.4l4.4 4.4m-4.4 0l4.4 -4.4M261.1 149.6l4.4 4.4m-4.4 0l4.4 -4.4M261.1 150.8l4.4 4.4m-4.4 0l4.4 -4.4M261 152l4.4 4.4m-4.4 0l4.4 -4.4M261 153.2l4.4 4.4m-4.4 0l4.4 -4.4M261 154.4l4.4 4.4m-4.4 0l4.4 -4.4M260.9 155.6l4.4 4.4m-4.4 0l4.4 -4.4M260.9 156.8l4.4 4.4m-4.4 0l4.4 -4.4M260.8 158l4.4 4.4m-4.4 0l4.4 -4.4M260.8 159.2l4.4 4.4m-4.4 0l4.4 -4.4M260.8 160.4l4.4 4.4m-4.4 0l4.4 -4.4M260.7 161.6l4.4 4.4m-4.4 0l4.4 -4.4M260.7 162.8l4.4 4.4m-4.4 0l4.4 -4.4M260.6 164l4.4 4.4m-4.4 0l4.4 -4.4M260.6 165.2l4.4 4.4m-4.4 0l4.4 -4.4M260.5 166.4l4.4 4.4m-4.4 0l4.4 -4.4M260.5 167.6l4.4 4.4m-4.4 0l4.4 -4.4" fill="none" stroke="#12b1d6" stroke-width="1.05"/>
<path d="M294.6 24.6l4.4 4.4m-4.4 0l4.4 -4.4M295.7 24.3l4.4 4.4m-4.4 0l4.4 -4.4M296.7 24l4.4 4.4m-4.4 0l4.4 -4.4M297.8 23.7l4.4 4.4m-4.4 0l4.4 -4.4M298.8 23.3l4.4 4.4m-4.4 0l4.4 -4.4M299.9 23l4.4 4.4m-4.4 0l4.4 -4.4M300.9 22.7l4.4 4.4m-4.4 0l4.4 -4.4M302 22.4l4.4 4.4m-4.4 0l4.4 -4.4M303 22.1l4.4 4.4m-4.4 0l4.4 -4.4M304.1 21.8l4.4 4.4m-4.4 0l4.4 -4.4M305.1 21.4l4.4 4.4m-4.4 0l4.4 -4.4M306.2 21.1l4.4 4.4m-4.4 0l4.4 -4.4M307.2 20.8l4.4 4.4m-4.4 0l4.4 -4.4M308.3 20.5l4.4 4.4m-4.4 0l4.4 -4.4M309.4 20.2l4.4 4.4m-4.4 0l4.4 -4.4M310.4 19.9l4.4 4.4m-4.4 0l4.4 -4.4M311.5 19.5l4.4 4.4m-4.4 0l4.4 -4.4M312.5 19.2l4.4 4.4m-4.4 0l4.4 -4.4" fill="none" stroke="#06b5ce" stroke-width="1.05"/>
<path d="M134.8 131.8l4.4 4.4m-4.4 0l4.4 -4.4M134.8 132.9l4.4 4.4m-4.4 0l4.4 -4.4M134.8 134l4.4 4.4m-4.4 0l4.4 -4.4M134.8 135.1l4.4 4.4m-4.4 0l4.4 -4.4M134.8 136.2l4.4 4.4m-4.4 0l4.4 -4.4M134.8 137.3l4.4 4.4m-4.4 0l4.4 -4.4M134.8 138.4l4.4 4.4m-4.4 0l4.4 -4.4M134.7 139.5l4.4 4.4m-4.4 0l4.4 -4.4M134.7 140.6l4.4 4.4m-4.4 0l4.4 -4.4M134.7 141.7l4.4 4.4m-4.4 0l4.4 -4.4M134.7 142.8l4.4 4.4m-4.4 0l4.4 -4.4M134.7 143.9l4.4 4.4m-4.4 0l4.4 -4.4M134.7 145l4.4 4.4m-4.4 0l4.4 -4.4M134.7 146.1l4.4 4.4m-4.4 0l4.4 -4.4M134.7 147.2l4.4 4.4m-4.4 0l4.4 -4.4M134.7 148.3l4.4 4.4m-4.4 0l4.4 -4.4M134.7 149.4l4.4 4.4m-4.4 0l4.4 -4.4M134.7 150.5l4.4 4.4m-4.4 0l4.4 -4.4M134.7 151.6l4.4 4.4m-4.4 0l4.4 -4.4M134.6 152.7l4.4 4.4m-4.4 0l4.4 -4.4M134.6 153.8l4.4 4.4m-4.4 0l4.4 -4.4M134.6 154.9l4.4 4.4m-4.4 0l4.4 -4.4M134.6 156l4.4 4.4m-4.4 0l4.4 -4.4M134.6 157.1l4.4 4.4m-4.4 0l4.4 -4.4M134.6 158.2l4.4 4.4m-4.4 0l4.4 -4.4M134.6 159.3l4.4 4.4m-4.4 0l4.4 -4.4" fill="none" stroke="#01b9c6" stroke-width="1.05"/>
<path d="M299.4 32.6l4.4 4.4m-4.4 0l4.4 -4.4M300.5 32.7l4.4 4.4m-4.4 0l4.4 -4.4M301.6 32.8l4.4 4.4m-4.4 0l4.4 -4.4M302.7 32.9l4.4 4.4m-4.4 0l4.4 -4.4M303.8 33l4.4 4.4m-4.4 0l4.4 -4.4M304.9 33.1l4.4 4.4m-4.4 0l4.4 -4.4M306 33.2l4.4 4.4m-4.4 0l4.4 -4.4M307.1 33.3l4.4 4.4m-4.4 0l4.4 -4.4M308.2 33.5l4.4 4.4m-4.4 0l4.4 -4.4M309.3 33.6l4.4 4.4m-4.4 0l4.4 -4.4M310.3 33.7l4.4 4.4m-4.4 0l4.4 -4.4M311.4 33.8l4.4 4.4m-4.4 0l4.4 -4.4M312.5 33.9l4.4 4.4m-4.4 0l4.4 -4.4M313.6 34l4.4 4.4m-4.4 0l4.4 -4.4M314.7 34.1l4.4 4.4m-4.4 0l4.4 -4.4M315.8 34.3l4.4 4.4m-4.4 0l4.4 -4.4M316.9 34.5l4.4 4.4m-4.4 0l4.4 -4.4M318 34.6l4.4 4.4m-4.4 0l4.4 -4.4M319.1 34.8l4.4 4.4m-4.4 0l4.4 -4.4M320.2 35l4.4 4.4m-4.4 0l4.4 -4.4M321.2 35.1l4.4 4.4m-4.4 0l4.4 -4.4M322.3 35.3l4.4 4.4m-4.4 0l4.4 -4.4M323.4 35.5l4.4 4.4m-4.4 0l4.4 -4.4M324.5 35.6l4.4 4.4m-4.4 0l4.4 -4.4M325.6 35.8l4.4 4.4m-4.4 0l4.4 -4.4M326.7 36l4.4 4.4m-4.4 0l4.4 -4.4M327.8 36.1l4.4 4.4m-4.4 0l4.4 -4.4M328.9 36.3l4.4 4.4m-4.4 0l4.4 -4.4" fill="none" stroke="#01b9c6" stroke-width="1.05"/>
<path d="M141.2 103.4l4.4 4.4m-4.4 0l4.4 -4.4M140.5 105.8l4.4 4.4m-4.4 0l4.4 -4.4M139.9 108.2l4.4 4.4m-4.4 0l4.4 -4.4M139.4 110.7l4.4 4.4m-4.4 0l4.4 -4.4M138.8 113.1l4.4 4.4m-4.4 0l4.4 -4.4M138.3 115.5l4.4 4.4m-4.4 0l4.4 -4.4M137.7 118l4.4 4.4m-4.4 0l4.4 -4.4M137.2 120.4l4.4 4.4m-4.4 0l4.4 -4.4M136.6 122.9l4.4 4.4m-4.4 0l4.4 -4.4M136.1 125.3l4.4 4.4m-4.4 0l4.4 -4.4M135.5 127.7l4.4 4.4m-4.4 0l4.4 -4.4M135 130.2l4.4 4.4m-4.4 0l4.4 -4.4" fill="none" stroke="#0abdbe" stroke-width="1.05"/>
<path d="M284.4 104.3l4.4 4.4m-4.4 0l4.4 -4.4M284.4 107.6l4.4 4.4m-4.4 0l4.4 -4.4M284.5 110.9l4.4 4.4m-4.4 0l4.4 -4.4M284.5 114.2l4.4 4.4m-4.4 0l4.4 -4.4M284.6 117.5l4.4 4.4m-4.4 0l4.4 -4.4M284.6 120.8l4.4 4.4m-4.4 0l4.4 -4.4M284.7 124.1l4.4 4.4m-4.4 0l4.4 -4.4M284.7 127.4l4.4 4.4m-4.4 0l4.4 -4.4M284.7 130.7l4.4 4.4m-4.4 0l4.4 -4.4M284.8 134l4.4 4.4m-4.4 0l4.4 -4.4" fill="none" stroke="#0abdbe" stroke-width="0.85"/>
<path d="M185.8 24.6l4.4 4.4m-4.4 0l4.4 -4.4M186.9 24.3l4.4 4.4m-4.4 0l4.4 -4.4M187.9 24.1l4.4 4.4m-4.4 0l4.4 -4.4M189 23.8l4.4 4.4m-4.4 0l4.4 -4.4M190.1 23.6l4.4 4.4m-4.4 0l4.4 -4.4M191.2 23.3l4.4 4.4m-4.4 0l4.4 -4.4M192.2 23.1l4.4 4.4m-4.4 0l4.4 -4.4M193.3 22.8l4.4 4.4m-4.4 0l4.4 -4.4M194.4 22.6l4.4 4.4m-4.4 0l4.4 -4.4M195.4 22.3l4.4 4.4m-4.4 0l4.4 -4.4M196.5 22.1l4.4 4.4m-4.4 0l4.4 -4.4M197.6 21.8l4.4 4.4m-4.4 0l4.4 -4.4M198.6 21.6l4.4 4.4m-4.4 0l4.4 -4.4M199.7 21.3l4.4 4.4m-4.4 0l4.4 -4.4" fill="none" stroke="#27c2ab" stroke-width="1.05"/>
<path d="M186.8 26l4.4 4.4m-4.4 0l4.4 -4.4M188.2 25.7l4.4 4.4m-4.4 0l4.4 -4.4M189.5 25.3l4.4 4.4m-4.4 0l4.4 -4.4M190.9 25l4.4 4.4m-4.4 0l4.4 -4.4M192.2 24.6l4.4 4.4m-4.4 0l4.4 -4.4M193.6 24.3l4.4 4.4m-4.4 0l4.4 -4.4M194.9 24l4.4 4.4m-4.4 0l4.4 -4.4M196.3 23.6l4.4 4.4m-4.4 0l4.4 -4.4M197.7 23.3l4.4 4.4m-4.4 0l4.4 -4.4" fill="none" stroke="#27c2ab" stroke-width="1.05"/>
<path d="M198.6 19.8l4.4 4.4m-4.4 0l4.4 -4.4M198.6 20.9l4.4 4.4m-4.4 0l4.4 -4.4M198.6 22l4.4 4.4m-4.4 0l4.4 -4.4M198.7 23.1l4.4 4.4m-4.4 0l4.4 -4.4M198.7 24.2l4.4 4.4m-4.4 0l4.4 -4.4M198.7 25.3l4.4 4.4m-4.4 0l4.4 -4.4M198.7 26.4l4.4 4.4m-4.4 0l4.4 -4.4M198.7 27.5l4.4 4.4m-4.4 0l4.4 -4.4M198.7 28.6l4.4 4.4m-4.4 0l4.4 -4.4M198.8 29.7l4.4 4.4m-4.4 0l4.4 -4.4M198.8 30.8l4.4 4.4m-4.4 0l4.4 -4.4M198.8 31.9l4.4 4.4m-4.4 0l4.4 -4.4M198.8 33l4.4 4.4m-4.4 0l4.4 -4.4M198.8 34.1l4.4 4.4m-4.4 0l4.4 -4.4M198.8 35.2l4.4 4.4m-4.4 0l4.4 -4.4M198.9 36.3l4.4 4.4m-4.4 0l4.4 -4.4M198.9 37.4l4.4 4.4m-4.4 0l4.4 -4.4M198.9 38.5l4.4 4.4m-4.4 0l4.4 -4.4M198.9 39.6l4.4 4.4m-4.4 0l4.4 -4.4M198.9 40.7l4.4 4.4m-4.4 0l4.4 -4.4M199 41.8l4.4 4.4m-4.4 0l4.4 -4.4M199 42.9l4.4 4.4m-4.4 0l4.4 -4.4M199 44l4.4 4.4m-4.4 0l4.4 -4.4" fill="none" stroke="#27c2ab" stroke-width="1.05"/>
<path d="M196.8 21.8l4.4 4.4m-4.4 0l4.4 -4.4M196.8 23.2l4.4 4.4m-4.4 0l4.4 -4.4M196.8 24.6l4.4 4.4m-4.4 0l4.4 -4.4M196.9 26l4.4 4.4m-4.4 0l4.4 -4.4M196.9 27.4l4.4 4.4m-4.4 0l4.4 -4.4M196.9 28.8l4.4 4.4m-4.4 0l4.4 -4.4M196.9 30.2l4.4 4.4m-4.4 0l4.4 -4.4M196.9 31.6l4.4 4.4m-4.4 0l4.4 -4.4M197 33l4.4 4.4m-4.4 0l4.4 -4.4M197 34.4l4.4 4.4m-4.4 0l4.4 -4.4M197 35.8l4.4 4.4m-4.4 0l4.4 -4.4M197 37.2l4.4 4.4m-4.4 0l4.4 -4.4M197 38.6l4.4 4.4m-4.4 0l4.4 -4.4M197 40l4.4 4.4m-4.4 0l4.4 -4.4M197.1 41.4l4.4 4.4m-4.4 0l4.4 -4.4M197.1 42.8l4.4 4.4m-4.4 0l4.4 -4.4" fill="none" stroke="#27c2ab" stroke-width="1.05"/>
<path d="M195.4 31.8l4.4 4.4m-4.4 0l4.4 -4.4M195.5 33.4l4.4 4.4m-4.4 0l4.4 -4.4M195.6 35l4.4 4.4m-4.4 0l4.4 -4.4M195.7 36.6l4.4 4.4m-4.4 0l4.4 -4.4M195.7 38.2l4.4 4.4m-4.4 0l4.4 -4.4M195.8 39.8l4.4 4.4m-4.4 0l4.4 -4.4M195.9 41.4l4.4 4.4m-4.4 0l4.4 -4.4M196 43l4.4 4.4m-4.4 0l4.4 -4.4" fill="none" stroke="#27c2ab" stroke-width="1.05"/>
<path d="M375.4 96.6l4.4 4.4m-4.4 0l4.4 -4.4M376.5 97.1l4.4 4.4m-4.4 0l4.4 -4.4M375.5 97l4.4 4.4m-4.4 0l4.4 -4.4M378.1 97.8l4.4 4.4m-4.4 0l4.4 -4.4M375.4 96.8l4.4 4.4m-4.4 0l4.4 -4.4" fill="none" stroke="#30c5a2" stroke-width="0.85"/>
<path d="M297.8 41.4l4.4 4.4m-4.4 0l4.4 -4.4M299.1 41.4l4.4 4.4m-4.4 0l4.4 -4.4M300.4 41.4l4.4 4.4m-4.4 0l4.4 -4.4M301.7 41.4l4.4 4.4m-4.4 0l4.4 -4.4M303 41.4l4.4 4.4m-4.4 0l4.4 -4.4M304.3 41.4l4.4 4.4m-4.4 0l4.4 -4.4M305.6 41.4l4.4 4.4m-4.4 0l4.4 -4.4M306.9 41.4l4.4 4.4m-4.4 0l4.4 -4.4M308.2 41.3l4.4 4.4m-4.4 0l4.4 -4.4M309.5 41.3l4.4 4.4m-4.4 0l4.4 -4.4M310.8 41.3l4.4 4.4m-4.4 0l4.4 -4.4M312.1 41.3l4.4 4.4m-4.4 0l4.4 -4.4M313.4 41.3l4.4 4.4m-4.4 0l4.4 -4.4M314.7 41.3l4.4 4.4m-4.4 0l4.4 -4.4M316 41.3l4.4 4.4m-4.4 0l4.4 -4.4M317.3 41.3l4.4 4.4m-4.4 0l4.4 -4.4M318.6 41.3l4.4 4.4m-4.4 0l4.4 -4.4M319.9 41.3l4.4 4.4m-4.4 0l4.4 -4.4M321.2 41.3l4.4 4.4m-4.4 0l4.4 -4.4M322.5 41.3l4.4 4.4m-4.4 0l4.4 -4.4M323.8 41.3l4.4 4.4m-4.4 0l4.4 -4.4M325.1 41.3l4.4 4.4m-4.4 0l4.4 -4.4M326.4 41.3l4.4 4.4m-4.4 0l4.4 -4.4M327.7 41.2l4.4 4.4m-4.4 0l4.4 -4.4M329 41.2l4.4 4.4m-4.4 0l4.4 -4.4M330.3 41.2l4.4 4.4m-4.4 0l4.4 -4.4M331.6 41.2l4.4 4.4m-4.4 0l4.4 -4.4M332.9 41.2l4.4 4.4m-4.4 0l4.4 -4.4M334.2 41.2l4.4 4.4m-4.4 0l4.4 -4.4M335.5 41.2l4.4 4.4m-4.4 0l4.4 -4.4M336.8 41.2l4.4 4.4m-4.4 0l4.4 -4.4" fill="none" stroke="#33c79c" stroke-width="1.05"/>
<path d="M280.1 23.6l4.4 4.4m-4.4 0l4.4 -4.4M281 24.4l4.4 4.4m-4.4 0l4.4 -4.4M281.9 25.2l4.4 4.4m-4.4 0l4.4 -4.4M282.7 26l4.4 4.4m-4.4 0l4.4 -4.4M283.6 26.9l4.4 4.4m-4.4 0l4.4 -4.4M284.5 27.7l4.4 4.4m-4.4 0l4.4 -4.4M285.4 28.5l4.4 4.4m-4.4 0l4.4 -4.4M286.3 29.3l4.4 4.4m-4.4 0l4.4 -4.4M287.1 30.1l4.4 4.4m-4.4 0l4.4 -4.4M288 30.9l4.4 4.4m-4.4 0l4.4 -4.4M288.9 31.8l4.4 4.4m-4.4 0l4.4 -4.4M289.8 32.6l4.4 4.4m-4.4 0l4.4 -4.4M290.7 33.4l4.4 4.4m-4.4 0l4.4 -4.4M291.5 34.2l4.4 4.4m-4.4 0l4.4 -4.4M292.4 35l4.4 4.4m-4.4 0l4.4 -4.4M293.3 35.8l4.4 4.4m-4.4 0l4.4 -4.4M294.2 36.7l4.4 4.4m-4.4 0l4.4 -4.4M295.1 37.5l4.4 4.4m-4.4 0l4.4 -4.4M296.1 38.1l4.4 4.4m-4.4 0l4.4 -4.4M297.2 38.5l4.4 4.4m-4.4 0l4.4 -4.4M298.3 38.9l4.4 4.4m-4.4 0l4.4 -4.4M299.4 39.4l4.4 4.4m-4.4 0l4.4 -4.4M300.6 39.8l4.4 4.4m-4.4 0l4.4 -4.4M301.7 40.2l4.4 4.4m-4.4 0l4.4 -4.4M302.8 40.7l4.4 4.4m-4.4 0l4.4 -4.4M303.9 41.1l4.4 4.4m-4.4 0l4.4 -4.4M305 41.5l4.4 4.4m-4.4 0l4.4 -4.4M306.1 42l4.4 4.4m-4.4 0l4.4 -4.4M307.3 42.4l4.4 4.4m-4.4 0l4.4 -4.4M308.4 42.8l4.4 4.4m-4.4 0l4.4 -4.4M309.5 43.3l4.4 4.4m-4.4 0l4.4 -4.4M310.6 43.7l4.4 4.4m-4.4 0l4.4 -4.4M311.7 44.2l4.4 4.4m-4.4 0l4.4 -4.4M312.9 44.6l4.4 4.4m-4.4 0l4.4 -4.4M313.9 45.2l4.4 4.4m-4.4 0l4.4 -4.4M314.8 45.9l4.4 4.4m-4.4 0l4.4 -4.4M315.7 46.7l4.4 4.4m-4.4 0l4.4 -4.4M316.7 47.5l4.4 4.4m-4.4 0l4.4 -4.4M317.6 48.2l4.4 4.4m-4.4 0l4.4 -4.4M318.5 49l4.4 4.4m-4.4 0l4.4 -4.4M319.4 49.7l4.4 4.4m-4.4 0l4.4 -4.4M320.4 50.5l4.4 4.4m-4.4 0l4.4 -4.4M321.3 51.3l4.4 4.4m-4.4 0l4.4 -4.4M322.2 52l4.4 4.4m-4.4 0l4.4 -4.4M323.2 52.8l4.4 4.4m-4.4 0l4.4 -4.4M324.1 53.5l4.4 4.4m-4.4 0l4.4 -4.4M324.5 54.6l4.4 4.4m-4.4 0l4.4 -4.4M324.8 55.8l4.4 4.4m-4.4 0l4.4 -4.4M325 56.9l4.4 4.4m-4.4 0l4.4 -4.4M325.2 58.1l4.4 4.4m-4.4 0l4.4 -4.4M325.4 59.3l4.4 4.4m-4.4 0l4.4 -4.4M325.6 60.5l4.4 4.4m-4.4 0l4.4 -4.4M325.8 61.7l4.4 4.4m-4.4 0l4.4 -4.4M326 62.9l4.4 4.4m-4.4 0l4.4 -4.4M326.2 64l4.4 4.4m-4.4 0l4.4 -4.4M326.4 65.2l4.4 4.4m-4.4 0l4.4 -4.4M326.7 66.4l4.4 4.4m-4.4 0l4.4 -4.4" fill="none" stroke="#33c79c" stroke-width="1.05"/>
<path d="M154.4 75.8l4.4 4.4m-4.4 0l4.4 -4.4M155 76.9l4.4 4.4m-4.4 0l4.4 -4.4M155.7 78.1l4.4 4.4m-4.4 0l4.4 -4.4M156.3 79.2l4.4 4.4m-4.4 0l4.4 -4.4M156.9 80.3l4.4 4.4m-4.4 0l4.4 -4.4" fill="none" stroke="#51cc7e" stroke-width="1.05"/>
<path d="M157.2 82l4.4 4.4m-4.4 0l4.4 -4.4M158.4 82l4.4 4.4m-4.4 0l4.4 -4.4M159.6 82l4.4 4.4m-4.4 0l4.4 -4.4M160.8 82l4.4 4.4m-4.4 0l4.4 -4.4M162 82l4.4 4.4m-4.4 0l4.4 -4.4M163.2 82l4.4 4.4m-4.4 0l4.4 -4.4M164.4 82l4.4 4.4m-4.4 0l4.4 -4.4M165.6 82l4.4 4.4m-4.4 0l4.4 -4.4M166.8 82l4.4 4.4m-4.4 0l4.4 -4.4M168 82l4.4 4.4m-4.4 0l4.4 -4.4M169.2 82l4.4 4.4m-4.4 0l4.4 -4.4M170.4 82l4.4 4.4m-4.4 0l4.4 -4.4M171.6 82l4.4 4.4m-4.4 0l4.4 -4.4M172.8 82l4.4 4.4m-4.4 0l4.4 -4.4M174 82l4.4 4.4m-4.4 0l4.4 -4.4M175.2 82l4.4 4.4m-4.4 0l4.4 -4.4M176.4 82l4.4 4.4m-4.4 0l4.4 -4.4M177.6 82l4.4 4.4m-4.4 0l4.4 -4.4M178.8 82l4.4 4.4m-4.4 0l4.4 -4.4M180 82l4.4 4.4m-4.4 0l4.4 -4.4M181.2 82l4.4 4.4m-4.4 0l4.4 -4.4M182.4 82l4.4 4.4m-4.4 0l4.4 -4.4M183.6 82l4.4 4.4m-4.4 0l4.4 -4.4M184.8 82l4.4 4.4m-4.4 0l4.4 -4.4M186 82l4.4 4.4m-4.4 0l4.4 -4.4M187.2 82.1l4.4 4.4m-4.4 0l4.4 -4.4M188.4 82.1l4.4 4.4m-4.4 0l4.4 -4.4M189.6 82.1l4.4 4.4m-4.4 0l4.4 -4.4M190.8 82.1l4.4 4.4m-4.4 0l4.4 -4.4M192 82.1l4.4 4.4m-4.4 0l4.4 -4.4M193.2 82.1l4.4 4.4m-4.4 0l4.4 -4.4M194.4 82.1l4.4 4.4m-4.4 0l4.4 -4.4M195.6 82.1l4.4 4.4m-4.4 0l4.4 -4.4M196.8 82.1l4.4 4.4m-4.4 0l4.4 -4.4M198 82.1l4.4 4.4m-4.4 0l4.4 -4.4M199.2 82.1l4.4 4.4m-4.4 0l4.4 -4.4M200.4 82.1l4.4 4.4m-4.4 0l4.4 -4.4M201.6 82.1l4.4 4.4m-4.4 0l4.4 -4.4M202.8 82.1l4.4 4.4m-4.4 0l4.4 -4.4M204 82.1l4.4 4.4m-4.4 0l4.4 -4.4M205.2 82.1l4.4 4.4m-4.4 0l4.4 -4.4M206.4 82.1l4.4 4.4m-4.4 0l4.4 -4.4M207.6 82.1l4.4 4.4m-4.4 0l4.4 -4.4M208.8 82.1l4.4 4.4m-4.4 0l4.4 -4.4M210 82.1l4.4 4.4m-4.4 0l4.4 -4.4M211.2 82.1l4.4 4.4m-4.4 0l4.4 -4.4M212.4 82.1l4.4 4.4m-4.4 0l4.4 -4.4M213.6 82.1l4.4 4.4m-4.4 0l4.4 -4.4M214.8 82.1l4.4 4.4m-4.4 0l4.4 -4.4M216 82.1l4.4 4.4m-4.4 0l4.4 -4.4M217.2 82.1l4.4 4.4m-4.4 0l4.4 -4.4M218.4 82.1l4.4 4.4m-4.4 0l4.4 -4.4M219.6 82.1l4.4 4.4m-4.4 0l4.4 -4.4M220.8 82.1l4.4 4.4m-4.4 0l4.4 -4.4M222 82.1l4.4 4.4m-4.4 0l4.4 -4.4M223.2 82.1l4.4 4.4m-4.4 0l4.4 -4.4M224.4 82.1l4.4 4.4m-4.4 0l4.4 -4.4M225.6 82.1l4.4 4.4m-4.4 0l4.4 -4.4M226.8 82.1l4.4 4.4m-4.4 0l4.4 -4.4M228 82.1l4.4 4.4m-4.4 0l4.4 -4.4M229.2 82.1l4.4 4.4m-4.4 0l4.4 -4.4M230.4 82.1l4.4 4.4m-4.4 0l4.4 -4.4M231.6 82.1l4.4 4.4m-4.4 0l4.4 -4.4M232.8 82.1l4.4 4.4m-4.4 0l4.4 -4.4M234 82.1l4.4 4.4m-4.4 0l4.4 -4.4M235.2 82.1l4.4 4.4m-4.4 0l4.4 -4.4M236.4 82.1l4.4 4.4m-4.4 0l4.4 -4.4M237.6 82.1l4.4 4.4m-4.4 0l4.4 -4.4M238.8 82.1l4.4 4.4m-4.4 0l4.4 -4.4M240 82.1l4.4 4.4m-4.4 0l4.4 -4.4M241.2 82.1l4.4 4.4m-4.4 0l4.4 -4.4M242.4 82.1l4.4 4.4m-4.4 0l4.4 -4.4M243.6 82.1l4.4 4.4m-4.4 0l4.4 -4.4M244.8 82.1l4.4 4.4m-4.4 0l4.4 -4.4M246 82.1l4.4 4.4m-4.4 0l4.4 -4.4M247.2 82.2l4.4 4.4m-4.4 0l4.4 -4.4M248.4 82.2l4.4 4.4m-4.4 0l4.4 -4.4M249.6 82.2l4.4 4.4m-4.4 0l4.4 -4.4M250.8 82.2l4.4 4.4m-4.4 0l4.4 -4.4M252 82.2l4.4 4.4m-4.4 0l4.4 -4.4M253.2 82.2l4.4 4.4m-4.4 0l4.4 -4.4M254.4 82.2l4.4 4.4m-4.4 0l4.4 -4.4M255.6 82.2l4.4 4.4m-4.4 0l4.4 -4.4M256.8 82.2l4.4 4.4m-4.4 0l4.4 -4.4M258 82.2l4.4 4.4m-4.4 0l4.4 -4.4M259.2 82.2l4.4 4.4m-4.4 0l4.4 -4.4M260.4 82.2l4.4 4.4m-4.4 0l4.4 -4.4M261.6 82.2l4.4 4.4m-4.4 0l4.4 -4.4M262.8 82.2l4.4 4.4m-4.4 0l4.4 -4.4M264 82.2l4.4 4.4m-4.4 0l4.4 -4.4M265.2 82.2l4.4 4.4m-4.4 0l4.4 -4.4M266.4 82.2l4.4 4.4m-4.4 0l4.4 -4.4M267.6 82.2l4.4 4.4m-4.4 0l4.4 -4.4M268.8 82.2l4.4 4.4m-4.4 0l4.4 -4.4M270 82.2l4.4 4.4m-4.4 0l4.4 -4.4M271.2 82.2l4.4 4.4m-4.4 0l4.4 -4.4M272.4 82.2l4.4 4.4m-4.4 0l4.4 -4.4M273.6 82.2l4.4 4.4m-4.4 0l4.4 -4.4M274.8 82.2l4.4 4.4m-4.4 0l4.4 -4.4M276 82.2l4.4 4.4m-4.4 0l4.4 -4.4" fill="none" stroke="#51cc7e" stroke-width="1.05"/>
<path d="M276.8 92.6l4.4 4.4m-4.4 0l4.4 -4.4M278.5 92.4l4.4 4.4m-4.4 0l4.4 -4.4M280.2 92.1l4.4 4.4m-4.4 0l4.4 -4.4M281.8 91.9l4.4 4.4m-4.4 0l4.4 -4.4M283.5 91.6l4.4 4.4m-4.4 0l4.4 -4.4M285.2 91.4l4.4 4.4m-4.4 0l4.4 -4.4" fill="none" stroke="#74cc62" stroke-width="1.05"/>
<path d="M128.6 87.8l4.4 4.4m-4.4 0l4.4 -4.4M130.1 86.1l4.4 4.4m-4.4 0l4.4 -4.4M131.7 84.4l4.4 4.4m-4.4 0l4.4 -4.4M133.2 82.7l4.4 4.4m-4.4 0l4.4 -4.4M134.7 80.9l4.4 4.4m-4.4 0l4.4 -4.4M136.3 79.2l4.4 4.4m-4.4 0l4.4 -4.4" fill="none" stroke="#87cb54" stroke-width="1.05"/>
<path d="M278.8 91l4.4 4.4m-4.4 0l4.4 -4.4M280.9 92.1l4.4 4.4m-4.4 0l4.4 -4.4M283.1 93.2l4.4 4.4m-4.4 0l4.4 -4.4" fill="none" stroke="#87cb54" stroke-width="1.05"/>
<path d="M302.3 33.8l4.4 4.4m-4.4 0l4.4 -4.4M304.6 36l4.4 4.4m-4.4 0l4.4 -4.4M320.3 31.4l4.4 4.4m-4.4 0l4.4 -4.4M322.4 34l4.4 4.4m-4.4 0l4.4 -4.4M324.3 36.6l4.4 4.4m-4.4 0l4.4 -4.4M326.3 38.8l4.4 4.4m-4.4 0l4.4 -4.4M328.8 35.8l4.4 4.4m-4.4 0l4.4 -4.4M332.8 44.3l4.4 4.4m-4.4 0l4.4 -4.4M335.8 44.8l4.4 4.4m-4.4 0l4.4 -4.4M336.8 53.3l4.4 4.4m-4.4 0l4.4 -4.4" fill="none" stroke="#87cb54" stroke-width="0.85"/>
<path d="M336 55.8l4.4 4.4m-4.4 0l4.4 -4.4M337.8 54.6l4.4 4.4m-4.4 0l4.4 -4.4M339.7 53.4l4.4 4.4m-4.4 0l4.4 -4.4" fill="none" stroke="#87cb54" stroke-width="1.05"/>
<path d="M336 55.8l4.4 4.4m-4.4 0l4.4 -4.4M338.2 56l4.4 4.4m-4.4 0l4.4 -4.4M340.4 56.1l4.4 4.4m-4.4 0l4.4 -4.4" fill="none" stroke="#87cb54" stroke-width="1.05"/>
<path d="M338.5 43.4l4.4 4.4m-4.4 0l4.4 -4.4M337.8 45.6l4.4 4.4m-4.4 0l4.4 -4.4M339.7 46.9l4.4 4.4m-4.4 0l4.4 -4.4M340.8 47.6l4.4 4.4m-4.4 0l4.4 -4.4M340.1 49.3l4.4 4.4m-4.4 0l4.4 -4.4" fill="none" stroke="#87cb54" stroke-width="0.85"/>
<path d="M368.3 89.9l4.4 4.4m-4.4 0l4.4 -4.4M368.2 90.2l4.4 4.4m-4.4 0l4.4 -4.4M366.2 87.7l4.4 4.4m-4.4 0l4.4 -4.4M367.9 90.4l4.4 4.4m-4.4 0l4.4 -4.4M367.1 88.8l4.4 4.4m-4.4 0l4.4 -4.4M371 92.6l4.4 4.4m-4.4 0l4.4 -4.4M369.7 89.6l4.4 4.4m-4.4 0l4.4 -4.4M372.6 94.1l4.4 4.4m-4.4 0l4.4 -4.4M372.7 92.5l4.4 4.4m-4.4 0l4.4 -4.4" fill="none" stroke="#87cb54" stroke-width="0.85"/>
<path d="M127.3 84.8l4.4 4.4m-4.4 0l4.4 -4.4M129.3 82.6l4.4 4.4m-4.4 0l4.4 -4.4M131.4 80.4l4.4 4.4m-4.4 0l4.4 -4.4" fill="none" stroke="#99c946" stroke-width="0.85"/>
<path d="M322.5 30.1l4.4 4.4m-4.4 0l4.4 -4.4M326.8 32.5l4.4 4.4m-4.4 0l4.4 -4.4M320.9 27.7l4.4 4.4m-4.4 0l4.4 -4.4M323.8 30.3l4.4 4.4m-4.4 0l4.4 -4.4M328.9 36.2l4.4 4.4m-4.4 0l4.4 -4.4M321.8 30.7l4.4 4.4m-4.4 0l4.4 -4.4M326.2 33.5l4.4 4.4m-4.4 0l4.4 -4.4" fill="none" stroke="#99c946" stroke-width="0.85"/>
<path d="M333 46.6l4.4 4.4m-4.4 0l4.4 -4.4M335.2 46.6l4.4 4.4m-4.4 0l4.4 -4.4M337.4 46.6l4.4 4.4m-4.4 0l4.4 -4.4M339.6 46.6l4.4 4.4m-4.4 0l4.4 -4.4" fill="none" stroke="#99c946" stroke-width="1.05"/>
<path d="M336.4 56.3l4.4 4.4m-4.4 0l4.4 -4.4M338.3 57.4l4.4 4.4m-4.4 0l4.4 -4.4M340.2 58.5l4.4 4.4m-4.4 0l4.4 -4.4M342.1 59.6l4.4 4.4m-4.4 0l4.4 -4.4" fill="none" stroke="#99c946" stroke-width="1.05"/>
<path d="M349.9 69.8l4.4 4.4m-4.4 0l4.4 -4.4M348 65.4l4.4 4.4m-4.4 0l4.4 -4.4M348.8 68.8l4.4 4.4m-4.4 0l4.4 -4.4M347.4 67.1l4.4 4.4m-4.4 0l4.4 -4.4M350.2 69l4.4 4.4m-4.4 0l4.4 -4.4M352.3 72.6l4.4 4.4m-4.4 0l4.4 -4.4M348.7 70.2l4.4 4.4m-4.4 0l4.4 -4.4M352.7 71.7l4.4 4.4m-4.4 0l4.4 -4.4M349.1 70.4l4.4 4.4m-4.4 0l4.4 -4.4" fill="none" stroke="#99c946" stroke-width="0.85"/>
<path d="M365 86.4l4.4 4.4m-4.4 0l4.4 -4.4M364.5 85.7l4.4 4.4m-4.4 0l4.4 -4.4M365.7 87.3l4.4 4.4m-4.4 0l4.4 -4.4M365.3 89l4.4 4.4m-4.4 0l4.4 -4.4M364.6 87.1l4.4 4.4m-4.4 0l4.4 -4.4M361.3 84.4l4.4 4.4m-4.4 0l4.4 -4.4M366.4 90.9l4.4 4.4m-4.4 0l4.4 -4.4M364.7 87.9l4.4 4.4m-4.4 0l4.4 -4.4" fill="none" stroke="#99c946" stroke-width="0.85"/>
<path d="M131 89.2l4.4 4.4m-4.4 0l4.4 -4.4M132.7 87.7l4.4 4.4m-4.4 0l4.4 -4.4M134.4 86.1l4.4 4.4m-4.4 0l4.4 -4.4M136.1 84.6l4.4 4.4m-4.4 0l4.4 -4.4M137.9 83.1l4.4 4.4m-4.4 0l4.4 -4.4M139.6 81.5l4.4 4.4m-4.4 0l4.4 -4.4" fill="none" stroke="#abc739" stroke-width="1.05"/>
<path d="M152.4 109.8l4.4 4.4m-4.4 0l4.4 -4.4M152.1 111.2l4.4 4.4m-4.4 0l4.4 -4.4M151.9 112.5l4.4 4.4m-4.4 0l4.4 -4.4M151.6 113.9l4.4 4.4m-4.4 0l4.4 -4.4M151.3 115.3l4.4 4.4m-4.4 0l4.4 -4.4M151.1 116.7l4.4 4.4m-4.4 0l4.4 -4.4M150.8 118l4.4 4.4m-4.4 0l4.4 -4.4M150.5 119.4l4.4 4.4m-4.4 0l4.4 -4.4M150.2 120.8l4.4 4.4m-4.4 0l4.4 -4.4M150 122.2l4.4 4.4m-4.4 0l4.4 -4.4M149.7 123.5l4.4 4.4m-4.4 0l4.4 -4.4M149.4 124.9l4.4 4.4m-4.4 0l4.4 -4.4M149.2 126.3l4.4 4.4m-4.4 0l4.4 -4.4M148.9 127.7l4.4 4.4m-4.4 0l4.4 -4.4M148.7 129l4.4 4.4m-4.4 0l4.4 -4.4M148.7 130.4l4.4 4.4m-4.4 0l4.4 -4.4M148.6 131.8l4.4 4.4m-4.4 0l4.4 -4.4M148.5 133.2l4.4 4.4m-4.4 0l4.4 -4.4M148.4 134.6l4.4 4.4m-4.4 0l4.4 -4.4M148.3 136l4.4 4.4m-4.4 0l4.4 -4.4M148.2 137.4l4.4 4.4m-4.4 0l4.4 -4.4M148.1 138.8l4.4 4.4m-4.4 0l4.4 -4.4M148.1 140.2l4.4 4.4m-4.4 0l4.4 -4.4M148.1 141.6l4.4 4.4m-4.4 0l4.4 -4.4M148.1 143l4.4 4.4m-4.4 0l4.4 -4.4M148.1 144.4l4.4 4.4m-4.4 0l4.4 -4.4M148.1 145.8l4.4 4.4m-4.4 0l4.4 -4.4M148 147.2l4.4 4.4m-4.4 0l4.4 -4.4M148 148.6l4.4 4.4m-4.4 0l4.4 -4.4M148 150l4.4 4.4m-4.4 0l4.4 -4.4M148 151.4l4.4 4.4m-4.4 0l4.4 -4.4" fill="none" stroke="#abc739" stroke-width="1.05"/>
<path d="M295.8 103.8l4.4 4.4m-4.4 0l4.4 -4.4M295.9 105.2l4.4 4.4m-4.4 0l4.4 -4.4M296 106.6l4.4 4.4m-4.4 0l4.4 -4.4M296.1 108l4.4 4.4m-4.4 0l4.4 -4.4M296.1 109.4l4.4 4.4m-4.4 0l4.4 -4.4M296.2 110.8l4.4 4.4m-4.4 0l4.4 -4.4M296.3 112.2l4.4 4.4m-4.4 0l4.4 -4.4M296.4 113.6l4.4 4.4m-4.4 0l4.4 -4.4M296.5 115l4.4 4.4m-4.4 0l4.4 -4.4M296.6 116.4l4.4 4.4m-4.4 0l4.4 -4.4M296.7 117.8l4.4 4.4m-4.4 0l4.4 -4.4M296.8 119.2l4.4 4.4m-4.4 0l4.4 -4.4M296.8 120.6l4.4 4.4m-4.4 0l4.4 -4.4M296.9 122l4.4 4.4m-4.4 0l4.4 -4.4M297 123.4l4.4 4.4m-4.4 0l4.4 -4.4M297.1 124.8l4.4 4.4m-4.4 0l4.4 -4.4M297.2 126.2l4.4 4.4m-4.4 0l4.4 -4.4M297.3 127.6l4.4 4.4m-4.4 0l4.4 -4.4M297.4 129l4.4 4.4m-4.4 0l4.4 -4.4M297.4 130.3l4.4 4.4m-4.4 0l4.4 -4.4M297.5 131.7l4.4 4.4m-4.4 0l4.4 -4.4M297.6 133.1l4.4 4.4m-4.4 0l4.4 -4.4M297.7 134.5l4.4 4.4m-4.4 0l4.4 -4.4M297.7 135.9l4.4 4.4m-4.4 0l4.4 -4.4M297.8 137.3l4.4 4.4m-4.4 0l4.4 -4.4M297.9 138.7l4.4 4.4m-4.4 0l4.4 -4.4M297.9 140.1l4.4 4.4m-4.4 0l4.4 -4.4M298 141.5l4.4 4.4m-4.4 0l4.4 -4.4M298.1 142.9l4.4 4.4m-4.4 0l4.4 -4.4M298.1 144.3l4.4 4.4m-4.4 0l4.4 -4.4M298.2 145.7l4.4 4.4m-4.4 0l4.4 -4.4M298.3 147.1l4.4 4.4m-4.4 0l4.4 -4.4M298.3 148.5l4.4 4.4m-4.4 0l4.4 -4.4M298.4 149.9l4.4 4.4m-4.4 0l4.4 -4.4M298.4 151.3l4.4 4.4m-4.4 0l4.4 -4.4M298.5 152.7l4.4 4.4m-4.4 0l4.4 -4.4M298.6 154.1l4.4 4.4m-4.4 0l4.4 -4.4M298.6 155.5l4.4 4.4m-4.4 0l4.4 -4.4M298.7 156.9l4.4 4.4m-4.4 0l4.4 -4.4M298.8 158.3l4.4 4.4m-4.4 0l4.4 -4.4M298.8 159.7l4.4 4.4m-4.4 0l4.4 -4.4M298.9 161.1l4.4 4.4m-4.4 0l4.4 -4.4M299 162.5l4.4 4.4m-4.4 0l4.4 -4.4M299 163.9l4.4 4.4m-4.4 0l4.4 -4.4M299.1 165.3l4.4 4.4m-4.4 0l4.4 -4.4M299.2 166.7l4.4 4.4m-4.4 0l4.4 -4.4" fill="none" stroke="#abc739" stroke-width="1.05"/>
<path d="M295.4 42.8l4.4 4.4m-4.4 0l4.4 -4.4M297.2 45.7l4.4 4.4m-4.4 0l4.4 -4.4M299 48.6l4.4 4.4m-4.4 0l4.4 -4.4M300.7 51.5l4.4 4.4m-4.4 0l4.4 -4.4M302.5 54.4l4.4 4.4m-4.4 0l4.4 -4.4M304.3 57.3l4.4 4.4m-4.4 0l4.4 -4.4M306.1 60.2l4.4 4.4m-4.4 0l4.4 -4.4" fill="none" stroke="#abc739" stroke-width="0.85"/>
<path d="M298.4 43.8l4.4 4.4m-4.4 0l4.4 -4.4M300.7 47.3l4.4 4.4m-4.4 0l4.4 -4.4M302.9 50.9l4.4 4.4m-4.4 0l4.4 -4.4M305.2 54.4l4.4 4.4m-4.4 0l4.4 -4.4M307.5 57.9l4.4 4.4m-4.4 0l4.4 -4.4" fill="none" stroke="#abc739" stroke-width="0.85"/>
<path d="M355.5 74.1l4.4 4.4m-4.4 0l4.4 -4.4M360.6 76.5l4.4 4.4m-4.4 0l4.4 -4.4M357.8 76.3l4.4 4.4m-4.4 0l4.4 -4.4M355.2 75.1l4.4 4.4m-4.4 0l4.4 -4.4M352.6 69.8l4.4 4.4m-4.4 0l4.4 -4.4M356.9 78.6l4.4 4.4m-4.4 0l4.4 -4.4M359.7 81.1l4.4 4.4m-4.4 0l4.4 -4.4M352.6 74.2l4.4 4.4m-4.4 0l4.4 -4.4M350.8 71.2l4.4 4.4m-4.4 0l4.4 -4.4M355.3 74.4l4.4 4.4m-4.4 0l4.4 -4.4M358 80.1l4.4 4.4m-4.4 0l4.4 -4.4M358.5 78.3l4.4 4.4m-4.4 0l4.4 -4.4M356.5 75.8l4.4 4.4m-4.4 0l4.4 -4.4M356.8 77.5l4.4 4.4m-4.4 0l4.4 -4.4M355.6 76.2l4.4 4.4m-4.4 0l4.4 -4.4M352.9 75.1l4.4 4.4m-4.4 0l4.4 -4.4" fill="none" stroke="#abc739" stroke-width="0.85"/>
<path d="M133.6 90.8l4.4 4.4m-4.4 0l4.4 -4.4M135.1 89.1l4.4 4.4m-4.4 0l4.4 -4.4M136.7 87.4l4.4 4.4m-4.4 0l4.4 -4.4M138.2 85.7l4.4 4.4m-4.4 0l4.4 -4.4M139.7 83.9l4.4 4.4m-4.4 0l4.4 -4.4M141.3 82.2l4.4 4.4m-4.4 0l4.4 -4.4M142.8 80.5l4.4 4.4m-4.4 0l4.4 -4.4M144.3 78.8l4.4 4.4m-4.4 0l4.4 -4.4" fill="none" stroke="#bcc42f" stroke-width="1.05"/>
<path d="M149.3 140.8l4.4 4.4m-4.4 0l4.4 -4.4M150.1 142l4.4 4.4m-4.4 0l4.4 -4.4M150.9 143.1l4.4 4.4m-4.4 0l4.4 -4.4M151.7 144.3l4.4 4.4m-4.4 0l4.4 -4.4M152.5 145.4l4.4 4.4m-4.4 0l4.4 -4.4M153.3 146.6l4.4 4.4m-4.4 0l4.4 -4.4M154.1 147.7l4.4 4.4m-4.4 0l4.4 -4.4M154.9 148.9l4.4 4.4m-4.4 0l4.4 -4.4M155.7 150l4.4 4.4m-4.4 0l4.4 -4.4M156.5 151.2l4.4 4.4m-4.4 0l4.4 -4.4M157.3 152.3l4.4 4.4m-4.4 0l4.4 -4.4M158.1 153.5l4.4 4.4m-4.4 0l4.4 -4.4M158.3 154.8l4.4 4.4m-4.4 0l4.4 -4.4M158.3 156.2l4.4 4.4m-4.4 0l4.4 -4.4M158.3 157.6l4.4 4.4m-4.4 0l4.4 -4.4M158.3 159l4.4 4.4m-4.4 0l4.4 -4.4M158.2 160.4l4.4 4.4m-4.4 0l4.4 -4.4M158.2 161.8l4.4 4.4m-4.4 0l4.4 -4.4M158.2 163.2l4.4 4.4m-4.4 0l4.4 -4.4M158.2 164.6l4.4 4.4m-4.4 0l4.4 -4.4" fill="none" stroke="#bcc42f" stroke-width="1.05"/>
<path d="M174.3 159.4l4.4 4.4m-4.4 0l4.4 -4.4" fill="none" stroke="#bcc42f" stroke-width="0.85"/>
<path d="M198.5 159.8l4.4 4.4m-4.4 0l4.4 -4.4M201.8 159.8l4.4 4.4m-4.4 0l4.4 -4.4M204.8 159.8l4.4 4.4m-4.4 0l4.4 -4.4M262.3 160.8l4.4 4.4m-4.4 0l4.4 -4.4M280.3 159.8l4.4 4.4m-4.4 0l4.4 -4.4" fill="none" stroke="#bcc42f" stroke-width="0.85"/>
<path d="M148.8 145.8l4.4 4.4m-4.4 0l4.4 -4.4M149.7 147.1l4.4 4.4m-4.4 0l4.4 -4.4M150.6 148.5l4.4 4.4m-4.4 0l4.4 -4.4M151.5 149.8l4.4 4.4m-4.4 0l4.4 -4.4M152.4 151.1l4.4 4.4m-4.4 0l4.4 -4.4M153.2 152.5l4.4 4.4m-4.4 0l4.4 -4.4M154.1 153.8l4.4 4.4m-4.4 0l4.4 -4.4" fill="none" stroke="#ccc028" stroke-width="1.05"/>
<path d="M148.3 150.8l4.4 4.4m-4.4 0l4.4 -4.4M149.4 152l4.4 4.4m-4.4 0l4.4 -4.4M150.4 153.2l4.4 4.4m-4.4 0l4.4 -4.4M151.5 154.4l4.4 4.4m-4.4 0l4.4 -4.4" fill="none" stroke="#ccc028" stroke-width="1.05"/>
<path d="M164 73.4l4.4 4.4m-4.4 0l4.4 -4.4M163.7 74.5l4.4 4.4m-4.4 0l4.4 -4.4M163.4 75.5l4.4 4.4m-4.4 0l4.4 -4.4M163.1 76.6l4.4 4.4m-4.4 0l4.4 -4.4M162.8 77.6l4.4 4.4m-4.4 0l4.4 -4.4M162.5 78.7l4.4 4.4m-4.4 0l4.4 -4.4M162.2 79.7l4.4 4.4m-4.4 0l4.4 -4.4M161.8 80.8l4.4 4.4m-4.4 0l4.4 -4.4M161.5 81.8l4.4 4.4m-4.4 0l4.4 -4.4M161.2 82.9l4.4 4.4m-4.4 0l4.4 -4.4M160.9 84l4.4 4.4m-4.4 0l4.4 -4.4M160.6 85l4.4 4.4m-4.4 0l4.4 -4.4M160.3 86.1l4.4 4.4m-4.4 0l4.4 -4.4M160 87.1l4.4 4.4m-4.4 0l4.4 -4.4M159.7 88.2l4.4 4.4m-4.4 0l4.4 -4.4M159.4 89.2l4.4 4.4m-4.4 0l4.4 -4.4M159.1 90.3l4.4 4.4m-4.4 0l4.4 -4.4M158.8 91.3l4.4 4.4m-4.4 0l4.4 -4.4M158.4 92.4l4.4 4.4m-4.4 0l4.4 -4.4M158.1 93.5l4.4 4.4m-4.4 0l4.4 -4.4M157.8 94.5l4.4 4.4m-4.4 0l4.4 -4.4M157.5 95.6l4.4 4.4m-4.4 0l4.4 -4.4M157.2 96.6l4.4 4.4m-4.4 0l4.4 -4.4M156.9 97.7l4.4 4.4m-4.4 0l4.4 -4.4M156.6 98.7l4.4 4.4m-4.4 0l4.4 -4.4M156.3 99.8l4.4 4.4m-4.4 0l4.4 -4.4M156 100.8l4.4 4.4m-4.4 0l4.4 -4.4M155.7 101.9l4.4 4.4m-4.4 0l4.4 -4.4M155.3 103l4.4 4.4m-4.4 0l4.4 -4.4M155 104l4.4 4.4m-4.4 0l4.4 -4.4M154.7 105.1l4.4 4.4m-4.4 0l4.4 -4.4M154.4 106.1l4.4 4.4m-4.4 0l4.4 -4.4M154.1 107.2l4.4 4.4m-4.4 0l4.4 -4.4M153.8 108.2l4.4 4.4m-4.4 0l4.4 -4.4M153.6 109.3l4.4 4.4m-4.4 0l4.4 -4.4M153.4 110.4l4.4 4.4m-4.4 0l4.4 -4.4M153.2 111.5l4.4 4.4m-4.4 0l4.4 -4.4M153 112.6l4.4 4.4m-4.4 0l4.4 -4.4M152.8 113.6l4.4 4.4m-4.4 0l4.4 -4.4M152.6 114.7l4.4 4.4m-4.4 0l4.4 -4.4M152.4 115.8l4.4 4.4m-4.4 0l4.4 -4.4M152.2 116.9l4.4 4.4m-4.4 0l4.4 -4.4M152 118l4.4 4.4m-4.4 0l4.4 -4.4M151.8 119.1l4.4 4.4m-4.4 0l4.4 -4.4M151.7 120.1l4.4 4.4m-4.4 0l4.4 -4.4M151.5 121.2l4.4 4.4m-4.4 0l4.4 -4.4M151.3 122.3l4.4 4.4m-4.4 0l4.4 -4.4M151.1 123.4l4.4 4.4m-4.4 0l4.4 -4.4M150.9 124.5l4.4 4.4m-4.4 0l4.4 -4.4M150.7 125.6l4.4 4.4m-4.4 0l4.4 -4.4M150.5 126.6l4.4 4.4m-4.4 0l4.4 -4.4M150.3 127.7l4.4 4.4m-4.4 0l4.4 -4.4M150.2 128.8l4.4 4.4m-4.4 0l4.4 -4.4M150.1 129.9l4.4 4.4m-4.4 0l4.4 -4.4M150 131l4.4 4.4m-4.4 0l4.4 -4.4M149.9 132.1l4.4 4.4m-4.4 0l4.4 -4.4M149.8 133.2l4.4 4.4m-4.4 0l4.4 -4.4M149.7 134.3l4.4 4.4m-4.4 0l4.4 -4.4M149.7 135.4l4.4 4.4m-4.4 0l4.4 -4.4M149.6 136.5l4.4 4.4m-4.4 0l4.4 -4.4M149.5 137.6l4.4 4.4m-4.4 0l4.4 -4.4M149.4 138.7l4.4 4.4m-4.4 0l4.4 -4.4M149.4 139.8l4.4 4.4m-4.4 0l4.4 -4.4M149.4 140.9l4.4 4.4m-4.4 0l4.4 -4.4M149.3 142l4.4 4.4m-4.4 0l4.4 -4.4M149.3 143.1l4.4 4.4m-4.4 0l4.4 -4.4M149.3 144.2l4.4 4.4m-4.4 0l4.4 -4.4M149.3 145.3l4.4 4.4m-4.4 0l4.4 -4.4M149.3 146.4l4.4 4.4m-4.4 0l4.4 -4.4M149.2 147.5l4.4 4.4m-4.4 0l4.4 -4.4M149.2 148.6l4.4 4.4m-4.4 0l4.4 -4.4M149.2 149.7l4.4 4.4m-4.4 0l4.4 -4.4M149.2 150.8l4.4 4.4m-4.4 0l4.4 -4.4M149.1 151.9l4.4 4.4m-4.4 0l4.4 -4.4M149.1 153l4.4 4.4m-4.4 0l4.4 -4.4" fill="none" stroke="#dbbd28" stroke-width="1.05"/>
<path d="M154.8 109.8l4.4 4.4m-4.4 0l4.4 -4.4M154.6 111l4.4 4.4m-4.4 0l4.4 -4.4M154.4 112.2l4.4 4.4m-4.4 0l4.4 -4.4M154.2 113.3l4.4 4.4m-4.4 0l4.4 -4.4M154 114.5l4.4 4.4m-4.4 0l4.4 -4.4M153.7 115.7l4.4 4.4m-4.4 0l4.4 -4.4M153.5 116.9l4.4 4.4m-4.4 0l4.4 -4.4M153.3 118.1l4.4 4.4m-4.4 0l4.4 -4.4M153.1 119.2l4.4 4.4m-4.4 0l4.4 -4.4M152.9 120.4l4.4 4.4m-4.4 0l4.4 -4.4M152.7 121.6l4.4 4.4m-4.4 0l4.4 -4.4M152.5 122.8l4.4 4.4m-4.4 0l4.4 -4.4M152.3 124l4.4 4.4m-4.4 0l4.4 -4.4M152.1 125.2l4.4 4.4m-4.4 0l4.4 -4.4M151.8 126.3l4.4 4.4m-4.4 0l4.4 -4.4M151.6 127.5l4.4 4.4m-4.4 0l4.4 -4.4M151.4 128.7l4.4 4.4m-4.4 0l4.4 -4.4M151.3 129.9l4.4 4.4m-4.4 0l4.4 -4.4M151.2 131.1l4.4 4.4m-4.4 0l4.4 -4.4M151.1 132.3l4.4 4.4m-4.4 0l4.4 -4.4M151 133.5l4.4 4.4m-4.4 0l4.4 -4.4M150.9 134.7l4.4 4.4m-4.4 0l4.4 -4.4M150.8 135.9l4.4 4.4m-4.4 0l4.4 -4.4M150.7 137.1l4.4 4.4m-4.4 0l4.4 -4.4M150.6 138.3l4.4 4.4m-4.4 0l4.4 -4.4M151.2 139.3l4.4 4.4m-4.4 0l4.4 -4.4M151.9 140.3l4.4 4.4m-4.4 0l4.4 -4.4M152.6 141.3l4.4 4.4m-4.4 0l4.4 -4.4M153.2 142.3l4.4 4.4m-4.4 0l4.4 -4.4M153.9 143.3l4.4 4.4m-4.4 0l4.4 -4.4M154.6 144.3l4.4 4.4m-4.4 0l4.4 -4.4M155.2 145.3l4.4 4.4m-4.4 0l4.4 -4.4M155.9 146.3l4.4 4.4m-4.4 0l4.4 -4.4M156.5 147.3l4.4 4.4m-4.4 0l4.4 -4.4M157.2 148.3l4.4 4.4m-4.4 0l4.4 -4.4M157.9 149.3l4.4 4.4m-4.4 0l4.4 -4.4M158.5 150.3l4.4 4.4m-4.4 0l4.4 -4.4M159.2 151.3l4.4 4.4m-4.4 0l4.4 -4.4M159.8 152.3l4.4 4.4m-4.4 0l4.4 -4.4M159.8 153.5l4.4 4.4m-4.4 0l4.4 -4.4M159.7 154.7l4.4 4.4m-4.4 0l4.4 -4.4M159.7 155.9l4.4 4.4m-4.4 0l4.4 -4.4M159.7 157.1l4.4 4.4m-4.4 0l4.4 -4.4M159.6 158.3l4.4 4.4m-4.4 0l4.4 -4.4M159.6 159.5l4.4 4.4m-4.4 0l4.4 -4.4M159.5 160.7l4.4 4.4m-4.4 0l4.4 -4.4M159.5 161.9l4.4 4.4m-4.4 0l4.4 -4.4M159.5 163.1l4.4 4.4m-4.4 0l4.4 -4.4M159.4 164.3l4.4 4.4m-4.4 0l4.4 -4.4" fill="none" stroke="#e8bb2e" stroke-width="1.05"/>
<path d="M182.3 54.3l4.4 4.4m-4.4 0l4.4 -4.4M182.2 55.7l4.4 4.4m-4.4 0l4.4 -4.4M182.1 57.1l4.4 4.4m-4.4 0l4.4 -4.4M182 58.5l4.4 4.4m-4.4 0l4.4 -4.4M181.9 59.9l4.4 4.4m-4.4 0l4.4 -4.4M181.7 61.3l4.4 4.4m-4.4 0l4.4 -4.4M181.6 62.7l4.4 4.4m-4.4 0l4.4 -4.4M181.5 64.1l4.4 4.4m-4.4 0l4.4 -4.4M181.4 65.5l4.4 4.4m-4.4 0l4.4 -4.4" fill="none" stroke="#f3ba39" stroke-width="1.05"/>
<path d="M184.3 53.8l4.4 4.4m-4.4 0l4.4 -4.4M184.2 55.2l4.4 4.4m-4.4 0l4.4 -4.4M184.2 56.6l4.4 4.4m-4.4 0l4.4 -4.4M184.1 58l4.4 4.4m-4.4 0l4.4 -4.4M184 59.4l4.4 4.4m-4.4 0l4.4 -4.4M184 60.8l4.4 4.4m-4.4 0l4.4 -4.4M183.9 62.2l4.4 4.4m-4.4 0l4.4 -4.4M183.8 63.6l4.4 4.4m-4.4 0l4.4 -4.4M183.7 65l4.4 4.4m-4.4 0l4.4 -4.4M183.7 66.4l4.4 4.4m-4.4 0l4.4 -4.4M183.6 67.8l4.4 4.4m-4.4 0l4.4 -4.4" fill="none" stroke="#f3ba39" stroke-width="1.05"/>
<path d="M187.4 51.4l4.4 4.4m-4.4 0l4.4 -4.4M187.3 52.6l4.4 4.4m-4.4 0l4.4 -4.4M187.2 53.8l4.4 4.4m-4.4 0l4.4 -4.4M187.1 55l4.4 4.4m-4.4 0l4.4 -4.4M187 56.2l4.4 4.4m-4.4 0l4.4 -4.4M186.9 57.4l4.4 4.4m-4.4 0l4.4 -4.4M186.8 58.6l4.4 4.4m-4.4 0l4.4 -4.4M186.7 59.8l4.4 4.4m-4.4 0l4.4 -4.4M186.6 61l4.4 4.4m-4.4 0l4.4 -4.4M186.5 62.2l4.4 4.4m-4.4 0l4.4 -4.4M186.4 63.4l4.4 4.4m-4.4 0l4.4 -4.4M186.3 64.6l4.4 4.4m-4.4 0l4.4 -4.4M186.2 65.8l4.4 4.4m-4.4 0l4.4 -4.4M186 66.9l4.4 4.4m-4.4 0l4.4 -4.4M185.7 68.1l4.4 4.4m-4.4 0l4.4 -4.4M185.5 69.3l4.4 4.4m-4.4 0l4.4 -4.4M185.3 70.5l4.4 4.4m-4.4 0l4.4 -4.4M185 71.6l4.4 4.4m-4.4 0l4.4 -4.4M184.8 72.8l4.4 4.4m-4.4 0l4.4 -4.4M184.6 74l4.4 4.4m-4.4 0l4.4 -4.4M184.3 75.2l4.4 4.4m-4.4 0l4.4 -4.4M184.1 76.3l4.4 4.4m-4.4 0l4.4 -4.4M183.9 77.5l4.4 4.4m-4.4 0l4.4 -4.4M183.6 78.7l4.4 4.4m-4.4 0l4.4 -4.4M183.4 79.9l4.4 4.4m-4.4 0l4.4 -4.4M183.2 81l4.4 4.4m-4.4 0l4.4 -4.4M182.9 82.2l4.4 4.4m-4.4 0l4.4 -4.4M182.7 83.4l4.4 4.4m-4.4 0l4.4 -4.4M182.5 84.6l4.4 4.4m-4.4 0l4.4 -4.4M182.3 85.8l4.4 4.4m-4.4 0l4.4 -4.4M182.1 87l4.4 4.4m-4.4 0l4.4 -4.4M182 88.1l4.4 4.4m-4.4 0l4.4 -4.4M181.8 89.3l4.4 4.4m-4.4 0l4.4 -4.4M181.6 90.5l4.4 4.4m-4.4 0l4.4 -4.4M181.4 91.7l4.4 4.4m-4.4 0l4.4 -4.4M181.3 92.9l4.4 4.4m-4.4 0l4.4 -4.4M181.1 94.1l4.4 4.4m-4.4 0l4.4 -4.4M180.9 95.3l4.4 4.4m-4.4 0l4.4 -4.4M180.8 96.5l4.4 4.4m-4.4 0l4.4 -4.4M180.6 97.6l4.4 4.4m-4.4 0l4.4 -4.4M180.4 98.8l4.4 4.4m-4.4 0l4.4 -4.4M180.2 100l4.4 4.4m-4.4 0l4.4 -4.4M180.1 101.2l4.4 4.4m-4.4 0l4.4 -4.4M179.9 102.4l4.4 4.4m-4.4 0l4.4 -4.4M179.7 103.6l4.4 4.4m-4.4 0l4.4 -4.4M179.5 104.8l4.4 4.4m-4.4 0l4.4 -4.4M179.4 106l4.4 4.4m-4.4 0l4.4 -4.4M179.2 107.1l4.4 4.4m-4.4 0l4.4 -4.4M179 108.3l4.4 4.4m-4.4 0l4.4 -4.4M178.9 109.5l4.4 4.4m-4.4 0l4.4 -4.4M178.7 110.7l4.4 4.4m-4.4 0l4.4 -4.4M178.6 111.9l4.4 4.4m-4.4 0l4.4 -4.4M178.5 113.1l4.4 4.4m-4.4 0l4.4 -4.4M178.3 114.3l4.4 4.4m-4.4 0l4.4 -4.4M178.2 115.5l4.4 4.4m-4.4 0l4.4 -4.4M178 116.7l4.4 4.4m-4.4 0l4.4 -4.4M177.9 117.9l4.4 4.4m-4.4 0l4.4 -4.4M177.7 119.1l4.4 4.4m-4.4 0l4.4 -4.4M177.6 120.2l4.4 4.4m-4.4 0l4.4 -4.4M177.5 121.4l4.4 4.4m-4.4 0l4.4 -4.4M177.3 122.6l4.4 4.4m-4.4 0l4.4 -4.4M177.2 123.8l4.4 4.4m-4.4 0l4.4 -4.4M177 125l4.4 4.4m-4.4 0l4.4 -4.4M176.9 126.2l4.4 4.4m-4.4 0l4.4 -4.4M176.7 127.4l4.4 4.4m-4.4 0l4.4 -4.4M176.6 128.6l4.4 4.4m-4.4 0l4.4 -4.4M176.4 129.8l4.4 4.4m-4.4 0l4.4 -4.4M176.3 131l4.4 4.4m-4.4 0l4.4 -4.4M176.1 132.1l4.4 4.4m-4.4 0l4.4 -4.4M175.7 133.3l4.4 4.4m-4.4 0l4.4 -4.4M175.3 134.4l4.4 4.4m-4.4 0l4.4 -4.4M174.9 135.6l4.4 4.4m-4.4 0l4.4 -4.4M174.6 136.7l4.4 4.4m-4.4 0l4.4 -4.4M174.2 137.8l4.4 4.4m-4.4 0l4.4 -4.4M173.8 139l4.4 4.4m-4.4 0l4.4 -4.4M173.4 140.1l4.4 4.4m-4.4 0l4.4 -4.4M172.9 141.2l4.4 4.4m-4.4 0l4.4 -4.4M172.4 142.3l4.4 4.4m-4.4 0l4.4 -4.4M172 143.4l4.4 4.4m-4.4 0l4.4 -4.4M171.5 144.5l4.4 4.4m-4.4 0l4.4 -4.4M171.1 145.6l4.4 4.4m-4.4 0l4.4 -4.4M170.6 146.8l4.4 4.4m-4.4 0l4.4 -4.4M170.2 147.9l4.4 4.4m-4.4 0l4.4 -4.4M169.7 149l4.4 4.4m-4.4 0l4.4 -4.4M169.3 150.1l4.4 4.4m-4.4 0l4.4 -4.4M168.8 151.2l4.4 4.4m-4.4 0l4.4 -4.4M168.4 152.3l4.4 4.4m-4.4 0l4.4 -4.4M168 153.5l4.4 4.4m-4.4 0l4.4 -4.4M167.7 154.6l4.4 4.4m-4.4 0l4.4 -4.4M167.4 155.8l4.4 4.4m-4.4 0l4.4 -4.4M167.1 156.9l4.4 4.4m-4.4 0l4.4 -4.4M166.7 158.1l4.4 4.4m-4.4 0l4.4 -4.4M166.4 159.2l4.4 4.4m-4.4 0l4.4 -4.4M166.1 160.4l4.4 4.4m-4.4 0l4.4 -4.4" fill="none" stroke="#f3ba39" stroke-width="1.05"/>
<path d="M178.5 57.3l4.4 4.4m-4.4 0l4.4 -4.4M179.7 57.3l4.4 4.4m-4.4 0l4.4 -4.4M180.9 57.3l4.4 4.4m-4.4 0l4.4 -4.4M182.1 57.3l4.4 4.4m-4.4 0l4.4 -4.4M183.3 57.3l4.4 4.4m-4.4 0l4.4 -4.4M184.5 57.3l4.4 4.4m-4.4 0l4.4 -4.4M185.7 57.3l4.4 4.4m-4.4 0l4.4 -4.4M186.9 57.3l4.4 4.4m-4.4 0l4.4 -4.4M188.1 57.3l4.4 4.4m-4.4 0l4.4 -4.4M189.3 57.3l4.4 4.4m-4.4 0l4.4 -4.4M190.5 57.3l4.4 4.4m-4.4 0l4.4 -4.4M191.7 57.3l4.4 4.4m-4.4 0l4.4 -4.4M192.9 57.3l4.4 4.4m-4.4 0l4.4 -4.4M194.1 57.3l4.4 4.4m-4.4 0l4.4 -4.4M195.3 57.3l4.4 4.4m-4.4 0l4.4 -4.4M196.5 57.3l4.4 4.4m-4.4 0l4.4 -4.4M197.7 57.3l4.4 4.4m-4.4 0l4.4 -4.4M198.9 57.3l4.4 4.4m-4.4 0l4.4 -4.4" fill="none" stroke="#f3ba39" stroke-width="1.05"/>
<path d="M137.6 92.6l4.4 4.4m-4.4 0l4.4 -4.4M138.7 93l4.4 4.4m-4.4 0l4.4 -4.4M139.9 93.4l4.4 4.4m-4.4 0l4.4 -4.4M141 93.8l4.4 4.4m-4.4 0l4.4 -4.4M142.1 94.2l4.4 4.4m-4.4 0l4.4 -4.4M143.3 94.6l4.4 4.4m-4.4 0l4.4 -4.4M144.4 95l4.4 4.4m-4.4 0l4.4 -4.4M145.5 95.4l4.4 4.4m-4.4 0l4.4 -4.4M146.7 95.8l4.4 4.4m-4.4 0l4.4 -4.4M147.8 96.2l4.4 4.4m-4.4 0l4.4 -4.4" fill="none" stroke="#fcbd3d" stroke-width="1.05"/>
<path d="M188.6 51.8l4.4 4.4m-4.4 0l4.4 -4.4M188.5 53.3l4.4 4.4m-4.4 0l4.4 -4.4M188.3 54.8l4.4 4.4m-4.4 0l4.4 -4.4M188.2 56.3l4.4 4.4m-4.4 0l4.4 -4.4M188.1 57.8l4.4 4.4m-4.4 0l4.4 -4.4M188 59.3l4.4 4.4m-4.4 0l4.4 -4.4M187.8 60.8l4.4 4.4m-4.4 0l4.4 -4.4M187.7 62.3l4.4 4.4m-4.4 0l4.4 -4.4M187.6 63.8l4.4 4.4m-4.4 0l4.4 -4.4M187.4 65.3l4.4 4.4m-4.4 0l4.4 -4.4M187.2 66.7l4.4 4.4m-4.4 0l4.4 -4.4M186.9 68.2l4.4 4.4m-4.4 0l4.4 -4.4M186.6 69.7l4.4 4.4m-4.4 0l4.4 -4.4M186.3 71.1l4.4 4.4m-4.4 0l4.4 -4.4M186 72.6l4.4 4.4m-4.4 0l4.4 -4.4M185.7 74.1l4.4 4.4m-4.4 0l4.4 -4.4M185.4 75.6l4.4 4.4m-4.4 0l4.4 -4.4M185.2 77l4.4 4.4m-4.4 0l4.4 -4.4M184.9 78.5l4.4 4.4m-4.4 0l4.4 -4.4M184.6 80l4.4 4.4m-4.4 0l4.4 -4.4M184.3 81.4l4.4 4.4m-4.4 0l4.4 -4.4M184 82.9l4.4 4.4m-4.4 0l4.4 -4.4M183.7 84.4l4.4 4.4m-4.4 0l4.4 -4.4M183.5 85.9l4.4 4.4m-4.4 0l4.4 -4.4M183.3 87.4l4.4 4.4m-4.4 0l4.4 -4.4M183.1 88.8l4.4 4.4m-4.4 0l4.4 -4.4M182.8 90.3l4.4 4.4m-4.4 0l4.4 -4.4M182.6 91.8l4.4 4.4m-4.4 0l4.4 -4.4M182.4 93.3l4.4 4.4m-4.4 0l4.4 -4.4M182.2 94.8l4.4 4.4m-4.4 0l4.4 -4.4M182 96.3l4.4 4.4m-4.4 0l4.4 -4.4M181.8 97.7l4.4 4.4m-4.4 0l4.4 -4.4M181.5 99.2l4.4 4.4m-4.4 0l4.4 -4.4M181.3 100.7l4.4 4.4m-4.4 0l4.4 -4.4M181.1 102.2l4.4 4.4m-4.4 0l4.4 -4.4M180.9 103.7l4.4 4.4m-4.4 0l4.4 -4.4M180.7 105.2l4.4 4.4m-4.4 0l4.4 -4.4M180.5 106.7l4.4 4.4m-4.4 0l4.4 -4.4M180.3 108.1l4.4 4.4m-4.4 0l4.4 -4.4M180.1 109.6l4.4 4.4m-4.4 0l4.4 -4.4M179.9 111.1l4.4 4.4m-4.4 0l4.4 -4.4M179.7 112.6l4.4 4.4m-4.4 0l4.4 -4.4M179.5 114.1l4.4 4.4m-4.4 0l4.4 -4.4M179.4 115.6l4.4 4.4m-4.4 0l4.4 -4.4M179.2 117.1l4.4 4.4m-4.4 0l4.4 -4.4M179 118.6l4.4 4.4m-4.4 0l4.4 -4.4M178.8 120l4.4 4.4m-4.4 0l4.4 -4.4M178.6 121.5l4.4 4.4m-4.4 0l4.4 -4.4M178.5 123l4.4 4.4m-4.4 0l4.4 -4.4M178.3 124.5l4.4 4.4m-4.4 0l4.4 -4.4M178.1 126l4.4 4.4m-4.4 0l4.4 -4.4M177.9 127.5l4.4 4.4m-4.4 0l4.4 -4.4M177.7 129l4.4 4.4m-4.4 0l4.4 -4.4M177.6 130.5l4.4 4.4m-4.4 0l4.4 -4.4M177.4 132l4.4 4.4m-4.4 0l4.4 -4.4M176.9 133.4l4.4 4.4m-4.4 0l4.4 -4.4M176.4 134.8l4.4 4.4m-4.4 0l4.4 -4.4M176 136.2l4.4 4.4m-4.4 0l4.4 -4.4M175.5 137.7l4.4 4.4m-4.4 0l4.4 -4.4M175.1 139.1l4.4 4.4m-4.4 0l4.4 -4.4M174.5 140.5l4.4 4.4m-4.4 0l4.4 -4.4M174 141.9l4.4 4.4m-4.4 0l4.4 -4.4M173.4 143.3l4.4 4.4m-4.4 0l4.4 -4.4M172.8 144.7l4.4 4.4m-4.4 0l4.4 -4.4M172.3 146.1l4.4 4.4m-4.4 0l4.4 -4.4M171.7 147.4l4.4 4.4m-4.4 0l4.4 -4.4M171.1 148.8l4.4 4.4m-4.4 0l4.4 -4.4M170.6 150.2l4.4 4.4m-4.4 0l4.4 -4.4M170 151.6l4.4 4.4m-4.4 0l4.4 -4.4M169.5 153l4.4 4.4m-4.4 0l4.4 -4.4M169 154.5l4.4 4.4m-4.4 0l4.4 -4.4M168.6 155.9l4.4 4.4m-4.4 0l4.4 -4.4M168.2 157.3l4.4 4.4m-4.4 0l4.4 -4.4M167.8 158.8l4.4 4.4m-4.4 0l4.4 -4.4M167.3 160.2l4.4 4.4m-4.4 0l4.4 -4.4" fill="none" stroke="#fcbd3d" stroke-width="1.05"/>
<path d="M150.4 134.8l4.4 4.4m-4.4 0l4.4 -4.4M151.6 134.8l4.4 4.4m-4.4 0l4.4 -4.4M152.8 134.8l4.4 4.4m-4.4 0l4.4 -4.4M154 134.8l4.4 4.4m-4.4 0l4.4 -4.4M155.2 134.8l4.4 4.4m-4.4 0l4.4 -4.4M156.4 134.8l4.4 4.4m-4.4 0l4.4 -4.4M157.6 134.8l4.4 4.4m-4.4 0l4.4 -4.4M158.8 134.8l4.4 4.4m-4.4 0l4.4 -4.4M160 134.8l4.4 4.4m-4.4 0l4.4 -4.4M161.2 134.8l4.4 4.4m-4.4 0l4.4 -4.4M162.4 134.8l4.4 4.4m-4.4 0l4.4 -4.4M163.6 134.8l4.4 4.4m-4.4 0l4.4 -4.4M164.8 134.8l4.4 4.4m-4.4 0l4.4 -4.4M166 134.8l4.4 4.4m-4.4 0l4.4 -4.4M167.2 134.8l4.4 4.4m-4.4 0l4.4 -4.4M168.4 134.8l4.4 4.4m-4.4 0l4.4 -4.4M169.6 134.8l4.4 4.4m-4.4 0l4.4 -4.4M170.8 134.8l4.4 4.4m-4.4 0l4.4 -4.4M172 134.8l4.4 4.4m-4.4 0l4.4 -4.4M173.2 134.8l4.4 4.4m-4.4 0l4.4 -4.4M174.4 134.8l4.4 4.4m-4.4 0l4.4 -4.4M175.6 134.8l4.4 4.4m-4.4 0l4.4 -4.4M176.8 134.8l4.4 4.4m-4.4 0l4.4 -4.4M178 134.8l4.4 4.4m-4.4 0l4.4 -4.4M179.2 134.8l4.4 4.4m-4.4 0l4.4 -4.4M180.4 134.8l4.4 4.4m-4.4 0l4.4 -4.4M181.6 134.8l4.4 4.4m-4.4 0l4.4 -4.4M182.8 134.8l4.4 4.4m-4.4 0l4.4 -4.4M184 134.8l4.4 4.4m-4.4 0l4.4 -4.4M185.2 134.9l4.4 4.4m-4.4 0l4.4 -4.4M186.4 134.9l4.4 4.4m-4.4 0l4.4 -4.4M187.6 134.9l4.4 4.4m-4.4 0l4.4 -4.4M188.8 134.9l4.4 4.4m-4.4 0l4.4 -4.4M190 134.9l4.4 4.4m-4.4 0l4.4 -4.4M191.2 134.9l4.4 4.4m-4.4 0l4.4 -4.4M192.4 134.9l4.4 4.4m-4.4 0l4.4 -4.4M193.6 134.9l4.4 4.4m-4.4 0l4.4 -4.4M194.8 134.9l4.4 4.4m-4.4 0l4.4 -4.4M196 134.9l4.4 4.4m-4.4 0l4.4 -4.4M197.2 134.9l4.4 4.4m-4.4 0l4.4 -4.4M198.4 134.9l4.4 4.4m-4.4 0l4.4 -4.4M199.6 135l4.4 4.4m-4.4 0l4.4 -4.4M200.8 135l4.4 4.4m-4.4 0l4.4 -4.4M202 135l4.4 4.4m-4.4 0l4.4 -4.4M203.2 135l4.4 4.4m-4.4 0l4.4 -4.4M204.4 135l4.4 4.4m-4.4 0l4.4 -4.4M205.6 135l4.4 4.4m-4.4 0l4.4 -4.4" fill="none" stroke="#fcbd3d" stroke-width="1.05"/>
<path d="M161.2 160.6l4.4 4.4m-4.4 0l4.4 -4.4M162.5 160.6l4.4 4.4m-4.4 0l4.4 -4.4M163.8 160.6l4.4 4.4m-4.4 0l4.4 -4.4M165.1 160.6l4.4 4.4m-4.4 0l4.4 -4.4M166.4 160.6l4.4 4.4m-4.4 0l4.4 -4.4M167.7 160.6l4.4 4.4m-4.4 0l4.4 -4.4M169 160.6l4.4 4.4m-4.4 0l4.4 -4.4" fill="none" stroke="#fcbd3d" stroke-width="1.05"/>
<path d="M228.8 58l4.4 4.4m-4.4 0l4.4 -4.4" fill="none" stroke="#fcbd3d" stroke-width="0.85"/>
<path d="M209.3 146.3l4.4 4.4m-4.4 0l4.4 -4.4M210.6 146.2l4.4 4.4m-4.4 0l4.4 -4.4M211.9 146.1l4.4 4.4m-4.4 0l4.4 -4.4M213.2 146.1l4.4 4.4m-4.4 0l4.4 -4.4M214.5 146l4.4 4.4m-4.4 0l4.4 -4.4M215.8 145.9l4.4 4.4m-4.4 0l4.4 -4.4M217.1 145.8l4.4 4.4m-4.4 0l4.4 -4.4M218.4 145.8l4.4 4.4m-4.4 0l4.4 -4.4M219.7 145.7l4.4 4.4m-4.4 0l4.4 -4.4M221 145.6l4.4 4.4m-4.4 0l4.4 -4.4M222.3 145.5l4.4 4.4m-4.4 0l4.4 -4.4M223.6 145.5l4.4 4.4m-4.4 0l4.4 -4.4M224.8 145.2l4.4 4.4m-4.4 0l4.4 -4.4M225.8 144.3l4.4 4.4m-4.4 0l4.4 -4.4M226.7 143.5l4.4 4.4m-4.4 0l4.4 -4.4M227.7 142.6l4.4 4.4m-4.4 0l4.4 -4.4M228.7 141.7l4.4 4.4m-4.4 0l4.4 -4.4M229.6 140.9l4.4 4.4m-4.4 0l4.4 -4.4M230.6 140l4.4 4.4m-4.4 0l4.4 -4.4M231.6 139.1l4.4 4.4m-4.4 0l4.4 -4.4M232.5 138.3l4.4 4.4m-4.4 0l4.4 -4.4M233.5 137.4l4.4 4.4m-4.4 0l4.4 -4.4" fill="none" stroke="#fcbd3d" stroke-width="1.05"/>
<path d="M253.1 12.8l4.4 4.4m-4.4 0l4.4 -4.4" fill="none" stroke="#fec338" stroke-width="0.85"/>
<path d="M380.2 99.5l4.4 4.4m-4.4 0l4.4 -4.4M380.3 100.7l4.4 4.4m-4.4 0l4.4 -4.4M380.5 101.9l4.4 4.4m-4.4 0l4.4 -4.4M380.6 103.1l4.4 4.4m-4.4 0l4.4 -4.4M380.7 104.3l4.4 4.4m-4.4 0l4.4 -4.4M380.9 105.5l4.4 4.4m-4.4 0l4.4 -4.4M381 106.7l4.4 4.4m-4.4 0l4.4 -4.4M381.1 107.8l4.4 4.4m-4.4 0l4.4 -4.4M381.3 109l4.4 4.4m-4.4 0l4.4 -4.4M381.4 110.2l4.4 4.4m-4.4 0l4.4 -4.4M381.5 111.4l4.4 4.4m-4.4 0l4.4 -4.4M381.7 112.6l4.4 4.4m-4.4 0l4.4 -4.4M381.8 113.8l4.4 4.4m-4.4 0l4.4 -4.4M382 115l4.4 4.4m-4.4 0l4.4 -4.4M382.1 116.2l4.4 4.4m-4.4 0l4.4 -4.4M382.2 117.4l4.4 4.4m-4.4 0l4.4 -4.4M382.4 118.6l4.4 4.4m-4.4 0l4.4 -4.4M382.5 119.8l4.4 4.4m-4.4 0l4.4 -4.4M382.6 121l4.4 4.4m-4.4 0l4.4 -4.4M382.8 122.2l4.4 4.4m-4.4 0l4.4 -4.4M382.9 123.3l4.4 4.4m-4.4 0l4.4 -4.4M383 124.5l4.4 4.4m-4.4 0l4.4 -4.4M383.2 125.7l4.4 4.4m-4.4 0l4.4 -4.4M383.3 126.9l4.4 4.4m-4.4 0l4.4 -4.4M383.4 128.1l4.4 4.4m-4.4 0l4.4 -4.4M383.5 129.3l4.4 4.4m-4.4 0l4.4 -4.4M383.5 130.5l4.4 4.4m-4.4 0l4.4 -4.4M383.6 131.7l4.4 4.4m-4.4 0l4.4 -4.4M383.7 132.9l4.4 4.4m-4.4 0l4.4 -4.4M383.7 134.1l4.4 4.4m-4.4 0l4.4 -4.4M383.8 135.3l4.4 4.4m-4.4 0l4.4 -4.4M383.9 136.5l4.4 4.4m-4.4 0l4.4 -4.4M383.9 137.7l4.4 4.4m-4.4 0l4.4 -4.4M384 138.9l4.4 4.4m-4.4 0l4.4 -4.4M384 140.1l4.4 4.4m-4.4 0l4.4 -4.4M384.1 141.3l4.4 4.4m-4.4 0l4.4 -4.4M384.2 142.5l4.4 4.4m-4.4 0l4.4 -4.4M384.2 143.7l4.4 4.4m-4.4 0l4.4 -4.4M384.3 144.9l4.4 4.4m-4.4 0l4.4 -4.4M384.4 146.1l4.4 4.4m-4.4 0l4.4 -4.4M384.4 147.3l4.4 4.4m-4.4 0l4.4 -4.4M384.5 148.5l4.4 4.4m-4.4 0l4.4 -4.4M384.5 149.7l4.4 4.4m-4.4 0l4.4 -4.4M384.6 150.9l4.4 4.4m-4.4 0l4.4 -4.4M384.7 152.1l4.4 4.4m-4.4 0l4.4 -4.4M384.7 153.3l4.4 4.4m-4.4 0l4.4 -4.4M384.8 154.5l4.4 4.4m-4.4 0l4.4 -4.4M384.9 155.7l4.4 4.4m-4.4 0l4.4 -4.4M384.9 156.9l4.4 4.4m-4.4 0l4.4 -4.4M385 158.1l4.4 4.4m-4.4 0l4.4 -4.4M385.1 159.3l4.4 4.4m-4.4 0l4.4 -4.4M385.1 160.5l4.4 4.4m-4.4 0l4.4 -4.4M385.2 161.7l4.4 4.4m-4.4 0l4.4 -4.4M385.2 162.9l4.4 4.4m-4.4 0l4.4 -4.4M385.3 164.1l4.4 4.4m-4.4 0l4.4 -4.4M385.4 165.3l4.4 4.4m-4.4 0l4.4 -4.4M385.4 166.5l4.4 4.4m-4.4 0l4.4 -4.4M385.5 167.7l4.4 4.4m-4.4 0l4.4 -4.4" fill="none" stroke="#fccf30" stroke-width="1.05"/>
<path d="M191.8 52.8l4.4 4.4m-4.4 0l4.4 -4.4M193.7 51.5l4.4 4.4m-4.4 0l4.4 -4.4M195.6 50.2l4.4 4.4m-4.4 0l4.4 -4.4M197.5 48.9l4.4 4.4m-4.4 0l4.4 -4.4M199.4 47.6l4.4 4.4m-4.4 0l4.4 -4.4M201.3 46.3l4.4 4.4m-4.4 0l4.4 -4.4M203.2 45.1l4.4 4.4m-4.4 0l4.4 -4.4M205.2 44l4.4 4.4m-4.4 0l4.4 -4.4M207.3 42.9l4.4 4.4m-4.4 0l4.4 -4.4M209.3 41.8l4.4 4.4m-4.4 0l4.4 -4.4M211.3 40.7l4.4 4.4m-4.4 0l4.4 -4.4M213.3 39.6l4.4 4.4m-4.4 0l4.4 -4.4M215.4 38.7l4.4 4.4m-4.4 0l4.4 -4.4M217.6 37.9l4.4 4.4m-4.4 0l4.4 -4.4M219.8 37.1l4.4 4.4m-4.4 0l4.4 -4.4M221.9 36.3l4.4 4.4m-4.4 0l4.4 -4.4M224.1 35.5l4.4 4.4m-4.4 0l4.4 -4.4" fill="none" stroke="#fbd32e" stroke-width="1.05"/>
<path d="M193.8 57.4l4.4 4.4m-4.4 0l4.4 -4.4M195 57.4l4.4 4.4m-4.4 0l4.4 -4.4M196.2 57.4l4.4 4.4m-4.4 0l4.4 -4.4M197.4 57.4l4.4 4.4m-4.4 0l4.4 -4.4M198.6 57.4l4.4 4.4m-4.4 0l4.4 -4.4M199.8 57.4l4.4 4.4m-4.4 0l4.4 -4.4M201 57.4l4.4 4.4m-4.4 0l4.4 -4.4M202.2 57.4l4.4 4.4m-4.4 0l4.4 -4.4M203.4 57.4l4.4 4.4m-4.4 0l4.4 -4.4M204.6 57.4l4.4 4.4m-4.4 0l4.4 -4.4M205.8 57.4l4.4 4.4m-4.4 0l4.4 -4.4M207 57.4l4.4 4.4m-4.4 0l4.4 -4.4M208.2 57.4l4.4 4.4m-4.4 0l4.4 -4.4M209.4 57.4l4.4 4.4m-4.4 0l4.4 -4.4M210.6 57.4l4.4 4.4m-4.4 0l4.4 -4.4M211.8 57.4l4.4 4.4m-4.4 0l4.4 -4.4M213 57.4l4.4 4.4m-4.4 0l4.4 -4.4M214.2 57.4l4.4 4.4m-4.4 0l4.4 -4.4M215.4 57.4l4.4 4.4m-4.4 0l4.4 -4.4M216.6 57.4l4.4 4.4m-4.4 0l4.4 -4.4M217.8 57.4l4.4 4.4m-4.4 0l4.4 -4.4M219 57.4l4.4 4.4m-4.4 0l4.4 -4.4M220.2 57.4l4.4 4.4m-4.4 0l4.4 -4.4M221.4 57.4l4.4 4.4m-4.4 0l4.4 -4.4M222.6 57.4l4.4 4.4m-4.4 0l4.4 -4.4M223.8 57.4l4.4 4.4m-4.4 0l4.4 -4.4M225 57.4l4.4 4.4m-4.4 0l4.4 -4.4M226.2 57.4l4.4 4.4m-4.4 0l4.4 -4.4M227.4 57.4l4.4 4.4m-4.4 0l4.4 -4.4M228.6 57.4l4.4 4.4m-4.4 0l4.4 -4.4" fill="none" stroke="#fbd32e" stroke-width="1.05"/>
<path d="M193.3 54.8l4.4 4.4m-4.4 0l4.4 -4.4M195.2 53.5l4.4 4.4m-4.4 0l4.4 -4.4M197.1 52.2l4.4 4.4m-4.4 0l4.4 -4.4M199 50.9l4.4 4.4m-4.4 0l4.4 -4.4M200.9 49.6l4.4 4.4m-4.4 0l4.4 -4.4M202.8 48.3l4.4 4.4m-4.4 0l4.4 -4.4M204.7 47.1l4.4 4.4m-4.4 0l4.4 -4.4M206.7 45.9l4.4 4.4m-4.4 0l4.4 -4.4M208.7 44.8l4.4 4.4m-4.4 0l4.4 -4.4M210.7 43.6l4.4 4.4m-4.4 0l4.4 -4.4M212.7 42.5l4.4 4.4m-4.4 0l4.4 -4.4M214.7 41.4l4.4 4.4m-4.4 0l4.4 -4.4M216.8 40.5l4.4 4.4m-4.4 0l4.4 -4.4M219 39.7l4.4 4.4m-4.4 0l4.4 -4.4M221.1 38.8l4.4 4.4m-4.4 0l4.4 -4.4M223.3 38l4.4 4.4m-4.4 0l4.4 -4.4" fill="none" stroke="#f7db2a" stroke-width="1.05"/>
<path d="M220.8 41.1l4.4 4.4m-4.4 0l4.4 -4.4M220.5 42.5l4.4 4.4m-4.4 0l4.4 -4.4M220.2 43.8l4.4 4.4m-4.4 0l4.4 -4.4M219.9 45.2l4.4 4.4m-4.4 0l4.4 -4.4M219.6 46.6l4.4 4.4m-4.4 0l4.4 -4.4M219.4 47.9l4.4 4.4m-4.4 0l4.4 -4.4M219.1 49.3l4.4 4.4m-4.4 0l4.4 -4.4M218.8 50.7l4.4 4.4m-4.4 0l4.4 -4.4M218.5 52.1l4.4 4.4m-4.4 0l4.4 -4.4M218.2 53.4l4.4 4.4m-4.4 0l4.4 -4.4M217.9 54.8l4.4 4.4m-4.4 0l4.4 -4.4M217.6 56.2l4.4 4.4m-4.4 0l4.4 -4.4M217.3 57.5l4.4 4.4m-4.4 0l4.4 -4.4M217.1 58.9l4.4 4.4m-4.4 0l4.4 -4.4M216.8 60.3l4.4 4.4m-4.4 0l4.4 -4.4M216.5 61.7l4.4 4.4m-4.4 0l4.4 -4.4M216.2 63l4.4 4.4m-4.4 0l4.4 -4.4M215.9 64.4l4.4 4.4m-4.4 0l4.4 -4.4M215.7 65.8l4.4 4.4m-4.4 0l4.4 -4.4M215.4 67.1l4.4 4.4m-4.4 0l4.4 -4.4M215.1 68.5l4.4 4.4m-4.4 0l4.4 -4.4M214.8 69.9l4.4 4.4m-4.4 0l4.4 -4.4M214.5 71.3l4.4 4.4m-4.4 0l4.4 -4.4M214.3 72.6l4.4 4.4m-4.4 0l4.4 -4.4M214 74l4.4 4.4m-4.4 0l4.4 -4.4M213.7 75.4l4.4 4.4m-4.4 0l4.4 -4.4M213.4 76.7l4.4 4.4m-4.4 0l4.4 -4.4M213.1 78.1l4.4 4.4m-4.4 0l4.4 -4.4M212.9 79.5l4.4 4.4m-4.4 0l4.4 -4.4M212.6 80.9l4.4 4.4m-4.4 0l4.4 -4.4M212.3 82.2l4.4 4.4m-4.4 0l4.4 -4.4M212 83.6l4.4 4.4m-4.4 0l4.4 -4.4M211.7 85l4.4 4.4m-4.4 0l4.4 -4.4M211.4 86.3l4.4 4.4m-4.4 0l4.4 -4.4M211.1 87.7l4.4 4.4m-4.4 0l4.4 -4.4M211 89.1l4.4 4.4m-4.4 0l4.4 -4.4M210.9 90.5l4.4 4.4m-4.4 0l4.4 -4.4M210.9 91.9l4.4 4.4m-4.4 0l4.4 -4.4M210.8 93.3l4.4 4.4m-4.4 0l4.4 -4.4M210.7 94.7l4.4 4.4m-4.4 0l4.4 -4.4M210.6 96.1l4.4 4.4m-4.4 0l4.4 -4.4M210.6 97.5l4.4 4.4m-4.4 0l4.4 -4.4M210.5 98.9l4.4 4.4m-4.4 0l4.4 -4.4M210.4 100.3l4.4 4.4m-4.4 0l4.4 -4.4M210.3 101.7l4.4 4.4m-4.4 0l4.4 -4.4M210.2 103.1l4.4 4.4m-4.4 0l4.4 -4.4M210.2 104.5l4.4 4.4m-4.4 0l4.4 -4.4M210.1 105.9l4.4 4.4m-4.4 0l4.4 -4.4M210 107.3l4.4 4.4m-4.4 0l4.4 -4.4M209.9 108.7l4.4 4.4m-4.4 0l4.4 -4.4M209.8 110.1l4.4 4.4m-4.4 0l4.4 -4.4M209.8 111.5l4.4 4.4m-4.4 0l4.4 -4.4M209.7 112.9l4.4 4.4m-4.4 0l4.4 -4.4M209.6 114.3l4.4 4.4m-4.4 0l4.4 -4.4M209.5 115.7l4.4 4.4m-4.4 0l4.4 -4.4M209.5 117.1l4.4 4.4m-4.4 0l4.4 -4.4M209.4 118.5l4.4 4.4m-4.4 0l4.4 -4.4M209.3 119.9l4.4 4.4m-4.4 0l4.4 -4.4M209.2 121.3l4.4 4.4m-4.4 0l4.4 -4.4M209.1 122.6l4.4 4.4m-4.4 0l4.4 -4.4M209.1 124l4.4 4.4m-4.4 0l4.4 -4.4M209 125.4l4.4 4.4m-4.4 0l4.4 -4.4M208.9 126.8l4.4 4.4m-4.4 0l4.4 -4.4M208.8 128.2l4.4 4.4m-4.4 0l4.4 -4.4M208.7 129.6l4.4 4.4m-4.4 0l4.4 -4.4M208.7 131l4.4 4.4m-4.4 0l4.4 -4.4M208.6 132.4l4.4 4.4m-4.4 0l4.4 -4.4M208.5 133.8l4.4 4.4m-4.4 0l4.4 -4.4M208.4 135.2l4.4 4.4m-4.4 0l4.4 -4.4M208.4 136.6l4.4 4.4m-4.4 0l4.4 -4.4M208.3 138l4.4 4.4m-4.4 0l4.4 -4.4M208.2 139.4l4.4 4.4m-4.4 0l4.4 -4.4M208.1 140.8l4.4 4.4m-4.4 0l4.4 -4.4M208 142.2l4.4 4.4m-4.4 0l4.4 -4.4M208 143.6l4.4 4.4m-4.4 0l4.4 -4.4M207.9 145l4.4 4.4m-4.4 0l4.4 -4.4M207.8 146.4l4.4 4.4m-4.4 0l4.4 -4.4M207.7 147.8l4.4 4.4m-4.4 0l4.4 -4.4M207.6 149.2l4.4 4.4m-4.4 0l4.4 -4.4M207.6 150.6l4.4 4.4m-4.4 0l4.4 -4.4M207.5 152l4.4 4.4m-4.4 0l4.4 -4.4M207.4 153.4l4.4 4.4m-4.4 0l4.4 -4.4M207.3 154.8l4.4 4.4m-4.4 0l4.4 -4.4M207.3 156.2l4.4 4.4m-4.4 0l4.4 -4.4M207.2 157.6l4.4 4.4m-4.4 0l4.4 -4.4M207.1 159l4.4 4.4m-4.4 0l4.4 -4.4M207 160.4l4.4 4.4m-4.4 0l4.4 -4.4M206.9 161.8l4.4 4.4m-4.4 0l4.4 -4.4M206.9 163.2l4.4 4.4m-4.4 0l4.4 -4.4M206.8 164.6l4.4 4.4m-4.4 0l4.4 -4.4M206.7 166l4.4 4.4m-4.4 0l4.4 -4.4M206.6 167.4l4.4 4.4m-4.4 0l4.4 -4.4" fill="none" stroke="#f7db2a" stroke-width="1.05"/>
<path d="M218.6 59.8l4.4 4.4m-4.4 0l4.4 -4.4M219 60.9l4.4 4.4m-4.4 0l4.4 -4.4M219.4 62.1l4.4 4.4m-4.4 0l4.4 -4.4M219.8 63.2l4.4 4.4m-4.4 0l4.4 -4.4M220.2 64.3l4.4 4.4m-4.4 0l4.4 -4.4M220.6 65.5l4.4 4.4m-4.4 0l4.4 -4.4M221 66.6l4.4 4.4m-4.4 0l4.4 -4.4M221.4 67.7l4.4 4.4m-4.4 0l4.4 -4.4M221.8 68.9l4.4 4.4m-4.4 0l4.4 -4.4M222.2 70l4.4 4.4m-4.4 0l4.4 -4.4M222.6 71.1l4.4 4.4m-4.4 0l4.4 -4.4M223 72.3l4.4 4.4m-4.4 0l4.4 -4.4M223.4 73.4l4.4 4.4m-4.4 0l4.4 -4.4M223.8 74.5l4.4 4.4m-4.4 0l4.4 -4.4M224.1 75.7l4.4 4.4m-4.4 0l4.4 -4.4" fill="none" stroke="#f7db2a" stroke-width="1.05"/>
<path d="M226.3 59.8l4.4 4.4m-4.4 0l4.4 -4.4M226.2 61.2l4.4 4.4m-4.4 0l4.4 -4.4M226 62.6l4.4 4.4m-4.4 0l4.4 -4.4M225.9 64l4.4 4.4m-4.4 0l4.4 -4.4M225.7 65.4l4.4 4.4m-4.4 0l4.4 -4.4M225.6 66.8l4.4 4.4m-4.4 0l4.4 -4.4M225.4 68.2l4.4 4.4m-4.4 0l4.4 -4.4M225.3 69.5l4.4 4.4m-4.4 0l4.4 -4.4M225.1 70.9l4.4 4.4m-4.4 0l4.4 -4.4M225 72.3l4.4 4.4m-4.4 0l4.4 -4.4M224.8 73.7l4.4 4.4m-4.4 0l4.4 -4.4M224.7 75.1l4.4 4.4m-4.4 0l4.4 -4.4" fill="none" stroke="#f7db2a" stroke-width="1.05"/>
<path d="M222.3 60.3l4.4 4.4m-4.4 0l4.4 -4.4M222.5 61.9l4.4 4.4m-4.4 0l4.4 -4.4M222.8 63.5l4.4 4.4m-4.4 0l4.4 -4.4M223 65l4.4 4.4m-4.4 0l4.4 -4.4M223.2 66.6l4.4 4.4m-4.4 0l4.4 -4.4M223.5 68.2l4.4 4.4m-4.4 0l4.4 -4.4M223.7 69.8l4.4 4.4m-4.4 0l4.4 -4.4M223.9 71.4l4.4 4.4m-4.4 0l4.4 -4.4M224.2 73l4.4 4.4m-4.4 0l4.4 -4.4" fill="none" stroke="#f7db2a" stroke-width="1.05"/>
<path d="M247.8 41.5l4.4 4.4m-4.4 0l4.4 -4.4M249.9 41.5l4.4 4.4m-4.4 0l4.4 -4.4M252 41.5l4.4 4.4m-4.4 0l4.4 -4.4M254.1 41.5l4.4 4.4m-4.4 0l4.4 -4.4M256.2 41.5l4.4 4.4m-4.4 0l4.4 -4.4M258.3 41.5l4.4 4.4m-4.4 0l4.4 -4.4M260.4 41.5l4.4 4.4m-4.4 0l4.4 -4.4M262.5 41.5l4.4 4.4m-4.4 0l4.4 -4.4M264.6 41.5l4.4 4.4m-4.4 0l4.4 -4.4M266.7 41.5l4.4 4.4m-4.4 0l4.4 -4.4M268.8 41.5l4.4 4.4m-4.4 0l4.4 -4.4M270.9 41.5l4.4 4.4m-4.4 0l4.4 -4.4M273 41.6l4.4 4.4m-4.4 0l4.4 -4.4M275.1 41.6l4.4 4.4m-4.4 0l4.4 -4.4M277.2 41.6l4.4 4.4m-4.4 0l4.4 -4.4M279.3 41.6l4.4 4.4m-4.4 0l4.4 -4.4M281.4 41.6l4.4 4.4m-4.4 0l4.4 -4.4M283.5 41.6l4.4 4.4m-4.4 0l4.4 -4.4M285.6 41.6l4.4 4.4m-4.4 0l4.4 -4.4M287.7 41.6l4.4 4.4m-4.4 0l4.4 -4.4M289.8 41.6l4.4 4.4m-4.4 0l4.4 -4.4M291.9 41.6l4.4 4.4m-4.4 0l4.4 -4.4M294 41.6l4.4 4.4m-4.4 0l4.4 -4.4M296.1 41.6l4.4 4.4m-4.4 0l4.4 -4.4" fill="none" stroke="#f5e427" stroke-width="1.05"/>
<path d="M262.4 160.8l4.4 4.4m-4.4 0l4.4 -4.4" fill="none" stroke="#f5e427" stroke-width="0.85"/>
<path d="M146.8 96.4l4.4 4.4m-4.4 0l4.4 -4.4M148 96.4l4.4 4.4m-4.4 0l4.4 -4.4M149.2 96.4l4.4 4.4m-4.4 0l4.4 -4.4M150.4 96.4l4.4 4.4m-4.4 0l4.4 -4.4M151.6 96.4l4.4 4.4m-4.4 0l4.4 -4.4M152.8 96.4l4.4 4.4m-4.4 0l4.4 -4.4M154 96.4l4.4 4.4m-4.4 0l4.4 -4.4M155.2 96.4l4.4 4.4m-4.4 0l4.4 -4.4M156.4 96.4l4.4 4.4m-4.4 0l4.4 -4.4M157.6 96.4l4.4 4.4m-4.4 0l4.4 -4.4M158.8 96.4l4.4 4.4m-4.4 0l4.4 -4.4M160 96.4l4.4 4.4m-4.4 0l4.4 -4.4M161.2 96.4l4.4 4.4m-4.4 0l4.4 -4.4M162.4 96.4l4.4 4.4m-4.4 0l4.4 -4.4M163.6 96.4l4.4 4.4m-4.4 0l4.4 -4.4M164.8 96.4l4.4 4.4m-4.4 0l4.4 -4.4M166 96.4l4.4 4.4m-4.4 0l4.4 -4.4M167.2 96.4l4.4 4.4m-4.4 0l4.4 -4.4M168.4 96.4l4.4 4.4m-4.4 0l4.4 -4.4M169.6 96.4l4.4 4.4m-4.4 0l4.4 -4.4M170.8 96.4l4.4 4.4m-4.4 0l4.4 -4.4M172 96.4l4.4 4.4m-4.4 0l4.4 -4.4M173.2 96.4l4.4 4.4m-4.4 0l4.4 -4.4M174.4 96.4l4.4 4.4m-4.4 0l4.4 -4.4M175.6 96.4l4.4 4.4m-4.4 0l4.4 -4.4M176.8 96.4l4.4 4.4m-4.4 0l4.4 -4.4M178 96.4l4.4 4.4m-4.4 0l4.4 -4.4M179.2 96.4l4.4 4.4m-4.4 0l4.4 -4.4M180.4 96.4l4.4 4.4m-4.4 0l4.4 -4.4M181.6 96.4l4.4 4.4m-4.4 0l4.4 -4.4M182.8 96.4l4.4 4.4m-4.4 0l4.4 -4.4M184 96.4l4.4 4.4m-4.4 0l4.4 -4.4M185.2 96.4l4.4 4.4m-4.4 0l4.4 -4.4M186.4 96.4l4.4 4.4m-4.4 0l4.4 -4.4M187.6 96.4l4.4 4.4m-4.4 0l4.4 -4.4M188.8 96.4l4.4 4.4m-4.4 0l4.4 -4.4M190 96.4l4.4 4.4m-4.4 0l4.4 -4.4M191.2 96.4l4.4 4.4m-4.4 0l4.4 -4.4M192.4 96.5l4.4 4.4m-4.4 0l4.4 -4.4M193.6 96.5l4.4 4.4m-4.4 0l4.4 -4.4M194.8 96.5l4.4 4.4m-4.4 0l4.4 -4.4M196 96.5l4.4 4.4m-4.4 0l4.4 -4.4M197.2 96.5l4.4 4.4m-4.4 0l4.4 -4.4M198.4 96.5l4.4 4.4m-4.4 0l4.4 -4.4M199.6 96.5l4.4 4.4m-4.4 0l4.4 -4.4M200.8 96.5l4.4 4.4m-4.4 0l4.4 -4.4M202 96.5l4.4 4.4m-4.4 0l4.4 -4.4M203.2 96.5l4.4 4.4m-4.4 0l4.4 -4.4M204.4 96.5l4.4 4.4m-4.4 0l4.4 -4.4M205.6 96.5l4.4 4.4m-4.4 0l4.4 -4.4M206.8 96.5l4.4 4.4m-4.4 0l4.4 -4.4M208 96.5l4.4 4.4m-4.4 0l4.4 -4.4M209.2 96.5l4.4 4.4m-4.4 0l4.4 -4.4M210.4 96.5l4.4 4.4m-4.4 0l4.4 -4.4M211.6 96.5l4.4 4.4m-4.4 0l4.4 -4.4M212.8 96.5l4.4 4.4m-4.4 0l4.4 -4.4M214 96.5l4.4 4.4m-4.4 0l4.4 -4.4M215.2 96.5l4.4 4.4m-4.4 0l4.4 -4.4M216.4 96.5l4.4 4.4m-4.4 0l4.4 -4.4M217.6 96.5l4.4 4.4m-4.4 0l4.4 -4.4M218.8 96.5l4.4 4.4m-4.4 0l4.4 -4.4M220 96.5l4.4 4.4m-4.4 0l4.4 -4.4M221.2 96.5l4.4 4.4m-4.4 0l4.4 -4.4M222.4 96.5l4.4 4.4m-4.4 0l4.4 -4.4M223.6 96.5l4.4 4.4m-4.4 0l4.4 -4.4M224.8 96.5l4.4 4.4m-4.4 0l4.4 -4.4M226 96.5l4.4 4.4m-4.4 0l4.4 -4.4M227.2 96.5l4.4 4.4m-4.4 0l4.4 -4.4M228.4 96.5l4.4 4.4m-4.4 0l4.4 -4.4M229.6 96.5l4.4 4.4m-4.4 0l4.4 -4.4M230.8 96.5l4.4 4.4m-4.4 0l4.4 -4.4M232 96.5l4.4 4.4m-4.4 0l4.4 -4.4M233.2 96.5l4.4 4.4m-4.4 0l4.4 -4.4M234.4 96.5l4.4 4.4m-4.4 0l4.4 -4.4M235.6 96.5l4.4 4.4m-4.4 0l4.4 -4.4M236.8 96.5l4.4 4.4m-4.4 0l4.4 -4.4" fill="none" stroke="#f5ec23" stroke-width="1.05"/>
<path d="M211.8 41.2l4.4 4.4m-4.4 0l4.4 -4.4M213 41.2l4.4 4.4m-4.4 0l4.4 -4.4M214.2 41.2l4.4 4.4m-4.4 0l4.4 -4.4M215.4 41.2l4.4 4.4m-4.4 0l4.4 -4.4M216.6 41.2l4.4 4.4m-4.4 0l4.4 -4.4M217.8 41.2l4.4 4.4m-4.4 0l4.4 -4.4M219 41.2l4.4 4.4m-4.4 0l4.4 -4.4M220.2 41.2l4.4 4.4m-4.4 0l4.4 -4.4M221.4 41.3l4.4 4.4m-4.4 0l4.4 -4.4M222.6 41.3l4.4 4.4m-4.4 0l4.4 -4.4M223.8 41.3l4.4 4.4m-4.4 0l4.4 -4.4M225 41.3l4.4 4.4m-4.4 0l4.4 -4.4M226.2 41.3l4.4 4.4m-4.4 0l4.4 -4.4M227.4 41.3l4.4 4.4m-4.4 0l4.4 -4.4M228.6 41.3l4.4 4.4m-4.4 0l4.4 -4.4M229.8 41.3l4.4 4.4m-4.4 0l4.4 -4.4M231 41.3l4.4 4.4m-4.4 0l4.4 -4.4M232.2 41.3l4.4 4.4m-4.4 0l4.4 -4.4M233.4 41.3l4.4 4.4m-4.4 0l4.4 -4.4M234.6 41.3l4.4 4.4m-4.4 0l4.4 -4.4M235.8 41.3l4.4 4.4m-4.4 0l4.4 -4.4M237 41.3l4.4 4.4m-4.4 0l4.4 -4.4M238.2 41.3l4.4 4.4m-4.4 0l4.4 -4.4M239.4 41.4l4.4 4.4m-4.4 0l4.4 -4.4M240.6 41.4l4.4 4.4m-4.4 0l4.4 -4.4M241.8 41.4l4.4 4.4m-4.4 0l4.4 -4.4M243 41.4l4.4 4.4m-4.4 0l4.4 -4.4M244.2 41.4l4.4 4.4m-4.4 0l4.4 -4.4M245.4 41.4l4.4 4.4m-4.4 0l4.4 -4.4M246.6 41.4l4.4 4.4m-4.4 0l4.4 -4.4M247.8 41.4l4.4 4.4m-4.4 0l4.4 -4.4" fill="none" stroke="#f5ec23" stroke-width="1.05"/>
<path d="M276.5 82l4.4 4.4m-4.4 0l4.4 -4.4M277.7 82l4.4 4.4m-4.4 0l4.4 -4.4M278.9 82l4.4 4.4m-4.4 0l4.4 -4.4M280.1 82l4.4 4.4m-4.4 0l4.4 -4.4M281.3 82l4.4 4.4m-4.4 0l4.4 -4.4M282.5 82l4.4 4.4m-4.4 0l4.4 -4.4M283.7 82l4.4 4.4m-4.4 0l4.4 -4.4M284.9 82l4.4 4.4m-4.4 0l4.4 -4.4M286.1 82l4.4 4.4m-4.4 0l4.4 -4.4M287.3 82l4.4 4.4m-4.4 0l4.4 -4.4M288.5 82l4.4 4.4m-4.4 0l4.4 -4.4M289.7 82l4.4 4.4m-4.4 0l4.4 -4.4M290.9 82l4.4 4.4m-4.4 0l4.4 -4.4M292.1 82l4.4 4.4m-4.4 0l4.4 -4.4M293.3 82l4.4 4.4m-4.4 0l4.4 -4.4M294.5 82l4.4 4.4m-4.4 0l4.4 -4.4M295.7 81.9l4.4 4.4m-4.4 0l4.4 -4.4M296.9 81.9l4.4 4.4m-4.4 0l4.4 -4.4M298.1 81.9l4.4 4.4m-4.4 0l4.4 -4.4M299.3 81.9l4.4 4.4m-4.4 0l4.4 -4.4M300.5 81.9l4.4 4.4m-4.4 0l4.4 -4.4M301.7 81.9l4.4 4.4m-4.4 0l4.4 -4.4M302.9 81.9l4.4 4.4m-4.4 0l4.4 -4.4M304.1 81.9l4.4 4.4m-4.4 0l4.4 -4.4M305.3 81.9l4.4 4.4m-4.4 0l4.4 -4.4M306.5 81.9l4.4 4.4m-4.4 0l4.4 -4.4M307.7 81.9l4.4 4.4m-4.4 0l4.4 -4.4M308.9 81.9l4.4 4.4m-4.4 0l4.4 -4.4M310.1 81.9l4.4 4.4m-4.4 0l4.4 -4.4M311.3 81.9l4.4 4.4m-4.4 0l4.4 -4.4M312.5 81.9l4.4 4.4m-4.4 0l4.4 -4.4M313.7 81.9l4.4 4.4m-4.4 0l4.4 -4.4M314.9 81.9l4.4 4.4m-4.4 0l4.4 -4.4M316.1 81.9l4.4 4.4m-4.4 0l4.4 -4.4M317.3 81.9l4.4 4.4m-4.4 0l4.4 -4.4M318.5 81.9l4.4 4.4m-4.4 0l4.4 -4.4M319.7 81.9l4.4 4.4m-4.4 0l4.4 -4.4M320.9 81.9l4.4 4.4m-4.4 0l4.4 -4.4M322.1 81.9l4.4 4.4m-4.4 0l4.4 -4.4M323.3 81.9l4.4 4.4m-4.4 0l4.4 -4.4M324.5 81.9l4.4 4.4m-4.4 0l4.4 -4.4M325.7 81.9l4.4 4.4m-4.4 0l4.4 -4.4M326.9 81.9l4.4 4.4m-4.4 0l4.4 -4.4M328.1 81.9l4.4 4.4m-4.4 0l4.4 -4.4M329.3 81.9l4.4 4.4m-4.4 0l4.4 -4.4M330.5 81.9l4.4 4.4m-4.4 0l4.4 -4.4M331.7 81.9l4.4 4.4m-4.4 0l4.4 -4.4M332.9 81.9l4.4 4.4m-4.4 0l4.4 -4.4M334.1 81.8l4.4 4.4m-4.4 0l4.4 -4.4M335.3 81.8l4.4 4.4m-4.4 0l4.4 -4.4M336.5 81.8l4.4 4.4m-4.4 0l4.4 -4.4M337.7 81.8l4.4 4.4m-4.4 0l4.4 -4.4M338.9 81.8l4.4 4.4m-4.4 0l4.4 -4.4M340.1 81.8l4.4 4.4m-4.4 0l4.4 -4.4M341.3 81.8l4.4 4.4m-4.4 0l4.4 -4.4M342.5 81.8l4.4 4.4m-4.4 0l4.4 -4.4M343.7 81.8l4.4 4.4m-4.4 0l4.4 -4.4M344.9 81.8l4.4 4.4m-4.4 0l4.4 -4.4M346.1 81.8l4.4 4.4m-4.4 0l4.4 -4.4M347.3 81.8l4.4 4.4m-4.4 0l4.4 -4.4M348.5 81.8l4.4 4.4m-4.4 0l4.4 -4.4M349.7 81.8l4.4 4.4m-4.4 0l4.4 -4.4M350.9 81.8l4.4 4.4m-4.4 0l4.4 -4.4M352.1 81.8l4.4 4.4m-4.4 0l4.4 -4.4M353.2 81.5l4.4 4.4m-4.4 0l4.4 -4.4M354.2 80.8l4.4 4.4m-4.4 0l4.4 -4.4M355.2 80.1l4.4 4.4m-4.4 0l4.4 -4.4M356.1 79.4l4.4 4.4m-4.4 0l4.4 -4.4M357.1 78.7l4.4 4.4m-4.4 0l4.4 -4.4M358.1 78l4.4 4.4m-4.4 0l4.4 -4.4M359.1 77.3l4.4 4.4m-4.4 0l4.4 -4.4" fill="none" stroke="#f7f31d" stroke-width="1.05"/>
</g>
<path d="M105.1 166.8 L105.1 162.6 L105.1 158.5 L105.2 154.3 L105.4 150.1 L105.6 145.9 L106 141.7 L106.4 137.5 L107 133.3 L107.6 129.2 L108.2 125 L109 120.9 L109.9 116.7 L110.8 112.6 L111.8 108.5 L113 104.4 L114.1 100.4 L115.4 96.3 L116.8 92.3 L118.3 88.3 L119.8 84.3 L121.4 80.3 L123.1 76.4 L125 72.5 L126.8 68.6 L128.8 64.8 L130.9 60.9 L133.1 57.2 L135.4 53.4 L137.7 49.7 L140.2 46 L142.7 42.4 L145.4 38.8 L148.1 35.2 L151 31.7 L154 28.3 L157 24.8 L160.2 21.5 L163.5 18.2 L167 14.9 L170.5 11.7 L385.5 11.7 L389 14.9 L392.5 18.2 L395.8 21.5 L399 24.8 L402 28.3 L405 31.7 L407.9 35.2 L410.6 38.8 L413.3 42.4 L415.8 46 L418.3 49.7 L420.6 53.4 L422.9 57.2 L425.1 60.9 L427.2 64.8 L429.2 68.6 L431 72.5 L432.9 76.4 L434.6 80.3 L436.2 84.3 L437.7 88.3 L439.2 92.3 L440.6 96.3 L441.9 100.4 L443 104.4 L444.2 108.5 L445.2 112.6 L446.1 116.7 L447 120.9 L447.8 125 L448.4 129.2 L449 133.3 L449.6 137.5 L450 141.7 L450.4 145.9 L450.6 150.1 L450.8 154.3 L450.9 158.5 L450.9 162.6 L450.9 166.8Z" fill="none" stroke="#000" stroke-width="0.8"/>
<path d="M116.4 166.8v-3 M179 166.8v-3 M241.7 166.8v-3 M304.3 166.8v-3 M366.9 166.8v-3 M429.6 166.8v-3" stroke="#000" stroke-width="0.7" fill="none"/>
<text x="116.4" y="188" font-size="16" text-anchor="middle" fill="#000">120<tspan font-size="10.5" dy="-7.6">o</tspan><tspan dy="7.6">E</tspan></text>
<text x="179" y="188" font-size="16" text-anchor="middle" fill="#000">150<tspan font-size="10.5" dy="-7.6">o</tspan><tspan dy="7.6">E</tspan></text>
<text x="241.7" y="188" font-size="16" text-anchor="middle" fill="#000">180<tspan font-size="10.5" dy="-7.6">o</tspan><tspan dy="7.6">W</tspan></text>
<text x="304.3" y="188" font-size="16" text-anchor="middle" fill="#000">150<tspan font-size="10.5" dy="-7.6">o</tspan><tspan dy="7.6">W</tspan></text>
<text x="366.9" y="188" font-size="16" text-anchor="middle" fill="#000">120<tspan font-size="10.5" dy="-7.6">o</tspan><tspan dy="7.6">W</tspan></text>
<text x="429.6" y="188" font-size="16" text-anchor="middle" fill="#000">90<tspan font-size="10.5" dy="-7.6">o</tspan><tspan dy="7.6">W</tspan></text>
<text x="95.9" y="170.1" font-size="16" text-anchor="end" fill="#000">0<tspan font-size="10.5" dy="-7.6">o</tspan><tspan dy="7.6"></tspan></text>
<text x="102.8" y="138.7" font-size="16" text-anchor="end" fill="#000">12<tspan font-size="10.5" dy="-7.6">o</tspan><tspan dy="7.6">N</tspan></text>
<text x="109.9" y="107.9" font-size="16" text-anchor="end" fill="#000">24<tspan font-size="10.5" dy="-7.6">o</tspan><tspan dy="7.6">N</tspan></text>
<text x="121.8" y="78.1" font-size="16" text-anchor="end" fill="#000">36<tspan font-size="10.5" dy="-7.6">o</tspan><tspan dy="7.6">N</tspan></text>
<text x="138.8" y="50" font-size="16" text-anchor="end" fill="#000">48<tspan font-size="10.5" dy="-7.6">o</tspan><tspan dy="7.6">N</tspan></text>
<text x="161.5" y="24.2" font-size="16" text-anchor="end" fill="#000">60<tspan font-size="10.5" dy="-7.6">o</tspan><tspan dy="7.6">N</tspan></text>
<text x="70.6" y="46.2" font-size="26.7" fill="#000">a)</text>
<rect x="455.3" y="19.5" width="11.2" height="139.8" fill="url(#cb)" stroke="#262626" stroke-width="0.6"/>
<text x="471.3" y="146.5" font-size="10.9">1980</text>
<text x="471.3" y="117.8" font-size="10.9">1990</text>
<text x="471.3" y="89" font-size="10.9">2000</text>
<text x="471.3" y="60.2" font-size="10.9">2010</text>
<text x="471.3" y="31.5" font-size="10.9">2020</text>
<path d="M466.5 142.6h-1.6 M466.5 113.9h-1.6 M466.5 85.1h-1.6 M466.5 56.3h-1.6 M466.5 27.6h-1.6" stroke="#262626" stroke-width="0.6" fill="none"/>
<text x="461.4" y="13.2" font-size="11.2" text-anchor="middle">Year</text>
<path d="M93.3 393.5v-10h6.95v10z M141.9 393.5v-8.4h6.95v8.4z M169.7 393.5v-13.4h6.95v13.4z M176.7 393.5v-14.7h6.95v14.7z M183.6 393.5v-49h6.95v49z M190.6 393.5v-1.3h6.95v1.3z M204.5 393.5v-0.4h6.95v0.4z M211.4 393.5v-38.1h6.95v38.1z M218.4 393.5v-15.2h6.95v15.2z M225.3 393.5v-91.6h6.95v91.6z M232.3 393.5v-54.6h6.95v54.6z M239.2 393.5v-69.5h6.95v69.5z M246.2 393.5v-148.7h6.95v148.7z M253.1 393.5v-70.8h6.95v70.8z M260.1 393.5v-13.2h6.95v13.2z M267 393.5v-17h6.95v17z M273.9 393.5v-10.2h6.95v10.2z M280.9 393.5v-5.8h6.95v5.8z M287.8 393.5v-28h6.95v28z M294.8 393.5v-26h6.95v26z M301.7 393.5v-2.8h6.95v2.8z M308.7 393.5v-14.8h6.95v14.8z M315.6 393.5v-2.6h6.95v2.6z M322.6 393.5v-2.6h6.95v2.6z M329.5 393.5v-24.6h6.95v24.6z M336.5 393.5v-33.6h6.95v33.6z M343.4 393.5v-19h6.95v19z M350.4 393.5v-32.6h6.95v32.6z M357.3 393.5v-34.8h6.95v34.8z M364.3 393.5v-13.8h6.95v13.8z M371.2 393.5v-14.8h6.95v14.8z M378.2 393.5v-41.8h6.95v41.8z M385.1 393.5v-56.8h6.95v56.8z M392.1 393.5v-51.6h6.95v51.6z M399 393.5v-50.8h6.95v50.8z M406 393.5v-25.8h6.95v25.8z M412.9 393.5v-31.5h6.95v31.5z M419.9 393.5v-15.8h6.95v15.8z M426.8 393.5v-21.8h6.95v21.8z M433.8 393.5v-5.8h6.95v5.8z M440.7 393.5v-12.8h6.95v12.8z M447.6 393.5v-5.6h6.95v5.6z M461.5 393.5v-14.4h6.95v14.4z M468.5 393.5v-24.4h6.95v24.4z" fill="#6666ff" stroke="#10102c" stroke-width="0.65" stroke-linejoin="miter"/>
<rect x="65.5" y="238.5" width="424.5" height="155.0" fill="none" stroke="#262626" stroke-opacity="0.75" stroke-width="0.9"/>
<path d="M65.5 393.5v-4.2M65.5 238.5v4.2 M142.7 393.5v-4.2M142.7 238.5v4.2 M219.9 393.5v-4.2M219.9 238.5v4.2 M297 393.5v-4.2M297 238.5v4.2 M374.2 393.5v-4.2M374.2 238.5v4.2 M451.4 393.5v-4.2M451.4 238.5v4.2 M80.9 393.5v-2.1M80.9 238.5v2.1 M96.4 393.5v-2.1M96.4 238.5v2.1 M111.8 393.5v-2.1M111.8 238.5v2.1 M127.2 393.5v-2.1M127.2 238.5v2.1 M158.1 393.5v-2.1M158.1 238.5v2.1 M173.6 393.5v-2.1M173.6 238.5v2.1 M189 393.5v-2.1M189 238.5v2.1 M204.4 393.5v-2.1M204.4 238.5v2.1 M235.3 393.5v-2.1M235.3 238.5v2.1 M250.7 393.5v-2.1M250.7 238.5v2.1 M266.2 393.5v-2.1M266.2 238.5v2.1 M281.6 393.5v-2.1M281.6 238.5v2.1 M312.5 393.5v-2.1M312.5 238.5v2.1 M327.9 393.5v-2.1M327.9 238.5v2.1 M343.4 393.5v-2.1M343.4 238.5v2.1 M358.8 393.5v-2.1M358.8 238.5v2.1 M389.7 393.5v-2.1M389.7 238.5v2.1 M405.1 393.5v-2.1M405.1 238.5v2.1 M420.5 393.5v-2.1M420.5 238.5v2.1 M436 393.5v-2.1M436 238.5v2.1 M466.8 393.5v-2.1M466.8 238.5v2.1 M482.3 393.5v-2.1M482.3 238.5v2.1 M65.5 393.5h4.2M490 393.5h-4.2 M65.5 341.8h4.2M490 341.8h-4.2 M65.5 290.2h4.2M490 290.2h-4.2 M65.5 238.5h4.2M490 238.5h-4.2" stroke="#262626" stroke-opacity="0.8" stroke-width="0.8" fill="none"/>
<text x="59" y="399.8" font-size="15.2" text-anchor="end">0</text>
<text x="59" y="348.1" font-size="15.2" text-anchor="end">500</text>
<text x="59" y="296.5" font-size="15.2" text-anchor="end">1000</text>
<text x="59" y="244.8" font-size="15.2" text-anchor="end">1500</text>
<text x="65.1" y="415.4" font-size="15.2" text-anchor="middle">1970</text>
<text x="142.3" y="415.4" font-size="15.2" text-anchor="middle">1980</text>
<text x="219.5" y="415.4" font-size="15.2" text-anchor="middle">1990</text>
<text x="296.6" y="415.4" font-size="15.2" text-anchor="middle">2000</text>
<text x="373.8" y="415.4" font-size="15.2" text-anchor="middle">2010</text>
<text x="451" y="415.4" font-size="15.2" text-anchor="middle">2020</text>
<text x="278" y="437.3" font-size="16.9" text-anchor="middle">Year</text>
<text transform="translate(17.1 316) rotate(-90)" font-size="16.9" text-anchor="middle">Station number</text>
<text x="71.5" y="273.6" font-size="26.7" fill="#000">b)</text>
<path d="M65.5 620.5v-82.2h35.38v82.2z M100.9 620.5v-71.2h35.38v71.2z M136.2 620.5v-35.5h35.38v35.5z M171.6 620.5v-63.7h35.38v63.7z M207 620.5v-84h35.38v84z M242.4 620.5v-129.7h35.38v129.7z M277.8 620.5v-113.3h35.38v113.3z M313.1 620.5v-133h35.38v133z M348.5 620.5v-65h35.38v65z M383.9 620.5v-66h35.38v66z M419.2 620.5v-76.5h35.38v76.5z M454.6 620.5v-33.3h35.38v33.3z" fill="#6666ff" stroke="#10102c" stroke-width="0.65"/>
<rect x="65.5" y="465.5" width="424.5" height="155.0" fill="none" stroke="#262626" stroke-opacity="0.75" stroke-width="0.9"/>
<path d="M83.2 620.5v-4.2M83.2 465.5v4.2 M118.6 620.5v-4.2M118.6 465.5v4.2 M153.9 620.5v-4.2M153.9 465.5v4.2 M189.3 620.5v-4.2M189.3 465.5v4.2 M224.7 620.5v-4.2M224.7 465.5v4.2 M260.1 620.5v-4.2M260.1 465.5v4.2 M295.4 620.5v-4.2M295.4 465.5v4.2 M330.8 620.5v-4.2M330.8 465.5v4.2 M366.2 620.5v-4.2M366.2 465.5v4.2 M401.6 620.5v-4.2M401.6 465.5v4.2 M436.9 620.5v-4.2M436.9 465.5v4.2 M472.3 620.5v-4.2M472.3 465.5v4.2 M65.5 620.5v-2.1M65.5 465.5v2.1 M72.6 620.5v-2.1M72.6 465.5v2.1 M79.7 620.5v-2.1M79.7 465.5v2.1 M86.7 620.5v-2.1M86.7 465.5v2.1 M93.8 620.5v-2.1M93.8 465.5v2.1 M100.9 620.5v-2.1M100.9 465.5v2.1 M108 620.5v-2.1M108 465.5v2.1 M115 620.5v-2.1M115 465.5v2.1 M122.1 620.5v-2.1M122.1 465.5v2.1 M129.2 620.5v-2.1M129.2 465.5v2.1 M136.2 620.5v-2.1M136.2 465.5v2.1 M143.3 620.5v-2.1M143.3 465.5v2.1 M150.4 620.5v-2.1M150.4 465.5v2.1 M157.5 620.5v-2.1M157.5 465.5v2.1 M164.6 620.5v-2.1M164.6 465.5v2.1 M171.6 620.5v-2.1M171.6 465.5v2.1 M178.7 620.5v-2.1M178.7 465.5v2.1 M185.8 620.5v-2.1M185.8 465.5v2.1 M192.9 620.5v-2.1M192.9 465.5v2.1 M199.9 620.5v-2.1M199.9 465.5v2.1 M207 620.5v-2.1M207 465.5v2.1 M214.1 620.5v-2.1M214.1 465.5v2.1 M221.2 620.5v-2.1M221.2 465.5v2.1 M228.2 620.5v-2.1M228.2 465.5v2.1 M235.3 620.5v-2.1M235.3 465.5v2.1 M242.4 620.5v-2.1M242.4 465.5v2.1 M249.5 620.5v-2.1M249.5 465.5v2.1 M256.5 620.5v-2.1M256.5 465.5v2.1 M263.6 620.5v-2.1M263.6 465.5v2.1 M270.7 620.5v-2.1M270.7 465.5v2.1 M277.8 620.5v-2.1M277.8 465.5v2.1 M284.8 620.5v-2.1M284.8 465.5v2.1 M291.9 620.5v-2.1M291.9 465.5v2.1 M299 620.5v-2.1M299 465.5v2.1 M306.1 620.5v-2.1M306.1 465.5v2.1 M313.1 620.5v-2.1M313.1 465.5v2.1 M320.2 620.5v-2.1M320.2 465.5v2.1 M327.3 620.5v-2.1M327.3 465.5v2.1 M334.4 620.5v-2.1M334.4 465.5v2.1 M341.4 620.5v-2.1M341.4 465.5v2.1 M348.5 620.5v-2.1M348.5 465.5v2.1 M355.6 620.5v-2.1M355.6 465.5v2.1 M362.7 620.5v-2.1M362.7 465.5v2.1 M369.7 620.5v-2.1M369.7 465.5v2.1 M376.8 620.5v-2.1M376.8 465.5v2.1 M383.9 620.5v-2.1M383.9 465.5v2.1 M391 620.5v-2.1M391 465.5v2.1 M398 620.5v-2.1M398 465.5v2.1 M405.1 620.5v-2.1M405.1 465.5v2.1 M412.2 620.5v-2.1M412.2 465.5v2.1 M419.2 620.5v-2.1M419.2 465.5v2.1 M426.3 620.5v-2.1M426.3 465.5v2.1 M433.4 620.5v-2.1M433.4 465.5v2.1 M440.5 620.5v-2.1M440.5 465.5v2.1 M447.6 620.5v-2.1M447.6 465.5v2.1 M454.6 620.5v-2.1M454.6 465.5v2.1 M461.7 620.5v-2.1M461.7 465.5v2.1 M468.8 620.5v-2.1M468.8 465.5v2.1 M475.9 620.5v-2.1M475.9 465.5v2.1 M482.9 620.5v-2.1M482.9 465.5v2.1 M490 620.5v-2.1M490 465.5v2.1 M65.5 620.5h4.2M490 620.5h-4.2 M65.5 581.8h4.2M490 581.8h-4.2 M65.5 543h4.2M490 543h-4.2 M65.5 504.2h4.2M490 504.2h-4.2 M65.5 465.5h4.2M490 465.5h-4.2" stroke="#262626" stroke-opacity="0.8" stroke-width="0.8" fill="none"/>
<text x="59" y="626.8" font-size="15.2" text-anchor="end">0</text>
<text x="59" y="588" font-size="15.2" text-anchor="end">500</text>
<text x="59" y="549.3" font-size="15.2" text-anchor="end">1000</text>
<text x="59" y="510.6" font-size="15.2" text-anchor="end">1500</text>
<text x="59" y="471.8" font-size="15.2" text-anchor="end">2000</text>
<text x="80.5" y="642.4" font-size="15.2" text-anchor="middle">1</text>
<text x="115.9" y="642.4" font-size="15.2" text-anchor="middle">2</text>
<text x="151.2" y="642.4" font-size="15.2" text-anchor="middle">3</text>
<text x="186.6" y="642.4" font-size="15.2" text-anchor="middle">4</text>
<text x="222" y="642.4" font-size="15.2" text-anchor="middle">5</text>
<text x="257.4" y="642.4" font-size="15.2" text-anchor="middle">6</text>
<text x="292.7" y="642.4" font-size="15.2" text-anchor="middle">7</text>
<text x="328.1" y="642.4" font-size="15.2" text-anchor="middle">8</text>
<text x="363.5" y="642.4" font-size="15.2" text-anchor="middle">9</text>
<text x="400.7" y="642.4" font-size="15.2" text-anchor="middle">10</text>
<text x="436" y="642.4" font-size="15.2" text-anchor="middle">11</text>
<text x="471.4" y="642.4" font-size="15.2" text-anchor="middle">12</text>
<text x="278" y="664.3" font-size="16.9" text-anchor="middle">Month</text>
<text transform="translate(17.1 543) rotate(-90)" font-size="16.9" text-anchor="middle">Station number</text>
<text x="71.5" y="501.5" font-size="26.7" fill="#000">c)</text>
</svg></body></html>
